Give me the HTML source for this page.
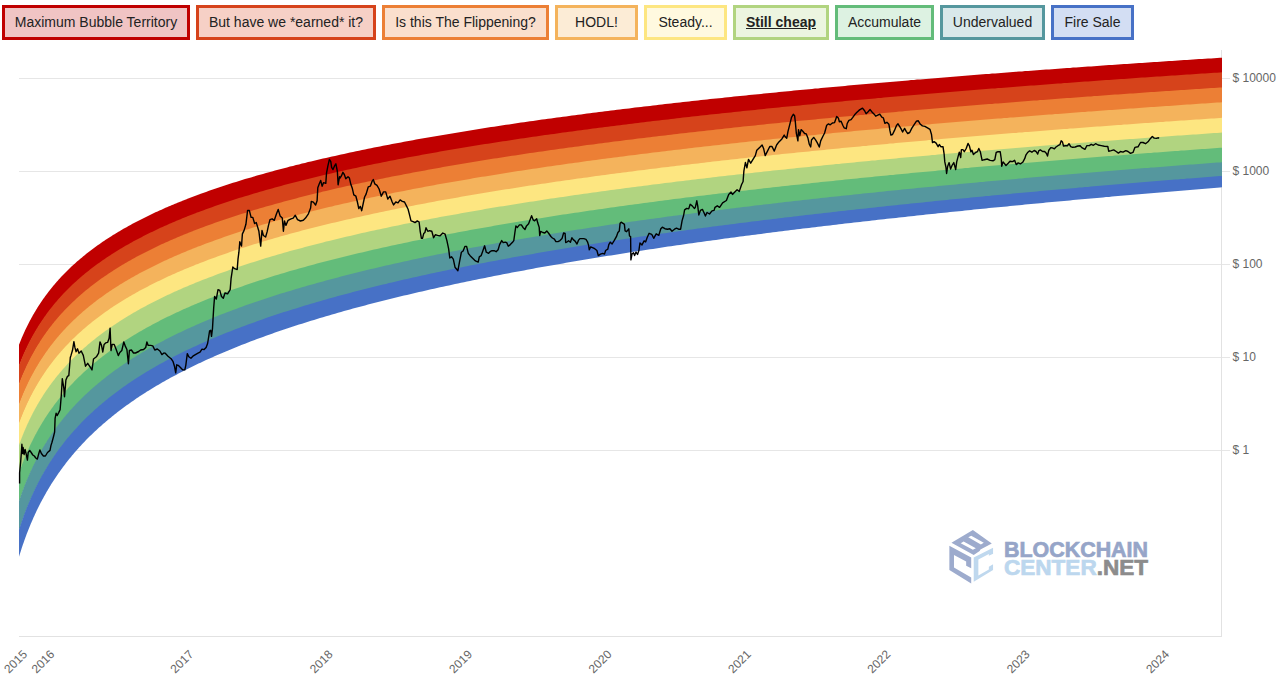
<!DOCTYPE html>
<html><head><meta charset="utf-8"><style>
html,body{margin:0;padding:0;background:#fff;width:1283px;height:690px;overflow:hidden;position:relative;font-family:"Liberation Sans",sans-serif}
.btn span{position:relative;top:-1px}
.btn{position:absolute;top:5px;height:35px;box-sizing:border-box;border:3px solid;font-size:14px;color:#222;display:flex;align-items:center;justify-content:center;white-space:nowrap}
svg{position:absolute;left:0;top:0}
.yl{font-family:"Liberation Sans",sans-serif;font-size:12px;fill:#666}
.xl{font-family:"Liberation Sans",sans-serif;font-size:12px;fill:#666}
.lg{font-family:"Liberation Sans",sans-serif;font-size:22px;font-weight:bold;stroke-width:0.7px}
</style></head><body>
<div class="btn" style="left:2px;width:188px;border-color:#C00000;background:#F0C4C4"><span>Maximum Bubble Territory</span></div>
<div class="btn" style="left:196px;width:180px;border-color:#D6431B;background:#F6D0C6"><span>But have we *earned* it?</span></div>
<div class="btn" style="left:382px;width:167px;border-color:#EC7F35;background:#FADFCD"><span>Is this The Flippening?</span></div>
<div class="btn" style="left:555px;width:83px;border-color:#F4B35C;background:#FCECD6"><span>HODL!</span></div>
<div class="btn" style="left:644px;width:83px;border-color:#FDE681;background:#FFF9DF"><span>Steady...</span></div>
<div class="btn" style="left:733px;width:96px;border-color:#B1D480;background:#ECF5E0"><span style="font-weight:bold;text-decoration:underline">Still cheap</span></div>
<div class="btn" style="left:835px;width:99px;border-color:#63BC7A;background:#DDF2E2"><span>Accumulate</span></div>
<div class="btn" style="left:940px;width:105px;border-color:#55979E;background:#D9E8EA"><span>Undervalued</span></div>
<div class="btn" style="left:1051px;width:83px;border-color:#4771C6;background:#D3DEF3"><span>Fire Sale</span></div>

<svg width="1283" height="690" viewBox="0 0 1283 690">
<line x1="19" y1="78.5" x2="1230" y2="78.5" stroke="#e6e6e6" stroke-width="1"/>
<text x="1232.5" y="82.1" class="yl">$ 10000</text>
<line x1="19" y1="171.5" x2="1230" y2="171.5" stroke="#e6e6e6" stroke-width="1"/>
<text x="1232.5" y="175.1" class="yl">$ 1000</text>
<line x1="19" y1="264.5" x2="1230" y2="264.5" stroke="#e6e6e6" stroke-width="1"/>
<text x="1232.5" y="268.1" class="yl">$ 100</text>
<line x1="19" y1="357.5" x2="1230" y2="357.5" stroke="#e6e6e6" stroke-width="1"/>
<text x="1232.5" y="361.1" class="yl">$ 10</text>
<line x1="19" y1="450.5" x2="1230" y2="450.5" stroke="#e6e6e6" stroke-width="1"/>
<text x="1232.5" y="454.1" class="yl">$ 1</text>

<line x1="19" y1="636.5" x2="1222" y2="636.5" stroke="#e2e2e2" stroke-width="1"/>
<line x1="1221.5" y1="50" x2="1221.5" y2="637" stroke="#e2e2e2" stroke-width="1"/>
<path d="M19.0,344.7 L19.5,343.4 L20.0,342.2 L20.5,340.9 L21.0,339.7 L21.5,338.5 L22.0,337.3 L22.5,336.2 L23.0,335.0 L23.5,333.9 L24.0,332.8 L24.5,331.7 L25.0,330.6 L25.5,329.6 L26.0,328.5 L26.5,327.5 L27.0,326.5 L27.5,325.4 L28.0,324.5 L28.5,323.5 L29.0,322.5 L29.5,321.5 L30.0,320.6 L30.5,319.7 L31.0,318.7 L31.5,317.8 L32.0,316.9 L32.5,316.0 L33.0,315.1 L33.5,314.3 L34.0,313.4 L34.5,312.6 L35.0,311.7 L35.5,310.9 L36.0,310.0 L36.5,309.2 L37.0,308.4 L37.5,307.6 L38.0,306.8 L38.5,306.0 L39.0,305.3 L39.5,304.5 L40.0,303.7 L40.5,303.0 L41.0,302.2 L41.5,301.5 L42.0,300.8 L42.5,300.0 L43.0,299.3 L43.5,298.6 L44.0,297.9 L44.5,297.2 L45.0,296.5 L45.5,295.8 L46.0,295.2 L46.5,294.5 L47.0,293.8 L47.5,293.2 L48.0,292.5 L48.5,291.8 L49.0,291.2 L49.5,290.6 L50.0,289.9 L50.5,289.3 L51.0,288.7 L51.5,288.0 L52.0,287.4 L52.5,286.8 L53.0,286.2 L53.5,285.6 L54.0,285.0 L54.5,284.4 L55.0,283.8 L55.5,283.3 L56.0,282.7 L56.5,282.1 L57.0,281.5 L57.5,281.0 L58.0,280.4 L58.5,279.8 L59.0,279.3 L59.5,278.7 L60.0,278.2 L61.0,277.1 L62.0,276.1 L63.0,275.0 L64.0,274.0 L65.0,272.9 L66.0,271.9 L67.0,270.9 L68.0,270.0 L69.0,269.0 L70.0,268.0 L71.0,267.1 L72.0,266.1 L73.0,265.2 L74.0,264.3 L75.0,263.4 L76.0,262.5 L77.0,261.6 L78.0,260.7 L79.0,259.9 L80.0,259.0 L81.0,258.2 L82.0,257.4 L83.0,256.5 L84.0,255.7 L85.0,254.9 L86.0,254.1 L87.0,253.3 L88.0,252.5 L89.0,251.7 L90.0,251.0 L91.0,250.2 L92.0,249.5 L93.0,248.7 L94.0,248.0 L95.0,247.2 L96.0,246.5 L97.0,245.8 L98.0,245.1 L99.0,244.4 L100.0,243.7 L101.0,243.0 L102.0,242.3 L103.0,241.6 L104.0,241.0 L105.0,240.3 L106.0,239.6 L107.0,239.0 L108.0,238.3 L109.0,237.7 L110.0,237.0 L111.0,236.4 L112.0,235.8 L113.0,235.1 L114.0,234.5 L115.0,233.9 L116.0,233.3 L117.0,232.7 L118.0,232.1 L119.0,231.5 L120.0,230.9 L121.0,230.3 L122.0,229.7 L123.0,229.1 L124.0,228.6 L125.0,228.0 L126.0,227.4 L127.0,226.9 L128.0,226.3 L129.0,225.8 L130.0,225.2 L131.0,224.7 L132.0,224.1 L133.0,223.6 L134.0,223.1 L135.0,222.5 L136.0,222.0 L137.0,221.5 L138.0,220.9 L139.0,220.4 L140.0,219.9 L141.0,219.4 L142.0,218.9 L143.0,218.4 L144.0,217.9 L145.0,217.4 L146.0,216.9 L147.0,216.4 L148.0,215.9 L149.0,215.4 L150.0,215.0 L151.0,214.5 L152.0,214.0 L153.0,213.5 L154.0,213.1 L155.0,212.6 L156.0,212.1 L157.0,211.7 L158.0,211.2 L159.0,210.8 L160.0,210.3 L161.0,209.9 L162.0,209.4 L163.0,209.0 L164.0,208.5 L165.0,208.1 L166.0,207.6 L167.0,207.2 L168.0,206.8 L169.0,206.3 L170.0,205.9 L171.0,205.5 L172.0,205.1 L173.0,204.7 L174.0,204.2 L175.0,203.8 L176.0,203.4 L177.0,203.0 L178.0,202.6 L179.0,202.2 L180.0,201.8 L181.0,201.4 L182.0,201.0 L183.0,200.6 L184.0,200.2 L185.0,199.8 L186.0,199.4 L187.0,199.0 L188.0,198.6 L189.0,198.2 L190.0,197.8 L191.0,197.4 L192.0,197.1 L193.0,196.7 L194.0,196.3 L195.0,195.9 L196.0,195.6 L197.0,195.2 L198.0,194.8 L199.0,194.4 L200.0,194.1 L203.0,193.0 L206.0,191.9 L209.0,190.8 L212.0,189.8 L215.0,188.8 L218.0,187.8 L221.0,186.7 L224.0,185.8 L227.0,184.8 L230.0,183.8 L233.0,182.8 L236.0,181.9 L239.0,181.0 L242.0,180.1 L245.0,179.1 L248.0,178.2 L251.0,177.4 L254.0,176.5 L257.0,175.6 L260.0,174.7 L263.0,173.9 L266.0,173.1 L269.0,172.2 L272.0,171.4 L275.0,170.6 L278.0,169.8 L281.0,169.0 L284.0,168.2 L287.0,167.4 L290.0,166.6 L293.0,165.9 L296.0,165.1 L299.0,164.4 L302.0,163.6 L305.0,162.9 L308.0,162.1 L311.0,161.4 L314.0,160.7 L317.0,160.0 L320.0,159.3 L323.0,158.6 L326.0,157.9 L329.0,157.2 L332.0,156.5 L335.0,155.9 L338.0,155.2 L341.0,154.5 L344.0,153.9 L347.0,153.2 L350.0,152.6 L353.0,152.0 L356.0,151.3 L359.0,150.7 L362.0,150.1 L365.0,149.4 L368.0,148.8 L371.0,148.2 L374.0,147.6 L377.0,147.0 L380.0,146.4 L383.0,145.8 L386.0,145.2 L389.0,144.7 L392.0,144.1 L395.0,143.5 L398.0,142.9 L401.0,142.4 L404.0,141.8 L407.0,141.3 L410.0,140.7 L413.0,140.2 L416.0,139.6 L419.0,139.1 L422.0,138.5 L425.0,138.0 L428.0,137.5 L431.0,137.0 L434.0,136.4 L437.0,135.9 L440.0,135.4 L443.0,134.9 L446.0,134.4 L449.0,133.9 L452.0,133.4 L455.0,132.9 L458.0,132.4 L461.0,131.9 L464.0,131.4 L467.0,130.9 L470.0,130.4 L473.0,129.9 L476.0,129.5 L479.0,129.0 L482.0,128.5 L485.0,128.0 L488.0,127.6 L491.0,127.1 L494.0,126.7 L497.0,126.2 L500.0,125.7 L503.0,125.3 L506.0,124.8 L509.0,124.4 L512.0,124.0 L515.0,123.5 L518.0,123.1 L521.0,122.6 L524.0,122.2 L527.0,121.8 L530.0,121.3 L533.0,120.9 L536.0,120.5 L539.0,120.1 L542.0,119.6 L545.0,119.2 L548.0,118.8 L551.0,118.4 L554.0,118.0 L557.0,117.6 L560.0,117.2 L563.0,116.8 L566.0,116.4 L569.0,116.0 L572.0,115.6 L575.0,115.2 L578.0,114.8 L581.0,114.4 L584.0,114.0 L587.0,113.6 L590.0,113.2 L593.0,112.8 L596.0,112.4 L599.0,112.1 L602.0,111.7 L605.0,111.3 L608.0,110.9 L611.0,110.6 L614.0,110.2 L617.0,109.8 L620.0,109.4 L623.0,109.1 L626.0,108.7 L629.0,108.4 L632.0,108.0 L635.0,107.6 L638.0,107.3 L641.0,106.9 L644.0,106.6 L647.0,106.2 L650.0,105.9 L653.0,105.5 L656.0,105.2 L659.0,104.8 L662.0,104.5 L665.0,104.1 L668.0,103.8 L671.0,103.4 L674.0,103.1 L677.0,102.8 L680.0,102.4 L683.0,102.1 L686.0,101.8 L689.0,101.4 L692.0,101.1 L695.0,100.8 L698.0,100.4 L701.0,100.1 L704.0,99.8 L707.0,99.5 L710.0,99.1 L713.0,98.8 L716.0,98.5 L719.0,98.2 L722.0,97.9 L725.0,97.6 L728.0,97.2 L731.0,96.9 L734.0,96.6 L737.0,96.3 L740.0,96.0 L743.0,95.7 L746.0,95.4 L749.0,95.1 L752.0,94.8 L755.0,94.5 L758.0,94.2 L761.0,93.9 L764.0,93.6 L767.0,93.3 L770.0,93.0 L773.0,92.7 L776.0,92.4 L779.0,92.1 L782.0,91.8 L785.0,91.5 L788.0,91.2 L791.0,90.9 L794.0,90.6 L797.0,90.3 L800.0,90.1 L803.0,89.8 L806.0,89.5 L809.0,89.2 L812.0,88.9 L815.0,88.6 L818.0,88.4 L821.0,88.1 L824.0,87.8 L827.0,87.5 L830.0,87.3 L833.0,87.0 L836.0,86.7 L839.0,86.4 L842.0,86.2 L845.0,85.9 L848.0,85.6 L851.0,85.3 L854.0,85.1 L857.0,84.8 L860.0,84.5 L863.0,84.3 L866.0,84.0 L869.0,83.8 L872.0,83.5 L875.0,83.2 L878.0,83.0 L881.0,82.7 L884.0,82.4 L887.0,82.2 L890.0,81.9 L893.0,81.7 L896.0,81.4 L899.0,81.2 L902.0,80.9 L905.0,80.7 L908.0,80.4 L911.0,80.1 L914.0,79.9 L917.0,79.6 L920.0,79.4 L923.0,79.2 L926.0,78.9 L929.0,78.7 L932.0,78.4 L935.0,78.2 L938.0,77.9 L941.0,77.7 L944.0,77.4 L947.0,77.2 L950.0,76.9 L953.0,76.7 L956.0,76.5 L959.0,76.2 L962.0,76.0 L965.0,75.8 L968.0,75.5 L971.0,75.3 L974.0,75.0 L977.0,74.8 L980.0,74.6 L983.0,74.3 L986.0,74.1 L989.0,73.9 L992.0,73.6 L995.0,73.4 L998.0,73.2 L1001.0,73.0 L1004.0,72.7 L1007.0,72.5 L1010.0,72.3 L1013.0,72.0 L1016.0,71.8 L1019.0,71.6 L1022.0,71.4 L1025.0,71.1 L1028.0,70.9 L1031.0,70.7 L1034.0,70.5 L1037.0,70.3 L1040.0,70.0 L1043.0,69.8 L1046.0,69.6 L1049.0,69.4 L1052.0,69.2 L1055.0,68.9 L1058.0,68.7 L1061.0,68.5 L1064.0,68.3 L1067.0,68.1 L1070.0,67.9 L1073.0,67.6 L1076.0,67.4 L1079.0,67.2 L1082.0,67.0 L1085.0,66.8 L1088.0,66.6 L1091.0,66.4 L1094.0,66.2 L1097.0,66.0 L1100.0,65.7 L1103.0,65.5 L1106.0,65.3 L1109.0,65.1 L1112.0,64.9 L1115.0,64.7 L1118.0,64.5 L1121.0,64.3 L1124.0,64.1 L1127.0,63.9 L1130.0,63.7 L1133.0,63.5 L1136.0,63.3 L1139.0,63.1 L1142.0,62.9 L1145.0,62.7 L1148.0,62.5 L1151.0,62.3 L1154.0,62.1 L1157.0,61.9 L1160.0,61.7 L1163.0,61.5 L1166.0,61.3 L1169.0,61.1 L1172.0,60.9 L1175.0,60.7 L1178.0,60.5 L1181.0,60.3 L1184.0,60.1 L1187.0,59.9 L1190.0,59.7 L1193.0,59.5 L1196.0,59.3 L1199.0,59.1 L1202.0,59.0 L1205.0,58.8 L1208.0,58.6 L1211.0,58.4 L1214.0,58.2 L1217.0,58.0 L1220.0,57.8 L1222.0,57.7 L1222.0,73.5 L1220.0,73.7 L1217.0,73.9 L1214.0,74.0 L1211.0,74.2 L1208.0,74.4 L1205.0,74.6 L1202.0,74.8 L1199.0,75.0 L1196.0,75.2 L1193.0,75.4 L1190.0,75.6 L1187.0,75.8 L1184.0,76.0 L1181.0,76.2 L1178.0,76.4 L1175.0,76.6 L1172.0,76.8 L1169.0,77.0 L1166.0,77.2 L1163.0,77.4 L1160.0,77.6 L1157.0,77.8 L1154.0,78.0 L1151.0,78.2 L1148.0,78.4 L1145.0,78.6 L1142.0,78.8 L1139.0,79.0 L1136.0,79.2 L1133.0,79.4 L1130.0,79.6 L1127.0,79.9 L1124.0,80.1 L1121.0,80.3 L1118.0,80.5 L1115.0,80.7 L1112.0,80.9 L1109.0,81.1 L1106.0,81.3 L1103.0,81.5 L1100.0,81.7 L1097.0,82.0 L1094.0,82.2 L1091.0,82.4 L1088.0,82.6 L1085.0,82.8 L1082.0,83.0 L1079.0,83.3 L1076.0,83.5 L1073.0,83.7 L1070.0,83.9 L1067.0,84.1 L1064.0,84.3 L1061.0,84.6 L1058.0,84.8 L1055.0,85.0 L1052.0,85.2 L1049.0,85.5 L1046.0,85.7 L1043.0,85.9 L1040.0,86.1 L1037.0,86.4 L1034.0,86.6 L1031.0,86.8 L1028.0,87.0 L1025.0,87.3 L1022.0,87.5 L1019.0,87.7 L1016.0,87.9 L1013.0,88.2 L1010.0,88.4 L1007.0,88.6 L1004.0,88.9 L1001.0,89.1 L998.0,89.3 L995.0,89.6 L992.0,89.8 L989.0,90.0 L986.0,90.3 L983.0,90.5 L980.0,90.8 L977.0,91.0 L974.0,91.2 L971.0,91.5 L968.0,91.7 L965.0,92.0 L962.0,92.2 L959.0,92.4 L956.0,92.7 L953.0,92.9 L950.0,93.2 L947.0,93.4 L944.0,93.7 L941.0,93.9 L938.0,94.2 L935.0,94.4 L932.0,94.7 L929.0,94.9 L926.0,95.2 L923.0,95.4 L920.0,95.7 L917.0,95.9 L914.0,96.2 L911.0,96.4 L908.0,96.7 L905.0,97.0 L902.0,97.2 L899.0,97.5 L896.0,97.7 L893.0,98.0 L890.0,98.3 L887.0,98.5 L884.0,98.8 L881.0,99.1 L878.0,99.3 L875.0,99.6 L872.0,99.9 L869.0,100.1 L866.0,100.4 L863.0,100.7 L860.0,100.9 L857.0,101.2 L854.0,101.5 L851.0,101.8 L848.0,102.0 L845.0,102.3 L842.0,102.6 L839.0,102.9 L836.0,103.1 L833.0,103.4 L830.0,103.7 L827.0,104.0 L824.0,104.3 L821.0,104.5 L818.0,104.8 L815.0,105.1 L812.0,105.4 L809.0,105.7 L806.0,106.0 L803.0,106.3 L800.0,106.6 L797.0,106.9 L794.0,107.1 L791.0,107.4 L788.0,107.7 L785.0,108.0 L782.0,108.3 L779.0,108.6 L776.0,108.9 L773.0,109.2 L770.0,109.5 L767.0,109.8 L764.0,110.1 L761.0,110.4 L758.0,110.8 L755.0,111.1 L752.0,111.4 L749.0,111.7 L746.0,112.0 L743.0,112.3 L740.0,112.6 L737.0,112.9 L734.0,113.3 L731.0,113.6 L728.0,113.9 L725.0,114.2 L722.0,114.5 L719.0,114.9 L716.0,115.2 L713.0,115.5 L710.0,115.8 L707.0,116.2 L704.0,116.5 L701.0,116.8 L698.0,117.2 L695.0,117.5 L692.0,117.8 L689.0,118.2 L686.0,118.5 L683.0,118.8 L680.0,119.2 L677.0,119.5 L674.0,119.9 L671.0,120.2 L668.0,120.6 L665.0,120.9 L662.0,121.3 L659.0,121.6 L656.0,122.0 L653.0,122.3 L650.0,122.7 L647.0,123.0 L644.0,123.4 L641.0,123.8 L638.0,124.1 L635.0,124.5 L632.0,124.9 L629.0,125.2 L626.0,125.6 L623.0,126.0 L620.0,126.4 L617.0,126.7 L614.0,127.1 L611.0,127.5 L608.0,127.9 L605.0,128.2 L602.0,128.6 L599.0,129.0 L596.0,129.4 L593.0,129.8 L590.0,130.2 L587.0,130.6 L584.0,131.0 L581.0,131.4 L578.0,131.8 L575.0,132.2 L572.0,132.6 L569.0,133.0 L566.0,133.4 L563.0,133.8 L560.0,134.2 L557.0,134.6 L554.0,135.1 L551.0,135.5 L548.0,135.9 L545.0,136.3 L542.0,136.8 L539.0,137.2 L536.0,137.6 L533.0,138.0 L530.0,138.5 L527.0,138.9 L524.0,139.4 L521.0,139.8 L518.0,140.3 L515.0,140.7 L512.0,141.2 L509.0,141.6 L506.0,142.1 L503.0,142.5 L500.0,143.0 L497.0,143.4 L494.0,143.9 L491.0,144.4 L488.0,144.9 L485.0,145.3 L482.0,145.8 L479.0,146.3 L476.0,146.8 L473.0,147.3 L470.0,147.8 L467.0,148.2 L464.0,148.7 L461.0,149.2 L458.0,149.7 L455.0,150.3 L452.0,150.8 L449.0,151.3 L446.0,151.8 L443.0,152.3 L440.0,152.8 L437.0,153.4 L434.0,153.9 L431.0,154.4 L428.0,155.0 L425.0,155.5 L422.0,156.0 L419.0,156.6 L416.0,157.1 L413.0,157.7 L410.0,158.3 L407.0,158.8 L404.0,159.4 L401.0,160.0 L398.0,160.5 L395.0,161.1 L392.0,161.7 L389.0,162.3 L386.0,162.9 L383.0,163.5 L380.0,164.1 L377.0,164.7 L374.0,165.3 L371.0,165.9 L368.0,166.5 L365.0,167.2 L362.0,167.8 L359.0,168.4 L356.0,169.1 L353.0,169.7 L350.0,170.4 L347.0,171.0 L344.0,171.7 L341.0,172.4 L338.0,173.0 L335.0,173.7 L332.0,174.4 L329.0,175.1 L326.0,175.8 L323.0,176.5 L320.0,177.2 L317.0,177.9 L314.0,178.7 L311.0,179.4 L308.0,180.1 L305.0,180.9 L302.0,181.6 L299.0,182.4 L296.0,183.2 L293.0,183.9 L290.0,184.7 L287.0,185.5 L284.0,186.3 L281.0,187.1 L278.0,187.9 L275.0,188.7 L272.0,189.6 L269.0,190.4 L266.0,191.3 L263.0,192.1 L260.0,193.0 L257.0,193.9 L254.0,194.8 L251.0,195.6 L248.0,196.6 L245.0,197.5 L242.0,198.4 L239.0,199.3 L236.0,200.3 L233.0,201.3 L230.0,202.2 L227.0,203.2 L224.0,204.2 L221.0,205.2 L218.0,206.3 L215.0,207.3 L212.0,208.4 L209.0,209.4 L206.0,210.5 L203.0,211.6 L200.0,212.7 L199.0,213.1 L198.0,213.5 L197.0,213.8 L196.0,214.2 L195.0,214.6 L194.0,215.0 L193.0,215.4 L192.0,215.8 L191.0,216.2 L190.0,216.5 L189.0,216.9 L188.0,217.3 L187.0,217.7 L186.0,218.1 L185.0,218.5 L184.0,218.9 L183.0,219.3 L182.0,219.7 L181.0,220.2 L180.0,220.6 L179.0,221.0 L178.0,221.4 L177.0,221.8 L176.0,222.2 L175.0,222.7 L174.0,223.1 L173.0,223.5 L172.0,223.9 L171.0,224.4 L170.0,224.8 L169.0,225.2 L168.0,225.7 L167.0,226.1 L166.0,226.6 L165.0,227.0 L164.0,227.5 L163.0,227.9 L162.0,228.4 L161.0,228.8 L160.0,229.3 L159.0,229.7 L158.0,230.2 L157.0,230.7 L156.0,231.2 L155.0,231.6 L154.0,232.1 L153.0,232.6 L152.0,233.1 L151.0,233.5 L150.0,234.0 L149.0,234.5 L148.0,235.0 L147.0,235.5 L146.0,236.0 L145.0,236.5 L144.0,237.0 L143.0,237.5 L142.0,238.1 L141.0,238.6 L140.0,239.1 L139.0,239.6 L138.0,240.1 L137.0,240.7 L136.0,241.2 L135.0,241.7 L134.0,242.3 L133.0,242.8 L132.0,243.4 L131.0,243.9 L130.0,244.5 L129.0,245.1 L128.0,245.6 L127.0,246.2 L126.0,246.8 L125.0,247.3 L124.0,247.9 L123.0,248.5 L122.0,249.1 L121.0,249.7 L120.0,250.3 L119.0,250.9 L118.0,251.5 L117.0,252.1 L116.0,252.7 L115.0,253.4 L114.0,254.0 L113.0,254.6 L112.0,255.3 L111.0,255.9 L110.0,256.6 L109.0,257.2 L108.0,257.9 L107.0,258.5 L106.0,259.2 L105.0,259.9 L104.0,260.6 L103.0,261.2 L102.0,261.9 L101.0,262.6 L100.0,263.4 L99.0,264.1 L98.0,264.8 L97.0,265.5 L96.0,266.2 L95.0,267.0 L94.0,267.7 L93.0,268.5 L92.0,269.2 L91.0,270.0 L90.0,270.8 L89.0,271.6 L88.0,272.4 L87.0,273.2 L86.0,274.0 L85.0,274.8 L84.0,275.6 L83.0,276.5 L82.0,277.3 L81.0,278.1 L80.0,279.0 L79.0,279.9 L78.0,280.8 L77.0,281.7 L76.0,282.6 L75.0,283.5 L74.0,284.4 L73.0,285.3 L72.0,286.3 L71.0,287.2 L70.0,288.2 L69.0,289.2 L68.0,290.2 L67.0,291.2 L66.0,292.2 L65.0,293.2 L64.0,294.3 L63.0,295.3 L62.0,296.4 L61.0,297.5 L60.0,298.6 L59.5,299.1 L59.0,299.7 L58.5,300.3 L58.0,300.8 L57.5,301.4 L57.0,302.0 L56.5,302.6 L56.0,303.1 L55.5,303.7 L55.0,304.3 L54.5,304.9 L54.0,305.5 L53.5,306.1 L53.0,306.7 L52.5,307.4 L52.0,308.0 L51.5,308.6 L51.0,309.3 L50.5,309.9 L50.0,310.5 L49.5,311.2 L49.0,311.8 L48.5,312.5 L48.0,313.2 L47.5,313.8 L47.0,314.5 L46.5,315.2 L46.0,315.9 L45.5,316.6 L45.0,317.3 L44.5,318.0 L44.0,318.7 L43.5,319.4 L43.0,320.1 L42.5,320.9 L42.0,321.6 L41.5,322.4 L41.0,323.1 L40.5,323.9 L40.0,324.6 L39.5,325.4 L39.0,326.2 L38.5,327.0 L38.0,327.8 L37.5,328.6 L37.0,329.4 L36.5,330.2 L36.0,331.1 L35.5,331.9 L35.0,332.8 L34.5,333.6 L34.0,334.5 L33.5,335.4 L33.0,336.3 L32.5,337.2 L32.0,338.1 L31.5,339.0 L31.0,339.9 L30.5,340.9 L30.0,341.8 L29.5,342.8 L29.0,343.8 L28.5,344.8 L28.0,345.8 L27.5,346.8 L27.0,347.8 L26.5,348.9 L26.0,349.9 L25.5,351.0 L25.0,352.1 L24.5,353.2 L24.0,354.3 L23.5,355.4 L23.0,356.6 L22.5,357.7 L22.0,358.9 L21.5,360.1 L21.0,361.4 L20.5,362.6 L20.0,363.9 L19.5,365.1 L19.0,366.4Z" fill="#C00000"/><path d="M19.0,365.2 L19.5,363.9 L20.0,362.7 L20.5,361.4 L21.0,360.2 L21.5,358.9 L22.0,357.7 L22.5,356.5 L23.0,355.4 L23.5,354.2 L24.0,353.1 L24.5,352.0 L25.0,350.9 L25.5,349.8 L26.0,348.7 L26.5,347.7 L27.0,346.6 L27.5,345.6 L28.0,344.6 L28.5,343.6 L29.0,342.6 L29.5,341.6 L30.0,340.6 L30.5,339.7 L31.0,338.7 L31.5,337.8 L32.0,336.9 L32.5,336.0 L33.0,335.1 L33.5,334.2 L34.0,333.3 L34.5,332.4 L35.0,331.6 L35.5,330.7 L36.0,329.9 L36.5,329.0 L37.0,328.2 L37.5,327.4 L38.0,326.6 L38.5,325.8 L39.0,325.0 L39.5,324.2 L40.0,323.4 L40.5,322.7 L41.0,321.9 L41.5,321.2 L42.0,320.4 L42.5,319.7 L43.0,318.9 L43.5,318.2 L44.0,317.5 L44.5,316.8 L45.0,316.1 L45.5,315.4 L46.0,314.7 L46.5,314.0 L47.0,313.3 L47.5,312.6 L48.0,312.0 L48.5,311.3 L49.0,310.6 L49.5,310.0 L50.0,309.3 L50.5,308.7 L51.0,308.1 L51.5,307.4 L52.0,306.8 L52.5,306.2 L53.0,305.5 L53.5,304.9 L54.0,304.3 L54.5,303.7 L55.0,303.1 L55.5,302.5 L56.0,301.9 L56.5,301.4 L57.0,300.8 L57.5,300.2 L58.0,299.6 L58.5,299.1 L59.0,298.5 L59.5,297.9 L60.0,297.4 L61.0,296.3 L62.0,295.2 L63.0,294.1 L64.0,293.1 L65.0,292.0 L66.0,291.0 L67.0,290.0 L68.0,289.0 L69.0,288.0 L70.0,287.0 L71.0,286.0 L72.0,285.1 L73.0,284.1 L74.0,283.2 L75.0,282.3 L76.0,281.4 L77.0,280.5 L78.0,279.6 L79.0,278.7 L80.0,277.8 L81.0,276.9 L82.0,276.1 L83.0,275.3 L84.0,274.4 L85.0,273.6 L86.0,272.8 L87.0,272.0 L88.0,271.2 L89.0,270.4 L90.0,269.6 L91.0,268.8 L92.0,268.0 L93.0,267.3 L94.0,266.5 L95.0,265.8 L96.0,265.0 L97.0,264.3 L98.0,263.6 L99.0,262.9 L100.0,262.2 L101.0,261.4 L102.0,260.7 L103.0,260.0 L104.0,259.4 L105.0,258.7 L106.0,258.0 L107.0,257.3 L108.0,256.7 L109.0,256.0 L110.0,255.4 L111.0,254.7 L112.0,254.1 L113.0,253.4 L114.0,252.8 L115.0,252.2 L116.0,251.5 L117.0,250.9 L118.0,250.3 L119.0,249.7 L120.0,249.1 L121.0,248.5 L122.0,247.9 L123.0,247.3 L124.0,246.7 L125.0,246.1 L126.0,245.6 L127.0,245.0 L128.0,244.4 L129.0,243.9 L130.0,243.3 L131.0,242.7 L132.0,242.2 L133.0,241.6 L134.0,241.1 L135.0,240.5 L136.0,240.0 L137.0,239.5 L138.0,238.9 L139.0,238.4 L140.0,237.9 L141.0,237.4 L142.0,236.9 L143.0,236.3 L144.0,235.8 L145.0,235.3 L146.0,234.8 L147.0,234.3 L148.0,233.8 L149.0,233.3 L150.0,232.8 L151.0,232.3 L152.0,231.9 L153.0,231.4 L154.0,230.9 L155.0,230.4 L156.0,230.0 L157.0,229.5 L158.0,229.0 L159.0,228.5 L160.0,228.1 L161.0,227.6 L162.0,227.2 L163.0,226.7 L164.0,226.3 L165.0,225.8 L166.0,225.4 L167.0,224.9 L168.0,224.5 L169.0,224.0 L170.0,223.6 L171.0,223.2 L172.0,222.7 L173.0,222.3 L174.0,221.9 L175.0,221.5 L176.0,221.0 L177.0,220.6 L178.0,220.2 L179.0,219.8 L180.0,219.4 L181.0,219.0 L182.0,218.5 L183.0,218.1 L184.0,217.7 L185.0,217.3 L186.0,216.9 L187.0,216.5 L188.0,216.1 L189.0,215.7 L190.0,215.3 L191.0,215.0 L192.0,214.6 L193.0,214.2 L194.0,213.8 L195.0,213.4 L196.0,213.0 L197.0,212.6 L198.0,212.3 L199.0,211.9 L200.0,211.5 L203.0,210.4 L206.0,209.3 L209.0,208.2 L212.0,207.2 L215.0,206.1 L218.0,205.1 L221.0,204.0 L224.0,203.0 L227.0,202.0 L230.0,201.0 L233.0,200.1 L236.0,199.1 L239.0,198.1 L242.0,197.2 L245.0,196.3 L248.0,195.4 L251.0,194.4 L254.0,193.6 L257.0,192.7 L260.0,191.8 L263.0,190.9 L266.0,190.1 L269.0,189.2 L272.0,188.4 L275.0,187.5 L278.0,186.7 L281.0,185.9 L284.0,185.1 L287.0,184.3 L290.0,183.5 L293.0,182.7 L296.0,182.0 L299.0,181.2 L302.0,180.4 L305.0,179.7 L308.0,178.9 L311.0,178.2 L314.0,177.5 L317.0,176.7 L320.0,176.0 L323.0,175.3 L326.0,174.6 L329.0,173.9 L332.0,173.2 L335.0,172.5 L338.0,171.8 L341.0,171.2 L344.0,170.5 L347.0,169.8 L350.0,169.2 L353.0,168.5 L356.0,167.9 L359.0,167.2 L362.0,166.6 L365.0,166.0 L368.0,165.3 L371.0,164.7 L374.0,164.1 L377.0,163.5 L380.0,162.9 L383.0,162.3 L386.0,161.7 L389.0,161.1 L392.0,160.5 L395.0,159.9 L398.0,159.3 L401.0,158.8 L404.0,158.2 L407.0,157.6 L410.0,157.1 L413.0,156.5 L416.0,155.9 L419.0,155.4 L422.0,154.8 L425.0,154.3 L428.0,153.8 L431.0,153.2 L434.0,152.7 L437.0,152.2 L440.0,151.6 L443.0,151.1 L446.0,150.6 L449.0,150.1 L452.0,149.6 L455.0,149.1 L458.0,148.5 L461.0,148.0 L464.0,147.5 L467.0,147.0 L470.0,146.6 L473.0,146.1 L476.0,145.6 L479.0,145.1 L482.0,144.6 L485.0,144.1 L488.0,143.7 L491.0,143.2 L494.0,142.7 L497.0,142.2 L500.0,141.8 L503.0,141.3 L506.0,140.9 L509.0,140.4 L512.0,140.0 L515.0,139.5 L518.0,139.1 L521.0,138.6 L524.0,138.2 L527.0,137.7 L530.0,137.3 L533.0,136.8 L536.0,136.4 L539.0,136.0 L542.0,135.6 L545.0,135.1 L548.0,134.7 L551.0,134.3 L554.0,133.9 L557.0,133.4 L560.0,133.0 L563.0,132.6 L566.0,132.2 L569.0,131.8 L572.0,131.4 L575.0,131.0 L578.0,130.6 L581.0,130.2 L584.0,129.8 L587.0,129.4 L590.0,129.0 L593.0,128.6 L596.0,128.2 L599.0,127.8 L602.0,127.4 L605.0,127.0 L608.0,126.7 L611.0,126.3 L614.0,125.9 L617.0,125.5 L620.0,125.2 L623.0,124.8 L626.0,124.4 L629.0,124.0 L632.0,123.7 L635.0,123.3 L638.0,122.9 L641.0,122.6 L644.0,122.2 L647.0,121.8 L650.0,121.5 L653.0,121.1 L656.0,120.8 L659.0,120.4 L662.0,120.1 L665.0,119.7 L668.0,119.4 L671.0,119.0 L674.0,118.7 L677.0,118.3 L680.0,118.0 L683.0,117.6 L686.0,117.3 L689.0,117.0 L692.0,116.6 L695.0,116.3 L698.0,116.0 L701.0,115.6 L704.0,115.3 L707.0,115.0 L710.0,114.6 L713.0,114.3 L716.0,114.0 L719.0,113.7 L722.0,113.3 L725.0,113.0 L728.0,112.7 L731.0,112.4 L734.0,112.1 L737.0,111.7 L740.0,111.4 L743.0,111.1 L746.0,110.8 L749.0,110.5 L752.0,110.2 L755.0,109.9 L758.0,109.6 L761.0,109.2 L764.0,108.9 L767.0,108.6 L770.0,108.3 L773.0,108.0 L776.0,107.7 L779.0,107.4 L782.0,107.1 L785.0,106.8 L788.0,106.5 L791.0,106.2 L794.0,105.9 L797.0,105.7 L800.0,105.4 L803.0,105.1 L806.0,104.8 L809.0,104.5 L812.0,104.2 L815.0,103.9 L818.0,103.6 L821.0,103.3 L824.0,103.1 L827.0,102.8 L830.0,102.5 L833.0,102.2 L836.0,101.9 L839.0,101.7 L842.0,101.4 L845.0,101.1 L848.0,100.8 L851.0,100.6 L854.0,100.3 L857.0,100.0 L860.0,99.7 L863.0,99.5 L866.0,99.2 L869.0,98.9 L872.0,98.7 L875.0,98.4 L878.0,98.1 L881.0,97.9 L884.0,97.6 L887.0,97.3 L890.0,97.1 L893.0,96.8 L896.0,96.5 L899.0,96.3 L902.0,96.0 L905.0,95.8 L908.0,95.5 L911.0,95.2 L914.0,95.0 L917.0,94.7 L920.0,94.5 L923.0,94.2 L926.0,94.0 L929.0,93.7 L932.0,93.5 L935.0,93.2 L938.0,93.0 L941.0,92.7 L944.0,92.5 L947.0,92.2 L950.0,92.0 L953.0,91.7 L956.0,91.5 L959.0,91.2 L962.0,91.0 L965.0,90.8 L968.0,90.5 L971.0,90.3 L974.0,90.0 L977.0,89.8 L980.0,89.6 L983.0,89.3 L986.0,89.1 L989.0,88.8 L992.0,88.6 L995.0,88.4 L998.0,88.1 L1001.0,87.9 L1004.0,87.7 L1007.0,87.4 L1010.0,87.2 L1013.0,87.0 L1016.0,86.7 L1019.0,86.5 L1022.0,86.3 L1025.0,86.1 L1028.0,85.8 L1031.0,85.6 L1034.0,85.4 L1037.0,85.2 L1040.0,84.9 L1043.0,84.7 L1046.0,84.5 L1049.0,84.3 L1052.0,84.0 L1055.0,83.8 L1058.0,83.6 L1061.0,83.4 L1064.0,83.1 L1067.0,82.9 L1070.0,82.7 L1073.0,82.5 L1076.0,82.3 L1079.0,82.1 L1082.0,81.8 L1085.0,81.6 L1088.0,81.4 L1091.0,81.2 L1094.0,81.0 L1097.0,80.8 L1100.0,80.5 L1103.0,80.3 L1106.0,80.1 L1109.0,79.9 L1112.0,79.7 L1115.0,79.5 L1118.0,79.3 L1121.0,79.1 L1124.0,78.9 L1127.0,78.7 L1130.0,78.4 L1133.0,78.2 L1136.0,78.0 L1139.0,77.8 L1142.0,77.6 L1145.0,77.4 L1148.0,77.2 L1151.0,77.0 L1154.0,76.8 L1157.0,76.6 L1160.0,76.4 L1163.0,76.2 L1166.0,76.0 L1169.0,75.8 L1172.0,75.6 L1175.0,75.4 L1178.0,75.2 L1181.0,75.0 L1184.0,74.8 L1187.0,74.6 L1190.0,74.4 L1193.0,74.2 L1196.0,74.0 L1199.0,73.8 L1202.0,73.6 L1205.0,73.4 L1208.0,73.2 L1211.0,73.0 L1214.0,72.8 L1217.0,72.7 L1220.0,72.5 L1222.0,72.3 L1222.0,88.6 L1220.0,88.7 L1217.0,88.9 L1214.0,89.1 L1211.0,89.3 L1208.0,89.5 L1205.0,89.7 L1202.0,89.9 L1199.0,90.1 L1196.0,90.3 L1193.0,90.5 L1190.0,90.7 L1187.0,90.9 L1184.0,91.1 L1181.0,91.3 L1178.0,91.5 L1175.0,91.7 L1172.0,91.9 L1169.0,92.1 L1166.0,92.3 L1163.0,92.5 L1160.0,92.7 L1157.0,92.9 L1154.0,93.1 L1151.0,93.3 L1148.0,93.5 L1145.0,93.7 L1142.0,93.9 L1139.0,94.1 L1136.0,94.4 L1133.0,94.6 L1130.0,94.8 L1127.0,95.0 L1124.0,95.2 L1121.0,95.4 L1118.0,95.6 L1115.0,95.8 L1112.0,96.0 L1109.0,96.3 L1106.0,96.5 L1103.0,96.7 L1100.0,96.9 L1097.0,97.1 L1094.0,97.3 L1091.0,97.6 L1088.0,97.8 L1085.0,98.0 L1082.0,98.2 L1079.0,98.4 L1076.0,98.6 L1073.0,98.9 L1070.0,99.1 L1067.0,99.3 L1064.0,99.5 L1061.0,99.8 L1058.0,100.0 L1055.0,100.2 L1052.0,100.4 L1049.0,100.7 L1046.0,100.9 L1043.0,101.1 L1040.0,101.3 L1037.0,101.6 L1034.0,101.8 L1031.0,102.0 L1028.0,102.3 L1025.0,102.5 L1022.0,102.7 L1019.0,102.9 L1016.0,103.2 L1013.0,103.4 L1010.0,103.6 L1007.0,103.9 L1004.0,104.1 L1001.0,104.4 L998.0,104.6 L995.0,104.8 L992.0,105.1 L989.0,105.3 L986.0,105.5 L983.0,105.8 L980.0,106.0 L977.0,106.3 L974.0,106.5 L971.0,106.8 L968.0,107.0 L965.0,107.2 L962.0,107.5 L959.0,107.7 L956.0,108.0 L953.0,108.2 L950.0,108.5 L947.0,108.7 L944.0,109.0 L941.0,109.2 L938.0,109.5 L935.0,109.7 L932.0,110.0 L929.0,110.2 L926.0,110.5 L923.0,110.8 L920.0,111.0 L917.0,111.3 L914.0,111.5 L911.0,111.8 L908.0,112.0 L905.0,112.3 L902.0,112.6 L899.0,112.8 L896.0,113.1 L893.0,113.4 L890.0,113.6 L887.0,113.9 L884.0,114.2 L881.0,114.4 L878.0,114.7 L875.0,115.0 L872.0,115.2 L869.0,115.5 L866.0,115.8 L863.0,116.1 L860.0,116.3 L857.0,116.6 L854.0,116.9 L851.0,117.2 L848.0,117.4 L845.0,117.7 L842.0,118.0 L839.0,118.3 L836.0,118.6 L833.0,118.8 L830.0,119.1 L827.0,119.4 L824.0,119.7 L821.0,120.0 L818.0,120.3 L815.0,120.6 L812.0,120.9 L809.0,121.1 L806.0,121.4 L803.0,121.7 L800.0,122.0 L797.0,122.3 L794.0,122.6 L791.0,122.9 L788.0,123.2 L785.0,123.5 L782.0,123.8 L779.0,124.1 L776.0,124.4 L773.0,124.7 L770.0,125.0 L767.0,125.3 L764.0,125.7 L761.0,126.0 L758.0,126.3 L755.0,126.6 L752.0,126.9 L749.0,127.2 L746.0,127.5 L743.0,127.8 L740.0,128.2 L737.0,128.5 L734.0,128.8 L731.0,129.1 L728.0,129.4 L725.0,129.8 L722.0,130.1 L719.0,130.4 L716.0,130.8 L713.0,131.1 L710.0,131.4 L707.0,131.8 L704.0,132.1 L701.0,132.4 L698.0,132.8 L695.0,133.1 L692.0,133.4 L689.0,133.8 L686.0,134.1 L683.0,134.5 L680.0,134.8 L677.0,135.2 L674.0,135.5 L671.0,135.9 L668.0,136.2 L665.0,136.6 L662.0,136.9 L659.0,137.3 L656.0,137.6 L653.0,138.0 L650.0,138.4 L647.0,138.7 L644.0,139.1 L641.0,139.4 L638.0,139.8 L635.0,140.2 L632.0,140.6 L629.0,140.9 L626.0,141.3 L623.0,141.7 L620.0,142.1 L617.0,142.4 L614.0,142.8 L611.0,143.2 L608.0,143.6 L605.0,144.0 L602.0,144.4 L599.0,144.8 L596.0,145.2 L593.0,145.6 L590.0,145.9 L587.0,146.3 L584.0,146.7 L581.0,147.2 L578.0,147.6 L575.0,148.0 L572.0,148.4 L569.0,148.8 L566.0,149.2 L563.0,149.6 L560.0,150.0 L557.0,150.5 L554.0,150.9 L551.0,151.3 L548.0,151.7 L545.0,152.2 L542.0,152.6 L539.0,153.0 L536.0,153.5 L533.0,153.9 L530.0,154.3 L527.0,154.8 L524.0,155.2 L521.0,155.7 L518.0,156.1 L515.0,156.6 L512.0,157.0 L509.0,157.5 L506.0,158.0 L503.0,158.4 L500.0,158.9 L497.0,159.4 L494.0,159.8 L491.0,160.3 L488.0,160.8 L485.0,161.3 L482.0,161.8 L479.0,162.2 L476.0,162.7 L473.0,163.2 L470.0,163.7 L467.0,164.2 L464.0,164.7 L461.0,165.2 L458.0,165.7 L455.0,166.3 L452.0,166.8 L449.0,167.3 L446.0,167.8 L443.0,168.3 L440.0,168.9 L437.0,169.4 L434.0,169.9 L431.0,170.5 L428.0,171.0 L425.0,171.6 L422.0,172.1 L419.0,172.7 L416.0,173.2 L413.0,173.8 L410.0,174.4 L407.0,174.9 L404.0,175.5 L401.0,176.1 L398.0,176.7 L395.0,177.3 L392.0,177.8 L389.0,178.4 L386.0,179.0 L383.0,179.7 L380.0,180.3 L377.0,180.9 L374.0,181.5 L371.0,182.1 L368.0,182.7 L365.0,183.4 L362.0,184.0 L359.0,184.7 L356.0,185.3 L353.0,186.0 L350.0,186.6 L347.0,187.3 L344.0,188.0 L341.0,188.6 L338.0,189.3 L335.0,190.0 L332.0,190.7 L329.0,191.4 L326.0,192.1 L323.0,192.8 L320.0,193.6 L317.0,194.3 L314.0,195.0 L311.0,195.8 L308.0,196.5 L305.0,197.3 L302.0,198.0 L299.0,198.8 L296.0,199.6 L293.0,200.4 L290.0,201.1 L287.0,201.9 L284.0,202.7 L281.0,203.6 L278.0,204.4 L275.0,205.2 L272.0,206.1 L269.0,206.9 L266.0,207.8 L263.0,208.6 L260.0,209.5 L257.0,210.4 L254.0,211.3 L251.0,212.2 L248.0,213.1 L245.0,214.1 L242.0,215.0 L239.0,216.0 L236.0,216.9 L233.0,217.9 L230.0,218.9 L227.0,219.9 L224.0,220.9 L221.0,221.9 L218.0,223.0 L215.0,224.0 L212.0,225.1 L209.0,226.2 L206.0,227.3 L203.0,228.4 L200.0,229.5 L199.0,229.9 L198.0,230.3 L197.0,230.6 L196.0,231.0 L195.0,231.4 L194.0,231.8 L193.0,232.2 L192.0,232.6 L191.0,233.0 L190.0,233.4 L189.0,233.8 L188.0,234.2 L187.0,234.6 L186.0,235.0 L185.0,235.4 L184.0,235.8 L183.0,236.2 L182.0,236.6 L181.0,237.0 L180.0,237.4 L179.0,237.9 L178.0,238.3 L177.0,238.7 L176.0,239.1 L175.0,239.6 L174.0,240.0 L173.0,240.4 L172.0,240.9 L171.0,241.3 L170.0,241.7 L169.0,242.2 L168.0,242.6 L167.0,243.1 L166.0,243.5 L165.0,244.0 L164.0,244.4 L163.0,244.9 L162.0,245.3 L161.0,245.8 L160.0,246.3 L159.0,246.7 L158.0,247.2 L157.0,247.7 L156.0,248.2 L155.0,248.6 L154.0,249.1 L153.0,249.6 L152.0,250.1 L151.0,250.6 L150.0,251.1 L149.0,251.6 L148.0,252.1 L147.0,252.6 L146.0,253.1 L145.0,253.6 L144.0,254.1 L143.0,254.6 L142.0,255.1 L141.0,255.7 L140.0,256.2 L139.0,256.7 L138.0,257.3 L137.0,257.8 L136.0,258.3 L135.0,258.9 L134.0,259.4 L133.0,260.0 L132.0,260.5 L131.0,261.1 L130.0,261.7 L129.0,262.2 L128.0,262.8 L127.0,263.4 L126.0,264.0 L125.0,264.5 L124.0,265.1 L123.0,265.7 L122.0,266.3 L121.0,266.9 L120.0,267.5 L119.0,268.1 L118.0,268.8 L117.0,269.4 L116.0,270.0 L115.0,270.6 L114.0,271.3 L113.0,271.9 L112.0,272.6 L111.0,273.2 L110.0,273.9 L109.0,274.5 L108.0,275.2 L107.0,275.9 L106.0,276.6 L105.0,277.2 L104.0,277.9 L103.0,278.6 L102.0,279.3 L101.0,280.0 L100.0,280.8 L99.0,281.5 L98.0,282.2 L97.0,282.9 L96.0,283.7 L95.0,284.4 L94.0,285.2 L93.0,286.0 L92.0,286.7 L91.0,287.5 L90.0,288.3 L89.0,289.1 L88.0,289.9 L87.0,290.7 L86.0,291.5 L85.0,292.3 L84.0,293.2 L83.0,294.0 L82.0,294.9 L81.0,295.7 L80.0,296.6 L79.0,297.5 L78.0,298.4 L77.0,299.3 L76.0,300.2 L75.0,301.1 L74.0,302.1 L73.0,303.0 L72.0,304.0 L71.0,304.9 L70.0,305.9 L69.0,306.9 L68.0,307.9 L67.0,308.9 L66.0,309.9 L65.0,311.0 L64.0,312.0 L63.0,313.1 L62.0,314.2 L61.0,315.3 L60.0,316.4 L59.5,317.0 L59.0,317.5 L58.5,318.1 L58.0,318.7 L57.5,319.3 L57.0,319.9 L56.5,320.4 L56.0,321.0 L55.5,321.6 L55.0,322.2 L54.5,322.8 L54.0,323.5 L53.5,324.1 L53.0,324.7 L52.5,325.3 L52.0,325.9 L51.5,326.6 L51.0,327.2 L50.5,327.9 L50.0,328.5 L49.5,329.2 L49.0,329.8 L48.5,330.5 L48.0,331.2 L47.5,331.9 L47.0,332.5 L46.5,333.2 L46.0,333.9 L45.5,334.6 L45.0,335.3 L44.5,336.1 L44.0,336.8 L43.5,337.5 L43.0,338.2 L42.5,339.0 L42.0,339.7 L41.5,340.5 L41.0,341.3 L40.5,342.0 L40.0,342.8 L39.5,343.6 L39.0,344.4 L38.5,345.2 L38.0,346.0 L37.5,346.8 L37.0,347.6 L36.5,348.5 L36.0,349.3 L35.5,350.2 L35.0,351.0 L34.5,351.9 L34.0,352.8 L33.5,353.7 L33.0,354.6 L32.5,355.5 L32.0,356.4 L31.5,357.3 L31.0,358.3 L30.5,359.2 L30.0,360.2 L29.5,361.2 L29.0,362.2 L28.5,363.2 L28.0,364.2 L27.5,365.2 L27.0,366.3 L26.5,367.3 L26.0,368.4 L25.5,369.5 L25.0,370.6 L24.5,371.7 L24.0,372.8 L23.5,374.0 L23.0,375.1 L22.5,376.3 L22.0,377.5 L21.5,378.7 L21.0,380.0 L20.5,381.2 L20.0,382.5 L19.5,383.8 L19.0,385.1Z" fill="#D6431B"/><path d="M19.0,383.9 L19.5,382.6 L20.0,381.3 L20.5,380.0 L21.0,378.8 L21.5,377.5 L22.0,376.3 L22.5,375.1 L23.0,373.9 L23.5,372.8 L24.0,371.6 L24.5,370.5 L25.0,369.4 L25.5,368.3 L26.0,367.2 L26.5,366.1 L27.0,365.1 L27.5,364.0 L28.0,363.0 L28.5,362.0 L29.0,361.0 L29.5,360.0 L30.0,359.0 L30.5,358.0 L31.0,357.1 L31.5,356.1 L32.0,355.2 L32.5,354.3 L33.0,353.4 L33.5,352.5 L34.0,351.6 L34.5,350.7 L35.0,349.8 L35.5,349.0 L36.0,348.1 L36.5,347.3 L37.0,346.4 L37.5,345.6 L38.0,344.8 L38.5,344.0 L39.0,343.2 L39.5,342.4 L40.0,341.6 L40.5,340.8 L41.0,340.1 L41.5,339.3 L42.0,338.5 L42.5,337.8 L43.0,337.0 L43.5,336.3 L44.0,335.6 L44.5,334.9 L45.0,334.1 L45.5,333.4 L46.0,332.7 L46.5,332.0 L47.0,331.3 L47.5,330.7 L48.0,330.0 L48.5,329.3 L49.0,328.6 L49.5,328.0 L50.0,327.3 L50.5,326.7 L51.0,326.0 L51.5,325.4 L52.0,324.7 L52.5,324.1 L53.0,323.5 L53.5,322.9 L54.0,322.3 L54.5,321.6 L55.0,321.0 L55.5,320.4 L56.0,319.8 L56.5,319.2 L57.0,318.7 L57.5,318.1 L58.0,317.5 L58.5,316.9 L59.0,316.3 L59.5,315.8 L60.0,315.2 L61.0,314.1 L62.0,313.0 L63.0,311.9 L64.0,310.8 L65.0,309.8 L66.0,308.7 L67.0,307.7 L68.0,306.7 L69.0,305.7 L70.0,304.7 L71.0,303.7 L72.0,302.8 L73.0,301.8 L74.0,300.9 L75.0,299.9 L76.0,299.0 L77.0,298.1 L78.0,297.2 L79.0,296.3 L80.0,295.4 L81.0,294.5 L82.0,293.7 L83.0,292.8 L84.0,292.0 L85.0,291.1 L86.0,290.3 L87.0,289.5 L88.0,288.7 L89.0,287.9 L90.0,287.1 L91.0,286.3 L92.0,285.5 L93.0,284.8 L94.0,284.0 L95.0,283.2 L96.0,282.5 L97.0,281.7 L98.0,281.0 L99.0,280.3 L100.0,279.6 L101.0,278.8 L102.0,278.1 L103.0,277.4 L104.0,276.7 L105.0,276.0 L106.0,275.4 L107.0,274.7 L108.0,274.0 L109.0,273.3 L110.0,272.7 L111.0,272.0 L112.0,271.4 L113.0,270.7 L114.0,270.1 L115.0,269.4 L116.0,268.8 L117.0,268.2 L118.0,267.6 L119.0,266.9 L120.0,266.3 L121.0,265.7 L122.0,265.1 L123.0,264.5 L124.0,263.9 L125.0,263.3 L126.0,262.8 L127.0,262.2 L128.0,261.6 L129.0,261.0 L130.0,260.5 L131.0,259.9 L132.0,259.3 L133.0,258.8 L134.0,258.2 L135.0,257.7 L136.0,257.1 L137.0,256.6 L138.0,256.1 L139.0,255.5 L140.0,255.0 L141.0,254.5 L142.0,253.9 L143.0,253.4 L144.0,252.9 L145.0,252.4 L146.0,251.9 L147.0,251.4 L148.0,250.9 L149.0,250.4 L150.0,249.9 L151.0,249.4 L152.0,248.9 L153.0,248.4 L154.0,247.9 L155.0,247.4 L156.0,247.0 L157.0,246.5 L158.0,246.0 L159.0,245.5 L160.0,245.1 L161.0,244.6 L162.0,244.1 L163.0,243.7 L164.0,243.2 L165.0,242.8 L166.0,242.3 L167.0,241.9 L168.0,241.4 L169.0,241.0 L170.0,240.5 L171.0,240.1 L172.0,239.7 L173.0,239.2 L174.0,238.8 L175.0,238.4 L176.0,237.9 L177.0,237.5 L178.0,237.1 L179.0,236.7 L180.0,236.2 L181.0,235.8 L182.0,235.4 L183.0,235.0 L184.0,234.6 L185.0,234.2 L186.0,233.8 L187.0,233.4 L188.0,233.0 L189.0,232.6 L190.0,232.2 L191.0,231.8 L192.0,231.4 L193.0,231.0 L194.0,230.6 L195.0,230.2 L196.0,229.8 L197.0,229.4 L198.0,229.1 L199.0,228.7 L200.0,228.3 L203.0,227.2 L206.0,226.1 L209.0,225.0 L212.0,223.9 L215.0,222.8 L218.0,221.8 L221.0,220.7 L224.0,219.7 L227.0,218.7 L230.0,217.7 L233.0,216.7 L236.0,215.7 L239.0,214.8 L242.0,213.8 L245.0,212.9 L248.0,211.9 L251.0,211.0 L254.0,210.1 L257.0,209.2 L260.0,208.3 L263.0,207.4 L266.0,206.6 L269.0,205.7 L272.0,204.9 L275.0,204.0 L278.0,203.2 L281.0,202.4 L284.0,201.5 L287.0,200.7 L290.0,199.9 L293.0,199.2 L296.0,198.4 L299.0,197.6 L302.0,196.8 L305.0,196.1 L308.0,195.3 L311.0,194.6 L314.0,193.8 L317.0,193.1 L320.0,192.4 L323.0,191.6 L326.0,190.9 L329.0,190.2 L332.0,189.5 L335.0,188.8 L338.0,188.1 L341.0,187.4 L344.0,186.8 L347.0,186.1 L350.0,185.4 L353.0,184.8 L356.0,184.1 L359.0,183.5 L362.0,182.8 L365.0,182.2 L368.0,181.5 L371.0,180.9 L374.0,180.3 L377.0,179.7 L380.0,179.1 L383.0,178.5 L386.0,177.8 L389.0,177.2 L392.0,176.6 L395.0,176.1 L398.0,175.5 L401.0,174.9 L404.0,174.3 L407.0,173.7 L410.0,173.2 L413.0,172.6 L416.0,172.0 L419.0,171.5 L422.0,170.9 L425.0,170.4 L428.0,169.8 L431.0,169.3 L434.0,168.7 L437.0,168.2 L440.0,167.7 L443.0,167.1 L446.0,166.6 L449.0,166.1 L452.0,165.6 L455.0,165.1 L458.0,164.5 L461.0,164.0 L464.0,163.5 L467.0,163.0 L470.0,162.5 L473.0,162.0 L476.0,161.5 L479.0,161.0 L482.0,160.6 L485.0,160.1 L488.0,159.6 L491.0,159.1 L494.0,158.6 L497.0,158.2 L500.0,157.7 L503.0,157.2 L506.0,156.8 L509.0,156.3 L512.0,155.8 L515.0,155.4 L518.0,154.9 L521.0,154.5 L524.0,154.0 L527.0,153.6 L530.0,153.1 L533.0,152.7 L536.0,152.3 L539.0,151.8 L542.0,151.4 L545.0,151.0 L548.0,150.5 L551.0,150.1 L554.0,149.7 L557.0,149.3 L560.0,148.8 L563.0,148.4 L566.0,148.0 L569.0,147.6 L572.0,147.2 L575.0,146.8 L578.0,146.4 L581.0,146.0 L584.0,145.5 L587.0,145.1 L590.0,144.7 L593.0,144.4 L596.0,144.0 L599.0,143.6 L602.0,143.2 L605.0,142.8 L608.0,142.4 L611.0,142.0 L614.0,141.6 L617.0,141.2 L620.0,140.9 L623.0,140.5 L626.0,140.1 L629.0,139.7 L632.0,139.4 L635.0,139.0 L638.0,138.6 L641.0,138.2 L644.0,137.9 L647.0,137.5 L650.0,137.2 L653.0,136.8 L656.0,136.4 L659.0,136.1 L662.0,135.7 L665.0,135.4 L668.0,135.0 L671.0,134.7 L674.0,134.3 L677.0,134.0 L680.0,133.6 L683.0,133.3 L686.0,132.9 L689.0,132.6 L692.0,132.2 L695.0,131.9 L698.0,131.6 L701.0,131.2 L704.0,130.9 L707.0,130.6 L710.0,130.2 L713.0,129.9 L716.0,129.6 L719.0,129.2 L722.0,128.9 L725.0,128.6 L728.0,128.2 L731.0,127.9 L734.0,127.6 L737.0,127.3 L740.0,127.0 L743.0,126.6 L746.0,126.3 L749.0,126.0 L752.0,125.7 L755.0,125.4 L758.0,125.1 L761.0,124.8 L764.0,124.5 L767.0,124.1 L770.0,123.8 L773.0,123.5 L776.0,123.2 L779.0,122.9 L782.0,122.6 L785.0,122.3 L788.0,122.0 L791.0,121.7 L794.0,121.4 L797.0,121.1 L800.0,120.8 L803.0,120.5 L806.0,120.2 L809.0,119.9 L812.0,119.7 L815.0,119.4 L818.0,119.1 L821.0,118.8 L824.0,118.5 L827.0,118.2 L830.0,117.9 L833.0,117.6 L836.0,117.4 L839.0,117.1 L842.0,116.8 L845.0,116.5 L848.0,116.2 L851.0,116.0 L854.0,115.7 L857.0,115.4 L860.0,115.1 L863.0,114.9 L866.0,114.6 L869.0,114.3 L872.0,114.0 L875.0,113.8 L878.0,113.5 L881.0,113.2 L884.0,113.0 L887.0,112.7 L890.0,112.4 L893.0,112.2 L896.0,111.9 L899.0,111.6 L902.0,111.4 L905.0,111.1 L908.0,110.8 L911.0,110.6 L914.0,110.3 L917.0,110.1 L920.0,109.8 L923.0,109.6 L926.0,109.3 L929.0,109.0 L932.0,108.8 L935.0,108.5 L938.0,108.3 L941.0,108.0 L944.0,107.8 L947.0,107.5 L950.0,107.3 L953.0,107.0 L956.0,106.8 L959.0,106.5 L962.0,106.3 L965.0,106.0 L968.0,105.8 L971.0,105.6 L974.0,105.3 L977.0,105.1 L980.0,104.8 L983.0,104.6 L986.0,104.3 L989.0,104.1 L992.0,103.9 L995.0,103.6 L998.0,103.4 L1001.0,103.2 L1004.0,102.9 L1007.0,102.7 L1010.0,102.4 L1013.0,102.2 L1016.0,102.0 L1019.0,101.7 L1022.0,101.5 L1025.0,101.3 L1028.0,101.1 L1031.0,100.8 L1034.0,100.6 L1037.0,100.4 L1040.0,100.1 L1043.0,99.9 L1046.0,99.7 L1049.0,99.5 L1052.0,99.2 L1055.0,99.0 L1058.0,98.8 L1061.0,98.6 L1064.0,98.3 L1067.0,98.1 L1070.0,97.9 L1073.0,97.7 L1076.0,97.4 L1079.0,97.2 L1082.0,97.0 L1085.0,96.8 L1088.0,96.6 L1091.0,96.4 L1094.0,96.1 L1097.0,95.9 L1100.0,95.7 L1103.0,95.5 L1106.0,95.3 L1109.0,95.1 L1112.0,94.8 L1115.0,94.6 L1118.0,94.4 L1121.0,94.2 L1124.0,94.0 L1127.0,93.8 L1130.0,93.6 L1133.0,93.4 L1136.0,93.2 L1139.0,92.9 L1142.0,92.7 L1145.0,92.5 L1148.0,92.3 L1151.0,92.1 L1154.0,91.9 L1157.0,91.7 L1160.0,91.5 L1163.0,91.3 L1166.0,91.1 L1169.0,90.9 L1172.0,90.7 L1175.0,90.5 L1178.0,90.3 L1181.0,90.1 L1184.0,89.9 L1187.0,89.7 L1190.0,89.5 L1193.0,89.3 L1196.0,89.1 L1199.0,88.9 L1202.0,88.7 L1205.0,88.5 L1208.0,88.3 L1211.0,88.1 L1214.0,87.9 L1217.0,87.7 L1220.0,87.5 L1222.0,87.4 L1222.0,103.5 L1220.0,103.6 L1217.0,103.8 L1214.0,104.0 L1211.0,104.2 L1208.0,104.4 L1205.0,104.6 L1202.0,104.8 L1199.0,105.0 L1196.0,105.2 L1193.0,105.4 L1190.0,105.6 L1187.0,105.8 L1184.0,106.0 L1181.0,106.2 L1178.0,106.4 L1175.0,106.6 L1172.0,106.9 L1169.0,107.1 L1166.0,107.3 L1163.0,107.5 L1160.0,107.7 L1157.0,107.9 L1154.0,108.1 L1151.0,108.3 L1148.0,108.5 L1145.0,108.7 L1142.0,108.9 L1139.0,109.2 L1136.0,109.4 L1133.0,109.6 L1130.0,109.8 L1127.0,110.0 L1124.0,110.2 L1121.0,110.4 L1118.0,110.7 L1115.0,110.9 L1112.0,111.1 L1109.0,111.3 L1106.0,111.5 L1103.0,111.7 L1100.0,112.0 L1097.0,112.2 L1094.0,112.4 L1091.0,112.6 L1088.0,112.8 L1085.0,113.1 L1082.0,113.3 L1079.0,113.5 L1076.0,113.7 L1073.0,114.0 L1070.0,114.2 L1067.0,114.4 L1064.0,114.6 L1061.0,114.9 L1058.0,115.1 L1055.0,115.3 L1052.0,115.6 L1049.0,115.8 L1046.0,116.0 L1043.0,116.2 L1040.0,116.5 L1037.0,116.7 L1034.0,116.9 L1031.0,117.2 L1028.0,117.4 L1025.0,117.6 L1022.0,117.9 L1019.0,118.1 L1016.0,118.4 L1013.0,118.6 L1010.0,118.8 L1007.0,119.1 L1004.0,119.3 L1001.0,119.6 L998.0,119.8 L995.0,120.0 L992.0,120.3 L989.0,120.5 L986.0,120.8 L983.0,121.0 L980.0,121.3 L977.0,121.5 L974.0,121.8 L971.0,122.0 L968.0,122.3 L965.0,122.5 L962.0,122.8 L959.0,123.0 L956.0,123.3 L953.0,123.5 L950.0,123.8 L947.0,124.0 L944.0,124.3 L941.0,124.5 L938.0,124.8 L935.0,125.0 L932.0,125.3 L929.0,125.6 L926.0,125.8 L923.0,126.1 L920.0,126.3 L917.0,126.6 L914.0,126.9 L911.0,127.1 L908.0,127.4 L905.0,127.7 L902.0,127.9 L899.0,128.2 L896.0,128.5 L893.0,128.7 L890.0,129.0 L887.0,129.3 L884.0,129.5 L881.0,129.8 L878.0,130.1 L875.0,130.4 L872.0,130.6 L869.0,130.9 L866.0,131.2 L863.0,131.5 L860.0,131.8 L857.0,132.0 L854.0,132.3 L851.0,132.6 L848.0,132.9 L845.0,133.2 L842.0,133.5 L839.0,133.7 L836.0,134.0 L833.0,134.3 L830.0,134.6 L827.0,134.9 L824.0,135.2 L821.0,135.5 L818.0,135.8 L815.0,136.1 L812.0,136.4 L809.0,136.7 L806.0,137.0 L803.0,137.3 L800.0,137.6 L797.0,137.9 L794.0,138.2 L791.0,138.5 L788.0,138.8 L785.0,139.1 L782.0,139.4 L779.0,139.7 L776.0,140.0 L773.0,140.3 L770.0,140.6 L767.0,140.9 L764.0,141.3 L761.0,141.6 L758.0,141.9 L755.0,142.2 L752.0,142.5 L749.0,142.8 L746.0,143.2 L743.0,143.5 L740.0,143.8 L737.0,144.1 L734.0,144.5 L731.0,144.8 L728.0,145.1 L725.0,145.5 L722.0,145.8 L719.0,146.1 L716.0,146.5 L713.0,146.8 L710.0,147.1 L707.0,147.5 L704.0,147.8 L701.0,148.2 L698.0,148.5 L695.0,148.8 L692.0,149.2 L689.0,149.5 L686.0,149.9 L683.0,150.2 L680.0,150.6 L677.0,150.9 L674.0,151.3 L671.0,151.7 L668.0,152.0 L665.0,152.4 L662.0,152.7 L659.0,153.1 L656.0,153.5 L653.0,153.8 L650.0,154.2 L647.0,154.6 L644.0,154.9 L641.0,155.3 L638.0,155.7 L635.0,156.1 L632.0,156.4 L629.0,156.8 L626.0,157.2 L623.0,157.6 L620.0,158.0 L617.0,158.4 L614.0,158.8 L611.0,159.1 L608.0,159.5 L605.0,159.9 L602.0,160.3 L599.0,160.7 L596.0,161.1 L593.0,161.5 L590.0,161.9 L587.0,162.3 L584.0,162.8 L581.0,163.2 L578.0,163.6 L575.0,164.0 L572.0,164.4 L569.0,164.8 L566.0,165.3 L563.0,165.7 L560.0,166.1 L557.0,166.5 L554.0,167.0 L551.0,167.4 L548.0,167.8 L545.0,168.3 L542.0,168.7 L539.0,169.2 L536.0,169.6 L533.0,170.0 L530.0,170.5 L527.0,170.9 L524.0,171.4 L521.0,171.9 L518.0,172.3 L515.0,172.8 L512.0,173.2 L509.0,173.7 L506.0,174.2 L503.0,174.7 L500.0,175.1 L497.0,175.6 L494.0,176.1 L491.0,176.6 L488.0,177.1 L485.0,177.6 L482.0,178.0 L479.0,178.5 L476.0,179.0 L473.0,179.5 L470.0,180.1 L467.0,180.6 L464.0,181.1 L461.0,181.6 L458.0,182.1 L455.0,182.6 L452.0,183.2 L449.0,183.7 L446.0,184.2 L443.0,184.8 L440.0,185.3 L437.0,185.8 L434.0,186.4 L431.0,186.9 L428.0,187.5 L425.0,188.0 L422.0,188.6 L419.0,189.2 L416.0,189.7 L413.0,190.3 L410.0,190.9 L407.0,191.5 L404.0,192.1 L401.0,192.6 L398.0,193.2 L395.0,193.8 L392.0,194.4 L389.0,195.1 L386.0,195.7 L383.0,196.3 L380.0,196.9 L377.0,197.5 L374.0,198.2 L371.0,198.8 L368.0,199.4 L365.0,200.1 L362.0,200.7 L359.0,201.4 L356.0,202.1 L353.0,202.7 L350.0,203.4 L347.0,204.1 L344.0,204.8 L341.0,205.4 L338.0,206.1 L335.0,206.8 L332.0,207.6 L329.0,208.3 L326.0,209.0 L323.0,209.7 L320.0,210.5 L317.0,211.2 L314.0,211.9 L311.0,212.7 L308.0,213.5 L305.0,214.2 L302.0,215.0 L299.0,215.8 L296.0,216.6 L293.0,217.4 L290.0,218.2 L287.0,219.0 L284.0,219.8 L281.0,220.6 L278.0,221.5 L275.0,222.3 L272.0,223.2 L269.0,224.1 L266.0,224.9 L263.0,225.8 L260.0,226.7 L257.0,227.6 L254.0,228.5 L251.0,229.5 L248.0,230.4 L245.0,231.3 L242.0,232.3 L239.0,233.3 L236.0,234.3 L233.0,235.3 L230.0,236.3 L227.0,237.3 L224.0,238.3 L221.0,239.4 L218.0,240.4 L215.0,241.5 L212.0,242.6 L209.0,243.7 L206.0,244.8 L203.0,245.9 L200.0,247.1 L199.0,247.5 L198.0,247.8 L197.0,248.2 L196.0,248.6 L195.0,249.0 L194.0,249.4 L193.0,249.8 L192.0,250.2 L191.0,250.6 L190.0,251.0 L189.0,251.4 L188.0,251.8 L187.0,252.2 L186.0,252.7 L185.0,253.1 L184.0,253.5 L183.0,253.9 L182.0,254.3 L181.0,254.7 L180.0,255.2 L179.0,255.6 L178.0,256.0 L177.0,256.5 L176.0,256.9 L175.0,257.3 L174.0,257.8 L173.0,258.2 L172.0,258.6 L171.0,259.1 L170.0,259.5 L169.0,260.0 L168.0,260.4 L167.0,260.9 L166.0,261.4 L165.0,261.8 L164.0,262.3 L163.0,262.7 L162.0,263.2 L161.0,263.7 L160.0,264.2 L159.0,264.6 L158.0,265.1 L157.0,265.6 L156.0,266.1 L155.0,266.6 L154.0,267.1 L153.0,267.6 L152.0,268.1 L151.0,268.6 L150.0,269.1 L149.0,269.6 L148.0,270.1 L147.0,270.6 L146.0,271.1 L145.0,271.6 L144.0,272.2 L143.0,272.7 L142.0,273.2 L141.0,273.7 L140.0,274.3 L139.0,274.8 L138.0,275.4 L137.0,275.9 L136.0,276.5 L135.0,277.0 L134.0,277.6 L133.0,278.1 L132.0,278.7 L131.0,279.3 L130.0,279.9 L129.0,280.4 L128.0,281.0 L127.0,281.6 L126.0,282.2 L125.0,282.8 L124.0,283.4 L123.0,284.0 L122.0,284.6 L121.0,285.2 L120.0,285.8 L119.0,286.5 L118.0,287.1 L117.0,287.7 L116.0,288.4 L115.0,289.0 L114.0,289.6 L113.0,290.3 L112.0,291.0 L111.0,291.6 L110.0,292.3 L109.0,293.0 L108.0,293.6 L107.0,294.3 L106.0,295.0 L105.0,295.7 L104.0,296.4 L103.0,297.1 L102.0,297.9 L101.0,298.6 L100.0,299.3 L99.0,300.0 L98.0,300.8 L97.0,301.5 L96.0,302.3 L95.0,303.1 L94.0,303.8 L93.0,304.6 L92.0,305.4 L91.0,306.2 L90.0,307.0 L89.0,307.8 L88.0,308.6 L87.0,309.4 L86.0,310.3 L85.0,311.1 L84.0,312.0 L83.0,312.8 L82.0,313.7 L81.0,314.6 L80.0,315.5 L79.0,316.4 L78.0,317.3 L77.0,318.2 L76.0,319.1 L75.0,320.1 L74.0,321.0 L73.0,322.0 L72.0,322.9 L71.0,323.9 L70.0,324.9 L69.0,325.9 L68.0,327.0 L67.0,328.0 L66.0,329.0 L65.0,330.1 L64.0,331.2 L63.0,332.3 L62.0,333.4 L61.0,334.5 L60.0,335.6 L59.5,336.2 L59.0,336.8 L58.5,337.4 L58.0,338.0 L57.5,338.5 L57.0,339.1 L56.5,339.7 L56.0,340.3 L55.5,341.0 L55.0,341.6 L54.5,342.2 L54.0,342.8 L53.5,343.4 L53.0,344.1 L52.5,344.7 L52.0,345.4 L51.5,346.0 L51.0,346.7 L50.5,347.3 L50.0,348.0 L49.5,348.6 L49.0,349.3 L48.5,350.0 L48.0,350.7 L47.5,351.4 L47.0,352.1 L46.5,352.8 L46.0,353.5 L45.5,354.2 L45.0,354.9 L44.5,355.7 L44.0,356.4 L43.5,357.1 L43.0,357.9 L42.5,358.6 L42.0,359.4 L41.5,360.2 L41.0,361.0 L40.5,361.7 L40.0,362.5 L39.5,363.3 L39.0,364.1 L38.5,365.0 L38.0,365.8 L37.5,366.6 L37.0,367.5 L36.5,368.3 L36.0,369.2 L35.5,370.0 L35.0,370.9 L34.5,371.8 L34.0,372.7 L33.5,373.6 L33.0,374.5 L32.5,375.5 L32.0,376.4 L31.5,377.3 L31.0,378.3 L30.5,379.3 L30.0,380.3 L29.5,381.3 L29.0,382.3 L28.5,383.3 L28.0,384.3 L27.5,385.4 L27.0,386.4 L26.5,387.5 L26.0,388.6 L25.5,389.7 L25.0,390.8 L24.5,392.0 L24.0,393.1 L23.5,394.3 L23.0,395.5 L22.5,396.7 L22.0,397.9 L21.5,399.1 L21.0,400.4 L20.5,401.7 L20.0,403.0 L19.5,404.3 L19.0,405.6Z" fill="#EC7F35"/><path d="M19.0,404.4 L19.5,403.1 L20.0,401.8 L20.5,400.5 L21.0,399.2 L21.5,397.9 L22.0,396.7 L22.5,395.5 L23.0,394.3 L23.5,393.1 L24.0,391.9 L24.5,390.8 L25.0,389.6 L25.5,388.5 L26.0,387.4 L26.5,386.3 L27.0,385.2 L27.5,384.2 L28.0,383.1 L28.5,382.1 L29.0,381.1 L29.5,380.1 L30.0,379.1 L30.5,378.1 L31.0,377.1 L31.5,376.1 L32.0,375.2 L32.5,374.3 L33.0,373.3 L33.5,372.4 L34.0,371.5 L34.5,370.6 L35.0,369.7 L35.5,368.8 L36.0,368.0 L36.5,367.1 L37.0,366.3 L37.5,365.4 L38.0,364.6 L38.5,363.8 L39.0,362.9 L39.5,362.1 L40.0,361.3 L40.5,360.5 L41.0,359.8 L41.5,359.0 L42.0,358.2 L42.5,357.4 L43.0,356.7 L43.5,355.9 L44.0,355.2 L44.5,354.5 L45.0,353.7 L45.5,353.0 L46.0,352.3 L46.5,351.6 L47.0,350.9 L47.5,350.2 L48.0,349.5 L48.5,348.8 L49.0,348.1 L49.5,347.4 L50.0,346.8 L50.5,346.1 L51.0,345.5 L51.5,344.8 L52.0,344.2 L52.5,343.5 L53.0,342.9 L53.5,342.2 L54.0,341.6 L54.5,341.0 L55.0,340.4 L55.5,339.8 L56.0,339.1 L56.5,338.5 L57.0,337.9 L57.5,337.3 L58.0,336.8 L58.5,336.2 L59.0,335.6 L59.5,335.0 L60.0,334.4 L61.0,333.3 L62.0,332.2 L63.0,331.1 L64.0,330.0 L65.0,328.9 L66.0,327.8 L67.0,326.8 L68.0,325.8 L69.0,324.7 L70.0,323.7 L71.0,322.7 L72.0,321.7 L73.0,320.8 L74.0,319.8 L75.0,318.9 L76.0,317.9 L77.0,317.0 L78.0,316.1 L79.0,315.2 L80.0,314.3 L81.0,313.4 L82.0,312.5 L83.0,311.6 L84.0,310.8 L85.0,309.9 L86.0,309.1 L87.0,308.2 L88.0,307.4 L89.0,306.6 L90.0,305.8 L91.0,305.0 L92.0,304.2 L93.0,303.4 L94.0,302.6 L95.0,301.9 L96.0,301.1 L97.0,300.3 L98.0,299.6 L99.0,298.8 L100.0,298.1 L101.0,297.4 L102.0,296.7 L103.0,295.9 L104.0,295.2 L105.0,294.5 L106.0,293.8 L107.0,293.1 L108.0,292.4 L109.0,291.8 L110.0,291.1 L111.0,290.4 L112.0,289.8 L113.0,289.1 L114.0,288.4 L115.0,287.8 L116.0,287.2 L117.0,286.5 L118.0,285.9 L119.0,285.3 L120.0,284.6 L121.0,284.0 L122.0,283.4 L123.0,282.8 L124.0,282.2 L125.0,281.6 L126.0,281.0 L127.0,280.4 L128.0,279.8 L129.0,279.2 L130.0,278.7 L131.0,278.1 L132.0,277.5 L133.0,276.9 L134.0,276.4 L135.0,275.8 L136.0,275.3 L137.0,274.7 L138.0,274.2 L139.0,273.6 L140.0,273.1 L141.0,272.5 L142.0,272.0 L143.0,271.5 L144.0,271.0 L145.0,270.4 L146.0,269.9 L147.0,269.4 L148.0,268.9 L149.0,268.4 L150.0,267.9 L151.0,267.4 L152.0,266.9 L153.0,266.4 L154.0,265.9 L155.0,265.4 L156.0,264.9 L157.0,264.4 L158.0,263.9 L159.0,263.4 L160.0,263.0 L161.0,262.5 L162.0,262.0 L163.0,261.5 L164.0,261.1 L165.0,260.6 L166.0,260.2 L167.0,259.7 L168.0,259.2 L169.0,258.8 L170.0,258.3 L171.0,257.9 L172.0,257.4 L173.0,257.0 L174.0,256.6 L175.0,256.1 L176.0,255.7 L177.0,255.3 L178.0,254.8 L179.0,254.4 L180.0,254.0 L181.0,253.5 L182.0,253.1 L183.0,252.7 L184.0,252.3 L185.0,251.9 L186.0,251.5 L187.0,251.0 L188.0,250.6 L189.0,250.2 L190.0,249.8 L191.0,249.4 L192.0,249.0 L193.0,248.6 L194.0,248.2 L195.0,247.8 L196.0,247.4 L197.0,247.0 L198.0,246.6 L199.0,246.3 L200.0,245.9 L203.0,244.7 L206.0,243.6 L209.0,242.5 L212.0,241.4 L215.0,240.3 L218.0,239.2 L221.0,238.2 L224.0,237.1 L227.0,236.1 L230.0,235.1 L233.0,234.1 L236.0,233.1 L239.0,232.1 L242.0,231.1 L245.0,230.1 L248.0,229.2 L251.0,228.3 L254.0,227.3 L257.0,226.4 L260.0,225.5 L263.0,224.6 L266.0,223.7 L269.0,222.9 L272.0,222.0 L275.0,221.1 L278.0,220.3 L281.0,219.4 L284.0,218.6 L287.0,217.8 L290.0,217.0 L293.0,216.2 L296.0,215.4 L299.0,214.6 L302.0,213.8 L305.0,213.0 L308.0,212.3 L311.0,211.5 L314.0,210.7 L317.0,210.0 L320.0,209.3 L323.0,208.5 L326.0,207.8 L329.0,207.1 L332.0,206.4 L335.0,205.6 L338.0,204.9 L341.0,204.2 L344.0,203.6 L347.0,202.9 L350.0,202.2 L353.0,201.5 L356.0,200.9 L359.0,200.2 L362.0,199.5 L365.0,198.9 L368.0,198.2 L371.0,197.6 L374.0,197.0 L377.0,196.3 L380.0,195.7 L383.0,195.1 L386.0,194.5 L389.0,193.9 L392.0,193.2 L395.0,192.6 L398.0,192.0 L401.0,191.4 L404.0,190.9 L407.0,190.3 L410.0,189.7 L413.0,189.1 L416.0,188.5 L419.0,188.0 L422.0,187.4 L425.0,186.8 L428.0,186.3 L431.0,185.7 L434.0,185.2 L437.0,184.6 L440.0,184.1 L443.0,183.6 L446.0,183.0 L449.0,182.5 L452.0,182.0 L455.0,181.4 L458.0,180.9 L461.0,180.4 L464.0,179.9 L467.0,179.4 L470.0,178.9 L473.0,178.3 L476.0,177.8 L479.0,177.3 L482.0,176.8 L485.0,176.4 L488.0,175.9 L491.0,175.4 L494.0,174.9 L497.0,174.4 L500.0,173.9 L503.0,173.5 L506.0,173.0 L509.0,172.5 L512.0,172.0 L515.0,171.6 L518.0,171.1 L521.0,170.7 L524.0,170.2 L527.0,169.7 L530.0,169.3 L533.0,168.8 L536.0,168.4 L539.0,168.0 L542.0,167.5 L545.0,167.1 L548.0,166.6 L551.0,166.2 L554.0,165.8 L557.0,165.3 L560.0,164.9 L563.0,164.5 L566.0,164.1 L569.0,163.6 L572.0,163.2 L575.0,162.8 L578.0,162.4 L581.0,162.0 L584.0,161.6 L587.0,161.1 L590.0,160.7 L593.0,160.3 L596.0,159.9 L599.0,159.5 L602.0,159.1 L605.0,158.7 L608.0,158.3 L611.0,157.9 L614.0,157.6 L617.0,157.2 L620.0,156.8 L623.0,156.4 L626.0,156.0 L629.0,155.6 L632.0,155.2 L635.0,154.9 L638.0,154.5 L641.0,154.1 L644.0,153.7 L647.0,153.4 L650.0,153.0 L653.0,152.6 L656.0,152.3 L659.0,151.9 L662.0,151.5 L665.0,151.2 L668.0,150.8 L671.0,150.5 L674.0,150.1 L677.0,149.7 L680.0,149.4 L683.0,149.0 L686.0,148.7 L689.0,148.3 L692.0,148.0 L695.0,147.6 L698.0,147.3 L701.0,147.0 L704.0,146.6 L707.0,146.3 L710.0,145.9 L713.0,145.6 L716.0,145.3 L719.0,144.9 L722.0,144.6 L725.0,144.3 L728.0,143.9 L731.0,143.6 L734.0,143.3 L737.0,142.9 L740.0,142.6 L743.0,142.3 L746.0,142.0 L749.0,141.6 L752.0,141.3 L755.0,141.0 L758.0,140.7 L761.0,140.4 L764.0,140.1 L767.0,139.7 L770.0,139.4 L773.0,139.1 L776.0,138.8 L779.0,138.5 L782.0,138.2 L785.0,137.9 L788.0,137.6 L791.0,137.3 L794.0,137.0 L797.0,136.7 L800.0,136.4 L803.0,136.1 L806.0,135.8 L809.0,135.5 L812.0,135.2 L815.0,134.9 L818.0,134.6 L821.0,134.3 L824.0,134.0 L827.0,133.7 L830.0,133.4 L833.0,133.1 L836.0,132.8 L839.0,132.5 L842.0,132.3 L845.0,132.0 L848.0,131.7 L851.0,131.4 L854.0,131.1 L857.0,130.8 L860.0,130.6 L863.0,130.3 L866.0,130.0 L869.0,129.7 L872.0,129.4 L875.0,129.2 L878.0,128.9 L881.0,128.6 L884.0,128.3 L887.0,128.1 L890.0,127.8 L893.0,127.5 L896.0,127.3 L899.0,127.0 L902.0,126.7 L905.0,126.5 L908.0,126.2 L911.0,125.9 L914.0,125.7 L917.0,125.4 L920.0,125.1 L923.0,124.9 L926.0,124.6 L929.0,124.4 L932.0,124.1 L935.0,123.8 L938.0,123.6 L941.0,123.3 L944.0,123.1 L947.0,122.8 L950.0,122.6 L953.0,122.3 L956.0,122.1 L959.0,121.8 L962.0,121.6 L965.0,121.3 L968.0,121.1 L971.0,120.8 L974.0,120.6 L977.0,120.3 L980.0,120.1 L983.0,119.8 L986.0,119.6 L989.0,119.3 L992.0,119.1 L995.0,118.8 L998.0,118.6 L1001.0,118.4 L1004.0,118.1 L1007.0,117.9 L1010.0,117.6 L1013.0,117.4 L1016.0,117.2 L1019.0,116.9 L1022.0,116.7 L1025.0,116.4 L1028.0,116.2 L1031.0,116.0 L1034.0,115.7 L1037.0,115.5 L1040.0,115.3 L1043.0,115.0 L1046.0,114.8 L1049.0,114.6 L1052.0,114.4 L1055.0,114.1 L1058.0,113.9 L1061.0,113.7 L1064.0,113.4 L1067.0,113.2 L1070.0,113.0 L1073.0,112.8 L1076.0,112.5 L1079.0,112.3 L1082.0,112.1 L1085.0,111.9 L1088.0,111.6 L1091.0,111.4 L1094.0,111.2 L1097.0,111.0 L1100.0,110.8 L1103.0,110.5 L1106.0,110.3 L1109.0,110.1 L1112.0,109.9 L1115.0,109.7 L1118.0,109.5 L1121.0,109.2 L1124.0,109.0 L1127.0,108.8 L1130.0,108.6 L1133.0,108.4 L1136.0,108.2 L1139.0,108.0 L1142.0,107.7 L1145.0,107.5 L1148.0,107.3 L1151.0,107.1 L1154.0,106.9 L1157.0,106.7 L1160.0,106.5 L1163.0,106.3 L1166.0,106.1 L1169.0,105.9 L1172.0,105.7 L1175.0,105.4 L1178.0,105.2 L1181.0,105.0 L1184.0,104.8 L1187.0,104.6 L1190.0,104.4 L1193.0,104.2 L1196.0,104.0 L1199.0,103.8 L1202.0,103.6 L1205.0,103.4 L1208.0,103.2 L1211.0,103.0 L1214.0,102.8 L1217.0,102.6 L1220.0,102.4 L1222.0,102.3 L1222.0,119.0 L1220.0,119.2 L1217.0,119.4 L1214.0,119.6 L1211.0,119.8 L1208.0,120.0 L1205.0,120.2 L1202.0,120.4 L1199.0,120.6 L1196.0,120.8 L1193.0,121.0 L1190.0,121.2 L1187.0,121.4 L1184.0,121.6 L1181.0,121.8 L1178.0,122.0 L1175.0,122.2 L1172.0,122.4 L1169.0,122.6 L1166.0,122.8 L1163.0,123.1 L1160.0,123.3 L1157.0,123.5 L1154.0,123.7 L1151.0,123.9 L1148.0,124.1 L1145.0,124.3 L1142.0,124.5 L1139.0,124.8 L1136.0,125.0 L1133.0,125.2 L1130.0,125.4 L1127.0,125.6 L1124.0,125.8 L1121.0,126.1 L1118.0,126.3 L1115.0,126.5 L1112.0,126.7 L1109.0,126.9 L1106.0,127.2 L1103.0,127.4 L1100.0,127.6 L1097.0,127.8 L1094.0,128.0 L1091.0,128.3 L1088.0,128.5 L1085.0,128.7 L1082.0,128.9 L1079.0,129.2 L1076.0,129.4 L1073.0,129.6 L1070.0,129.8 L1067.0,130.1 L1064.0,130.3 L1061.0,130.5 L1058.0,130.8 L1055.0,131.0 L1052.0,131.2 L1049.0,131.5 L1046.0,131.7 L1043.0,131.9 L1040.0,132.2 L1037.0,132.4 L1034.0,132.6 L1031.0,132.9 L1028.0,133.1 L1025.0,133.3 L1022.0,133.6 L1019.0,133.8 L1016.0,134.1 L1013.0,134.3 L1010.0,134.5 L1007.0,134.8 L1004.0,135.0 L1001.0,135.3 L998.0,135.5 L995.0,135.8 L992.0,136.0 L989.0,136.3 L986.0,136.5 L983.0,136.8 L980.0,137.0 L977.0,137.2 L974.0,137.5 L971.0,137.8 L968.0,138.0 L965.0,138.3 L962.0,138.5 L959.0,138.8 L956.0,139.0 L953.0,139.3 L950.0,139.5 L947.0,139.8 L944.0,140.0 L941.0,140.3 L938.0,140.6 L935.0,140.8 L932.0,141.1 L929.0,141.3 L926.0,141.6 L923.0,141.9 L920.0,142.1 L917.0,142.4 L914.0,142.7 L911.0,142.9 L908.0,143.2 L905.0,143.5 L902.0,143.7 L899.0,144.0 L896.0,144.3 L893.0,144.6 L890.0,144.8 L887.0,145.1 L884.0,145.4 L881.0,145.7 L878.0,145.9 L875.0,146.2 L872.0,146.5 L869.0,146.8 L866.0,147.1 L863.0,147.3 L860.0,147.6 L857.0,147.9 L854.0,148.2 L851.0,148.5 L848.0,148.8 L845.0,149.0 L842.0,149.3 L839.0,149.6 L836.0,149.9 L833.0,150.2 L830.0,150.5 L827.0,150.8 L824.0,151.1 L821.0,151.4 L818.0,151.7 L815.0,152.0 L812.0,152.3 L809.0,152.6 L806.0,152.9 L803.0,153.2 L800.0,153.5 L797.0,153.8 L794.0,154.1 L791.0,154.4 L788.0,154.7 L785.0,155.0 L782.0,155.3 L779.0,155.7 L776.0,156.0 L773.0,156.3 L770.0,156.6 L767.0,156.9 L764.0,157.2 L761.0,157.5 L758.0,157.9 L755.0,158.2 L752.0,158.5 L749.0,158.8 L746.0,159.2 L743.0,159.5 L740.0,159.8 L737.0,160.1 L734.0,160.5 L731.0,160.8 L728.0,161.1 L725.0,161.5 L722.0,161.8 L719.0,162.2 L716.0,162.5 L713.0,162.8 L710.0,163.2 L707.0,163.5 L704.0,163.9 L701.0,164.2 L698.0,164.6 L695.0,164.9 L692.0,165.3 L689.0,165.6 L686.0,166.0 L683.0,166.3 L680.0,166.7 L677.0,167.0 L674.0,167.4 L671.0,167.7 L668.0,168.1 L665.0,168.5 L662.0,168.8 L659.0,169.2 L656.0,169.6 L653.0,169.9 L650.0,170.3 L647.0,170.7 L644.0,171.1 L641.0,171.4 L638.0,171.8 L635.0,172.2 L632.0,172.6 L629.0,173.0 L626.0,173.4 L623.0,173.8 L620.0,174.1 L617.0,174.5 L614.0,174.9 L611.0,175.3 L608.0,175.7 L605.0,176.1 L602.0,176.5 L599.0,176.9 L596.0,177.3 L593.0,177.7 L590.0,178.2 L587.0,178.6 L584.0,179.0 L581.0,179.4 L578.0,179.8 L575.0,180.2 L572.0,180.7 L569.0,181.1 L566.0,181.5 L563.0,181.9 L560.0,182.4 L557.0,182.8 L554.0,183.2 L551.0,183.7 L548.0,184.1 L545.0,184.6 L542.0,185.0 L539.0,185.4 L536.0,185.9 L533.0,186.4 L530.0,186.8 L527.0,187.3 L524.0,187.7 L521.0,188.2 L518.0,188.7 L515.0,189.1 L512.0,189.6 L509.0,190.1 L506.0,190.5 L503.0,191.0 L500.0,191.5 L497.0,192.0 L494.0,192.5 L491.0,193.0 L488.0,193.5 L485.0,194.0 L482.0,194.5 L479.0,195.0 L476.0,195.5 L473.0,196.0 L470.0,196.5 L467.0,197.0 L464.0,197.5 L461.0,198.0 L458.0,198.6 L455.0,199.1 L452.0,199.6 L449.0,200.2 L446.0,200.7 L443.0,201.2 L440.0,201.8 L437.0,202.3 L434.0,202.9 L431.0,203.4 L428.0,204.0 L425.0,204.6 L422.0,205.1 L419.0,205.7 L416.0,206.3 L413.0,206.9 L410.0,207.4 L407.0,208.0 L404.0,208.6 L401.0,209.2 L398.0,209.8 L395.0,210.4 L392.0,211.0 L389.0,211.7 L386.0,212.3 L383.0,212.9 L380.0,213.5 L377.0,214.2 L374.0,214.8 L371.0,215.4 L368.0,216.1 L365.0,216.7 L362.0,217.4 L359.0,218.1 L356.0,218.7 L353.0,219.4 L350.0,220.1 L347.0,220.8 L344.0,221.5 L341.0,222.2 L338.0,222.9 L335.0,223.6 L332.0,224.3 L329.0,225.0 L326.0,225.8 L323.0,226.5 L320.0,227.2 L317.0,228.0 L314.0,228.7 L311.0,229.5 L308.0,230.3 L305.0,231.0 L302.0,231.8 L299.0,232.6 L296.0,233.4 L293.0,234.2 L290.0,235.0 L287.0,235.9 L284.0,236.7 L281.0,237.5 L278.0,238.4 L275.0,239.3 L272.0,240.1 L269.0,241.0 L266.0,241.9 L263.0,242.8 L260.0,243.7 L257.0,244.6 L254.0,245.5 L251.0,246.5 L248.0,247.4 L245.0,248.4 L242.0,249.3 L239.0,250.3 L236.0,251.3 L233.0,252.3 L230.0,253.3 L227.0,254.4 L224.0,255.4 L221.0,256.5 L218.0,257.5 L215.0,258.6 L212.0,259.7 L209.0,260.8 L206.0,262.0 L203.0,263.1 L200.0,264.3 L199.0,264.7 L198.0,265.1 L197.0,265.5 L196.0,265.8 L195.0,266.2 L194.0,266.6 L193.0,267.1 L192.0,267.5 L191.0,267.9 L190.0,268.3 L189.0,268.7 L188.0,269.1 L187.0,269.5 L186.0,269.9 L185.0,270.3 L184.0,270.8 L183.0,271.2 L182.0,271.6 L181.0,272.0 L180.0,272.5 L179.0,272.9 L178.0,273.3 L177.0,273.8 L176.0,274.2 L175.0,274.7 L174.0,275.1 L173.0,275.5 L172.0,276.0 L171.0,276.4 L170.0,276.9 L169.0,277.3 L168.0,277.8 L167.0,278.3 L166.0,278.7 L165.0,279.2 L164.0,279.7 L163.0,280.1 L162.0,280.6 L161.0,281.1 L160.0,281.6 L159.0,282.1 L158.0,282.5 L157.0,283.0 L156.0,283.5 L155.0,284.0 L154.0,284.5 L153.0,285.0 L152.0,285.5 L151.0,286.0 L150.0,286.5 L149.0,287.0 L148.0,287.6 L147.0,288.1 L146.0,288.6 L145.0,289.1 L144.0,289.6 L143.0,290.2 L142.0,290.7 L141.0,291.3 L140.0,291.8 L139.0,292.3 L138.0,292.9 L137.0,293.5 L136.0,294.0 L135.0,294.6 L134.0,295.1 L133.0,295.7 L132.0,296.3 L131.0,296.9 L130.0,297.4 L129.0,298.0 L128.0,298.6 L127.0,299.2 L126.0,299.8 L125.0,300.4 L124.0,301.0 L123.0,301.6 L122.0,302.2 L121.0,302.9 L120.0,303.5 L119.0,304.1 L118.0,304.8 L117.0,305.4 L116.0,306.0 L115.0,306.7 L114.0,307.3 L113.0,308.0 L112.0,308.7 L111.0,309.3 L110.0,310.0 L109.0,310.7 L108.0,311.4 L107.0,312.1 L106.0,312.8 L105.0,313.5 L104.0,314.2 L103.0,314.9 L102.0,315.6 L101.0,316.4 L100.0,317.1 L99.0,317.9 L98.0,318.6 L97.0,319.4 L96.0,320.1 L95.0,320.9 L94.0,321.7 L93.0,322.5 L92.0,323.3 L91.0,324.1 L90.0,324.9 L89.0,325.7 L88.0,326.5 L87.0,327.4 L86.0,328.2 L85.0,329.1 L84.0,329.9 L83.0,330.8 L82.0,331.7 L81.0,332.6 L80.0,333.5 L79.0,334.4 L78.0,335.3 L77.0,336.2 L76.0,337.2 L75.0,338.1 L74.0,339.1 L73.0,340.0 L72.0,341.0 L71.0,342.0 L70.0,343.0 L69.0,344.1 L68.0,345.1 L67.0,346.1 L66.0,347.2 L65.0,348.3 L64.0,349.4 L63.0,350.5 L62.0,351.6 L61.0,352.7 L60.0,353.9 L59.5,354.5 L59.0,355.0 L58.5,355.6 L58.0,356.2 L57.5,356.8 L57.0,357.4 L56.5,358.0 L56.0,358.6 L55.5,359.3 L55.0,359.9 L54.5,360.5 L54.0,361.1 L53.5,361.8 L53.0,362.4 L52.5,363.1 L52.0,363.7 L51.5,364.4 L51.0,365.0 L50.5,365.7 L50.0,366.4 L49.5,367.0 L49.0,367.7 L48.5,368.4 L48.0,369.1 L47.5,369.8 L47.0,370.5 L46.5,371.2 L46.0,371.9 L45.5,372.7 L45.0,373.4 L44.5,374.1 L44.0,374.9 L43.5,375.6 L43.0,376.4 L42.5,377.1 L42.0,377.9 L41.5,378.7 L41.0,379.5 L40.5,380.3 L40.0,381.1 L39.5,381.9 L39.0,382.7 L38.5,383.5 L38.0,384.4 L37.5,385.2 L37.0,386.1 L36.5,386.9 L36.0,387.8 L35.5,388.7 L35.0,389.6 L34.5,390.5 L34.0,391.4 L33.5,392.3 L33.0,393.2 L32.5,394.2 L32.0,395.1 L31.5,396.1 L31.0,397.0 L30.5,398.0 L30.0,399.0 L29.5,400.0 L29.0,401.1 L28.5,402.1 L28.0,403.1 L27.5,404.2 L27.0,405.3 L26.5,406.4 L26.0,407.5 L25.5,408.6 L25.0,409.7 L24.5,410.9 L24.0,412.0 L23.5,413.2 L23.0,414.4 L22.5,415.6 L22.0,416.9 L21.5,418.1 L21.0,419.4 L20.5,420.7 L20.0,422.0 L19.5,423.3 L19.0,424.7Z" fill="#F4B35C"/><path d="M19.0,423.5 L19.5,422.1 L20.0,420.8 L20.5,419.5 L21.0,418.2 L21.5,416.9 L22.0,415.7 L22.5,414.4 L23.0,413.2 L23.5,412.0 L24.0,410.8 L24.5,409.7 L25.0,408.5 L25.5,407.4 L26.0,406.3 L26.5,405.2 L27.0,404.1 L27.5,403.0 L28.0,401.9 L28.5,400.9 L29.0,399.9 L29.5,398.8 L30.0,397.8 L30.5,396.8 L31.0,395.8 L31.5,394.9 L32.0,393.9 L32.5,393.0 L33.0,392.0 L33.5,391.1 L34.0,390.2 L34.5,389.3 L35.0,388.4 L35.5,387.5 L36.0,386.6 L36.5,385.7 L37.0,384.9 L37.5,384.0 L38.0,383.2 L38.5,382.3 L39.0,381.5 L39.5,380.7 L40.0,379.9 L40.5,379.1 L41.0,378.3 L41.5,377.5 L42.0,376.7 L42.5,375.9 L43.0,375.2 L43.5,374.4 L44.0,373.7 L44.5,372.9 L45.0,372.2 L45.5,371.5 L46.0,370.7 L46.5,370.0 L47.0,369.3 L47.5,368.6 L48.0,367.9 L48.5,367.2 L49.0,366.5 L49.5,365.8 L50.0,365.2 L50.5,364.5 L51.0,363.8 L51.5,363.2 L52.0,362.5 L52.5,361.9 L53.0,361.2 L53.5,360.6 L54.0,359.9 L54.5,359.3 L55.0,358.7 L55.5,358.1 L56.0,357.4 L56.5,356.8 L57.0,356.2 L57.5,355.6 L58.0,355.0 L58.5,354.4 L59.0,353.8 L59.5,353.3 L60.0,352.7 L61.0,351.5 L62.0,350.4 L63.0,349.3 L64.0,348.2 L65.0,347.1 L66.0,346.0 L67.0,344.9 L68.0,343.9 L69.0,342.9 L70.0,341.8 L71.0,340.8 L72.0,339.8 L73.0,338.8 L74.0,337.9 L75.0,336.9 L76.0,336.0 L77.0,335.0 L78.0,334.1 L79.0,333.2 L80.0,332.3 L81.0,331.4 L82.0,330.5 L83.0,329.6 L84.0,328.7 L85.0,327.9 L86.0,327.0 L87.0,326.2 L88.0,325.3 L89.0,324.5 L90.0,323.7 L91.0,322.9 L92.0,322.1 L93.0,321.3 L94.0,320.5 L95.0,319.7 L96.0,318.9 L97.0,318.2 L98.0,317.4 L99.0,316.7 L100.0,315.9 L101.0,315.2 L102.0,314.4 L103.0,313.7 L104.0,313.0 L105.0,312.3 L106.0,311.6 L107.0,310.9 L108.0,310.2 L109.0,309.5 L110.0,308.8 L111.0,308.1 L112.0,307.5 L113.0,306.8 L114.0,306.1 L115.0,305.5 L116.0,304.8 L117.0,304.2 L118.0,303.6 L119.0,302.9 L120.0,302.3 L121.0,301.7 L122.0,301.0 L123.0,300.4 L124.0,299.8 L125.0,299.2 L126.0,298.6 L127.0,298.0 L128.0,297.4 L129.0,296.8 L130.0,296.2 L131.0,295.7 L132.0,295.1 L133.0,294.5 L134.0,293.9 L135.0,293.4 L136.0,292.8 L137.0,292.3 L138.0,291.7 L139.0,291.1 L140.0,290.6 L141.0,290.1 L142.0,289.5 L143.0,289.0 L144.0,288.4 L145.0,287.9 L146.0,287.4 L147.0,286.9 L148.0,286.4 L149.0,285.8 L150.0,285.3 L151.0,284.8 L152.0,284.3 L153.0,283.8 L154.0,283.3 L155.0,282.8 L156.0,282.3 L157.0,281.8 L158.0,281.3 L159.0,280.9 L160.0,280.4 L161.0,279.9 L162.0,279.4 L163.0,278.9 L164.0,278.5 L165.0,278.0 L166.0,277.5 L167.0,277.1 L168.0,276.6 L169.0,276.1 L170.0,275.7 L171.0,275.2 L172.0,274.8 L173.0,274.3 L174.0,273.9 L175.0,273.5 L176.0,273.0 L177.0,272.6 L178.0,272.1 L179.0,271.7 L180.0,271.3 L181.0,270.8 L182.0,270.4 L183.0,270.0 L184.0,269.6 L185.0,269.1 L186.0,268.7 L187.0,268.3 L188.0,267.9 L189.0,267.5 L190.0,267.1 L191.0,266.7 L192.0,266.3 L193.0,265.9 L194.0,265.4 L195.0,265.0 L196.0,264.6 L197.0,264.3 L198.0,263.9 L199.0,263.5 L200.0,263.1 L203.0,261.9 L206.0,260.8 L209.0,259.6 L212.0,258.5 L215.0,257.4 L218.0,256.3 L221.0,255.3 L224.0,254.2 L227.0,253.2 L230.0,252.1 L233.0,251.1 L236.0,250.1 L239.0,249.1 L242.0,248.1 L245.0,247.2 L248.0,246.2 L251.0,245.3 L254.0,244.3 L257.0,243.4 L260.0,242.5 L263.0,241.6 L266.0,240.7 L269.0,239.8 L272.0,238.9 L275.0,238.1 L278.0,237.2 L281.0,236.3 L284.0,235.5 L287.0,234.7 L290.0,233.8 L293.0,233.0 L296.0,232.2 L299.0,231.4 L302.0,230.6 L305.0,229.8 L308.0,229.1 L311.0,228.3 L314.0,227.5 L317.0,226.8 L320.0,226.0 L323.0,225.3 L326.0,224.6 L329.0,223.8 L332.0,223.1 L335.0,222.4 L338.0,221.7 L341.0,221.0 L344.0,220.3 L347.0,219.6 L350.0,218.9 L353.0,218.2 L356.0,217.5 L359.0,216.9 L362.0,216.2 L365.0,215.5 L368.0,214.9 L371.0,214.2 L374.0,213.6 L377.0,213.0 L380.0,212.3 L383.0,211.7 L386.0,211.1 L389.0,210.5 L392.0,209.8 L395.0,209.2 L398.0,208.6 L401.0,208.0 L404.0,207.4 L407.0,206.8 L410.0,206.2 L413.0,205.7 L416.0,205.1 L419.0,204.5 L422.0,203.9 L425.0,203.4 L428.0,202.8 L431.0,202.2 L434.0,201.7 L437.0,201.1 L440.0,200.6 L443.0,200.0 L446.0,199.5 L449.0,199.0 L452.0,198.4 L455.0,197.9 L458.0,197.4 L461.0,196.8 L464.0,196.3 L467.0,195.8 L470.0,195.3 L473.0,194.8 L476.0,194.3 L479.0,193.8 L482.0,193.3 L485.0,192.8 L488.0,192.3 L491.0,191.8 L494.0,191.3 L497.0,190.8 L500.0,190.3 L503.0,189.8 L506.0,189.3 L509.0,188.9 L512.0,188.4 L515.0,187.9 L518.0,187.5 L521.0,187.0 L524.0,186.5 L527.0,186.1 L530.0,185.6 L533.0,185.2 L536.0,184.7 L539.0,184.2 L542.0,183.8 L545.0,183.4 L548.0,182.9 L551.0,182.5 L554.0,182.0 L557.0,181.6 L560.0,181.2 L563.0,180.7 L566.0,180.3 L569.0,179.9 L572.0,179.5 L575.0,179.0 L578.0,178.6 L581.0,178.2 L584.0,177.8 L587.0,177.4 L590.0,177.0 L593.0,176.5 L596.0,176.1 L599.0,175.7 L602.0,175.3 L605.0,174.9 L608.0,174.5 L611.0,174.1 L614.0,173.7 L617.0,173.3 L620.0,172.9 L623.0,172.6 L626.0,172.2 L629.0,171.8 L632.0,171.4 L635.0,171.0 L638.0,170.6 L641.0,170.2 L644.0,169.9 L647.0,169.5 L650.0,169.1 L653.0,168.7 L656.0,168.4 L659.0,168.0 L662.0,167.6 L665.0,167.3 L668.0,166.9 L671.0,166.5 L674.0,166.2 L677.0,165.8 L680.0,165.5 L683.0,165.1 L686.0,164.8 L689.0,164.4 L692.0,164.1 L695.0,163.7 L698.0,163.4 L701.0,163.0 L704.0,162.7 L707.0,162.3 L710.0,162.0 L713.0,161.6 L716.0,161.3 L719.0,161.0 L722.0,160.6 L725.0,160.3 L728.0,159.9 L731.0,159.6 L734.0,159.3 L737.0,158.9 L740.0,158.6 L743.0,158.3 L746.0,158.0 L749.0,157.6 L752.0,157.3 L755.0,157.0 L758.0,156.7 L761.0,156.3 L764.0,156.0 L767.0,155.7 L770.0,155.4 L773.0,155.1 L776.0,154.8 L779.0,154.5 L782.0,154.1 L785.0,153.8 L788.0,153.5 L791.0,153.2 L794.0,152.9 L797.0,152.6 L800.0,152.3 L803.0,152.0 L806.0,151.7 L809.0,151.4 L812.0,151.1 L815.0,150.8 L818.0,150.5 L821.0,150.2 L824.0,149.9 L827.0,149.6 L830.0,149.3 L833.0,149.0 L836.0,148.7 L839.0,148.4 L842.0,148.1 L845.0,147.8 L848.0,147.6 L851.0,147.3 L854.0,147.0 L857.0,146.7 L860.0,146.4 L863.0,146.1 L866.0,145.9 L869.0,145.6 L872.0,145.3 L875.0,145.0 L878.0,144.7 L881.0,144.5 L884.0,144.2 L887.0,143.9 L890.0,143.6 L893.0,143.4 L896.0,143.1 L899.0,142.8 L902.0,142.5 L905.0,142.3 L908.0,142.0 L911.0,141.7 L914.0,141.5 L917.0,141.2 L920.0,140.9 L923.0,140.7 L926.0,140.4 L929.0,140.1 L932.0,139.9 L935.0,139.6 L938.0,139.4 L941.0,139.1 L944.0,138.8 L947.0,138.6 L950.0,138.3 L953.0,138.1 L956.0,137.8 L959.0,137.6 L962.0,137.3 L965.0,137.1 L968.0,136.8 L971.0,136.6 L974.0,136.3 L977.0,136.0 L980.0,135.8 L983.0,135.6 L986.0,135.3 L989.0,135.1 L992.0,134.8 L995.0,134.6 L998.0,134.3 L1001.0,134.1 L1004.0,133.8 L1007.0,133.6 L1010.0,133.3 L1013.0,133.1 L1016.0,132.9 L1019.0,132.6 L1022.0,132.4 L1025.0,132.1 L1028.0,131.9 L1031.0,131.7 L1034.0,131.4 L1037.0,131.2 L1040.0,131.0 L1043.0,130.7 L1046.0,130.5 L1049.0,130.3 L1052.0,130.0 L1055.0,129.8 L1058.0,129.6 L1061.0,129.3 L1064.0,129.1 L1067.0,128.9 L1070.0,128.6 L1073.0,128.4 L1076.0,128.2 L1079.0,128.0 L1082.0,127.7 L1085.0,127.5 L1088.0,127.3 L1091.0,127.1 L1094.0,126.8 L1097.0,126.6 L1100.0,126.4 L1103.0,126.2 L1106.0,126.0 L1109.0,125.7 L1112.0,125.5 L1115.0,125.3 L1118.0,125.1 L1121.0,124.9 L1124.0,124.6 L1127.0,124.4 L1130.0,124.2 L1133.0,124.0 L1136.0,123.8 L1139.0,123.6 L1142.0,123.3 L1145.0,123.1 L1148.0,122.9 L1151.0,122.7 L1154.0,122.5 L1157.0,122.3 L1160.0,122.1 L1163.0,121.9 L1166.0,121.6 L1169.0,121.4 L1172.0,121.2 L1175.0,121.0 L1178.0,120.8 L1181.0,120.6 L1184.0,120.4 L1187.0,120.2 L1190.0,120.0 L1193.0,119.8 L1196.0,119.6 L1199.0,119.4 L1202.0,119.2 L1205.0,119.0 L1208.0,118.8 L1211.0,118.6 L1214.0,118.4 L1217.0,118.2 L1220.0,118.0 L1222.0,117.8 L1222.0,133.8 L1220.0,133.9 L1217.0,134.1 L1214.0,134.3 L1211.0,134.5 L1208.0,134.7 L1205.0,134.9 L1202.0,135.1 L1199.0,135.4 L1196.0,135.6 L1193.0,135.8 L1190.0,136.0 L1187.0,136.2 L1184.0,136.4 L1181.0,136.6 L1178.0,136.8 L1175.0,137.0 L1172.0,137.3 L1169.0,137.5 L1166.0,137.7 L1163.0,137.9 L1160.0,138.1 L1157.0,138.3 L1154.0,138.5 L1151.0,138.8 L1148.0,139.0 L1145.0,139.2 L1142.0,139.4 L1139.0,139.6 L1136.0,139.9 L1133.0,140.1 L1130.0,140.3 L1127.0,140.5 L1124.0,140.7 L1121.0,141.0 L1118.0,141.2 L1115.0,141.4 L1112.0,141.6 L1109.0,141.9 L1106.0,142.1 L1103.0,142.3 L1100.0,142.5 L1097.0,142.8 L1094.0,143.0 L1091.0,143.2 L1088.0,143.4 L1085.0,143.7 L1082.0,143.9 L1079.0,144.1 L1076.0,144.4 L1073.0,144.6 L1070.0,144.8 L1067.0,145.1 L1064.0,145.3 L1061.0,145.5 L1058.0,145.8 L1055.0,146.0 L1052.0,146.2 L1049.0,146.5 L1046.0,146.7 L1043.0,147.0 L1040.0,147.2 L1037.0,147.4 L1034.0,147.7 L1031.0,147.9 L1028.0,148.2 L1025.0,148.4 L1022.0,148.7 L1019.0,148.9 L1016.0,149.1 L1013.0,149.4 L1010.0,149.6 L1007.0,149.9 L1004.0,150.1 L1001.0,150.4 L998.0,150.6 L995.0,150.9 L992.0,151.1 L989.0,151.4 L986.0,151.6 L983.0,151.9 L980.0,152.1 L977.0,152.4 L974.0,152.7 L971.0,152.9 L968.0,153.2 L965.0,153.4 L962.0,153.7 L959.0,153.9 L956.0,154.2 L953.0,154.5 L950.0,154.7 L947.0,155.0 L944.0,155.3 L941.0,155.5 L938.0,155.8 L935.0,156.1 L932.0,156.3 L929.0,156.6 L926.0,156.9 L923.0,157.1 L920.0,157.4 L917.0,157.7 L914.0,157.9 L911.0,158.2 L908.0,158.5 L905.0,158.8 L902.0,159.0 L899.0,159.3 L896.0,159.6 L893.0,159.9 L890.0,160.2 L887.0,160.4 L884.0,160.7 L881.0,161.0 L878.0,161.3 L875.0,161.6 L872.0,161.8 L869.0,162.1 L866.0,162.4 L863.0,162.7 L860.0,163.0 L857.0,163.3 L854.0,163.6 L851.0,163.9 L848.0,164.2 L845.0,164.5 L842.0,164.8 L839.0,165.1 L836.0,165.3 L833.0,165.6 L830.0,165.9 L827.0,166.2 L824.0,166.5 L821.0,166.9 L818.0,167.2 L815.0,167.5 L812.0,167.8 L809.0,168.1 L806.0,168.4 L803.0,168.7 L800.0,169.0 L797.0,169.3 L794.0,169.6 L791.0,169.9 L788.0,170.3 L785.0,170.6 L782.0,170.9 L779.0,171.2 L776.0,171.5 L773.0,171.8 L770.0,172.2 L767.0,172.5 L764.0,172.8 L761.0,173.1 L758.0,173.5 L755.0,173.8 L752.0,174.1 L749.0,174.5 L746.0,174.8 L743.0,175.1 L740.0,175.5 L737.0,175.8 L734.0,176.1 L731.0,176.5 L728.0,176.8 L725.0,177.2 L722.0,177.5 L719.0,177.8 L716.0,178.2 L713.0,178.5 L710.0,178.9 L707.0,179.2 L704.0,179.6 L701.0,179.9 L698.0,180.3 L695.0,180.7 L692.0,181.0 L689.0,181.4 L686.0,181.7 L683.0,182.1 L680.0,182.5 L677.0,182.8 L674.0,183.2 L671.0,183.6 L668.0,183.9 L665.0,184.3 L662.0,184.7 L659.0,185.1 L656.0,185.4 L653.0,185.8 L650.0,186.2 L647.0,186.6 L644.0,187.0 L641.0,187.4 L638.0,187.7 L635.0,188.1 L632.0,188.5 L629.0,188.9 L626.0,189.3 L623.0,189.7 L620.0,190.1 L617.0,190.5 L614.0,190.9 L611.0,191.3 L608.0,191.7 L605.0,192.1 L602.0,192.5 L599.0,193.0 L596.0,193.4 L593.0,193.8 L590.0,194.2 L587.0,194.6 L584.0,195.0 L581.0,195.5 L578.0,195.9 L575.0,196.3 L572.0,196.8 L569.0,197.2 L566.0,197.6 L563.0,198.1 L560.0,198.5 L557.0,199.0 L554.0,199.4 L551.0,199.8 L548.0,200.3 L545.0,200.7 L542.0,201.2 L539.0,201.7 L536.0,202.1 L533.0,202.6 L530.0,203.0 L527.0,203.5 L524.0,204.0 L521.0,204.5 L518.0,204.9 L515.0,205.4 L512.0,205.9 L509.0,206.4 L506.0,206.9 L503.0,207.4 L500.0,207.8 L497.0,208.3 L494.0,208.8 L491.0,209.3 L488.0,209.8 L485.0,210.3 L482.0,210.9 L479.0,211.4 L476.0,211.9 L473.0,212.4 L470.0,212.9 L467.0,213.5 L464.0,214.0 L461.0,214.5 L458.0,215.1 L455.0,215.6 L452.0,216.1 L449.0,216.7 L446.0,217.2 L443.0,217.8 L440.0,218.3 L437.0,218.9 L434.0,219.5 L431.0,220.0 L428.0,220.6 L425.0,221.2 L422.0,221.8 L419.0,222.4 L416.0,222.9 L413.0,223.5 L410.0,224.1 L407.0,224.7 L404.0,225.3 L401.0,226.0 L398.0,226.6 L395.0,227.2 L392.0,227.8 L389.0,228.4 L386.0,229.1 L383.0,229.7 L380.0,230.4 L377.0,231.0 L374.0,231.7 L371.0,232.3 L368.0,233.0 L365.0,233.6 L362.0,234.3 L359.0,235.0 L356.0,235.7 L353.0,236.4 L350.0,237.1 L347.0,237.8 L344.0,238.5 L341.0,239.2 L338.0,239.9 L335.0,240.6 L332.0,241.4 L329.0,242.1 L326.0,242.8 L323.0,243.6 L320.0,244.4 L317.0,245.1 L314.0,245.9 L311.0,246.7 L308.0,247.5 L305.0,248.3 L302.0,249.1 L299.0,249.9 L296.0,250.7 L293.0,251.5 L290.0,252.3 L287.0,253.2 L284.0,254.0 L281.0,254.9 L278.0,255.8 L275.0,256.6 L272.0,257.5 L269.0,258.4 L266.0,259.3 L263.0,260.2 L260.0,261.2 L257.0,262.1 L254.0,263.1 L251.0,264.0 L248.0,265.0 L245.0,266.0 L242.0,267.0 L239.0,268.0 L236.0,269.0 L233.0,270.0 L230.0,271.0 L227.0,272.1 L224.0,273.2 L221.0,274.2 L218.0,275.3 L215.0,276.4 L212.0,277.6 L209.0,278.7 L206.0,279.9 L203.0,281.0 L200.0,282.2 L199.0,282.6 L198.0,283.0 L197.0,283.4 L196.0,283.8 L195.0,284.2 L194.0,284.6 L193.0,285.1 L192.0,285.5 L191.0,285.9 L190.0,286.3 L189.0,286.7 L188.0,287.1 L187.0,287.6 L186.0,288.0 L185.0,288.4 L184.0,288.8 L183.0,289.3 L182.0,289.7 L181.0,290.2 L180.0,290.6 L179.0,291.0 L178.0,291.5 L177.0,291.9 L176.0,292.4 L175.0,292.8 L174.0,293.3 L173.0,293.7 L172.0,294.2 L171.0,294.6 L170.0,295.1 L169.0,295.6 L168.0,296.0 L167.0,296.5 L166.0,297.0 L165.0,297.5 L164.0,297.9 L163.0,298.4 L162.0,298.9 L161.0,299.4 L160.0,299.9 L159.0,300.4 L158.0,300.9 L157.0,301.4 L156.0,301.9 L155.0,302.4 L154.0,302.9 L153.0,303.4 L152.0,303.9 L151.0,304.4 L150.0,305.0 L149.0,305.5 L148.0,306.0 L147.0,306.5 L146.0,307.1 L145.0,307.6 L144.0,308.2 L143.0,308.7 L142.0,309.2 L141.0,309.8 L140.0,310.3 L139.0,310.9 L138.0,311.5 L137.0,312.0 L136.0,312.6 L135.0,313.2 L134.0,313.8 L133.0,314.3 L132.0,314.9 L131.0,315.5 L130.0,316.1 L129.0,316.7 L128.0,317.3 L127.0,317.9 L126.0,318.5 L125.0,319.1 L124.0,319.8 L123.0,320.4 L122.0,321.0 L121.0,321.7 L120.0,322.3 L119.0,322.9 L118.0,323.6 L117.0,324.2 L116.0,324.9 L115.0,325.6 L114.0,326.2 L113.0,326.9 L112.0,327.6 L111.0,328.3 L110.0,329.0 L109.0,329.7 L108.0,330.4 L107.0,331.1 L106.0,331.8 L105.0,332.5 L104.0,333.2 L103.0,334.0 L102.0,334.7 L101.0,335.5 L100.0,336.2 L99.0,337.0 L98.0,337.8 L97.0,338.5 L96.0,339.3 L95.0,340.1 L94.0,340.9 L93.0,341.7 L92.0,342.5 L91.0,343.3 L90.0,344.2 L89.0,345.0 L88.0,345.8 L87.0,346.7 L86.0,347.6 L85.0,348.4 L84.0,349.3 L83.0,350.2 L82.0,351.1 L81.0,352.0 L80.0,352.9 L79.0,353.9 L78.0,354.8 L77.0,355.7 L76.0,356.7 L75.0,357.7 L74.0,358.7 L73.0,359.7 L72.0,360.7 L71.0,361.7 L70.0,362.7 L69.0,363.8 L68.0,364.8 L67.0,365.9 L66.0,367.0 L65.0,368.1 L64.0,369.2 L63.0,370.3 L62.0,371.4 L61.0,372.6 L60.0,373.8 L59.5,374.4 L59.0,375.0 L58.5,375.6 L58.0,376.2 L57.5,376.8 L57.0,377.4 L56.5,378.0 L56.0,378.7 L55.5,379.3 L55.0,379.9 L54.5,380.6 L54.0,381.2 L53.5,381.9 L53.0,382.5 L52.5,383.2 L52.0,383.8 L51.5,384.5 L51.0,385.2 L50.5,385.9 L50.0,386.5 L49.5,387.2 L49.0,387.9 L48.5,388.6 L48.0,389.3 L47.5,390.1 L47.0,390.8 L46.5,391.5 L46.0,392.2 L45.5,393.0 L45.0,393.7 L44.5,394.5 L44.0,395.2 L43.5,396.0 L43.0,396.8 L42.5,397.6 L42.0,398.4 L41.5,399.2 L41.0,400.0 L40.5,400.8 L40.0,401.6 L39.5,402.4 L39.0,403.3 L38.5,404.1 L38.0,405.0 L37.5,405.8 L37.0,406.7 L36.5,407.6 L36.0,408.5 L35.5,409.4 L35.0,410.3 L34.5,411.2 L34.0,412.1 L33.5,413.0 L33.0,414.0 L32.5,415.0 L32.0,415.9 L31.5,416.9 L31.0,417.9 L30.5,418.9 L30.0,419.9 L29.5,421.0 L29.0,422.0 L28.5,423.1 L28.0,424.1 L27.5,425.2 L27.0,426.3 L26.5,427.4 L26.0,428.6 L25.5,429.7 L25.0,430.9 L24.5,432.0 L24.0,433.2 L23.5,434.4 L23.0,435.7 L22.5,436.9 L22.0,438.2 L21.5,439.4 L21.0,440.7 L20.5,442.1 L20.0,443.4 L19.5,444.8 L19.0,446.2Z" fill="#FDE681"/><path d="M19.0,445.0 L19.5,443.6 L20.0,442.2 L20.5,440.9 L21.0,439.5 L21.5,438.2 L22.0,437.0 L22.5,435.7 L23.0,434.5 L23.5,433.2 L24.0,432.0 L24.5,430.8 L25.0,429.7 L25.5,428.5 L26.0,427.4 L26.5,426.2 L27.0,425.1 L27.5,424.0 L28.0,422.9 L28.5,421.9 L29.0,420.8 L29.5,419.8 L30.0,418.7 L30.5,417.7 L31.0,416.7 L31.5,415.7 L32.0,414.7 L32.5,413.8 L33.0,412.8 L33.5,411.8 L34.0,410.9 L34.5,410.0 L35.0,409.1 L35.5,408.2 L36.0,407.3 L36.5,406.4 L37.0,405.5 L37.5,404.6 L38.0,403.8 L38.5,402.9 L39.0,402.1 L39.5,401.2 L40.0,400.4 L40.5,399.6 L41.0,398.8 L41.5,398.0 L42.0,397.2 L42.5,396.4 L43.0,395.6 L43.5,394.8 L44.0,394.0 L44.5,393.3 L45.0,392.5 L45.5,391.8 L46.0,391.0 L46.5,390.3 L47.0,389.6 L47.5,388.9 L48.0,388.1 L48.5,387.4 L49.0,386.7 L49.5,386.0 L50.0,385.3 L50.5,384.7 L51.0,384.0 L51.5,383.3 L52.0,382.6 L52.5,382.0 L53.0,381.3 L53.5,380.7 L54.0,380.0 L54.5,379.4 L55.0,378.7 L55.5,378.1 L56.0,377.5 L56.5,376.8 L57.0,376.2 L57.5,375.6 L58.0,375.0 L58.5,374.4 L59.0,373.8 L59.5,373.2 L60.0,372.6 L61.0,371.4 L62.0,370.2 L63.0,369.1 L64.0,368.0 L65.0,366.9 L66.0,365.8 L67.0,364.7 L68.0,363.6 L69.0,362.6 L70.0,361.5 L71.0,360.5 L72.0,359.5 L73.0,358.5 L74.0,357.5 L75.0,356.5 L76.0,355.5 L77.0,354.5 L78.0,353.6 L79.0,352.7 L80.0,351.7 L81.0,350.8 L82.0,349.9 L83.0,349.0 L84.0,348.1 L85.0,347.2 L86.0,346.4 L87.0,345.5 L88.0,344.6 L89.0,343.8 L90.0,343.0 L91.0,342.1 L92.0,341.3 L93.0,340.5 L94.0,339.7 L95.0,338.9 L96.0,338.1 L97.0,337.3 L98.0,336.6 L99.0,335.8 L100.0,335.0 L101.0,334.3 L102.0,333.5 L103.0,332.8 L104.0,332.0 L105.0,331.3 L106.0,330.6 L107.0,329.9 L108.0,329.2 L109.0,328.5 L110.0,327.8 L111.0,327.1 L112.0,326.4 L113.0,325.7 L114.0,325.0 L115.0,324.4 L116.0,323.7 L117.0,323.0 L118.0,322.4 L119.0,321.7 L120.0,321.1 L121.0,320.5 L122.0,319.8 L123.0,319.2 L124.0,318.6 L125.0,317.9 L126.0,317.3 L127.0,316.7 L128.0,316.1 L129.0,315.5 L130.0,314.9 L131.0,314.3 L132.0,313.7 L133.0,313.1 L134.0,312.6 L135.0,312.0 L136.0,311.4 L137.0,310.8 L138.0,310.3 L139.0,309.7 L140.0,309.1 L141.0,308.6 L142.0,308.0 L143.0,307.5 L144.0,307.0 L145.0,306.4 L146.0,305.9 L147.0,305.3 L148.0,304.8 L149.0,304.3 L150.0,303.8 L151.0,303.2 L152.0,302.7 L153.0,302.2 L154.0,301.7 L155.0,301.2 L156.0,300.7 L157.0,300.2 L158.0,299.7 L159.0,299.2 L160.0,298.7 L161.0,298.2 L162.0,297.7 L163.0,297.2 L164.0,296.7 L165.0,296.3 L166.0,295.8 L167.0,295.3 L168.0,294.8 L169.0,294.4 L170.0,293.9 L171.0,293.4 L172.0,293.0 L173.0,292.5 L174.0,292.1 L175.0,291.6 L176.0,291.2 L177.0,290.7 L178.0,290.3 L179.0,289.8 L180.0,289.4 L181.0,289.0 L182.0,288.5 L183.0,288.1 L184.0,287.6 L185.0,287.2 L186.0,286.8 L187.0,286.4 L188.0,285.9 L189.0,285.5 L190.0,285.1 L191.0,284.7 L192.0,284.3 L193.0,283.9 L194.0,283.4 L195.0,283.0 L196.0,282.6 L197.0,282.2 L198.0,281.8 L199.0,281.4 L200.0,281.0 L203.0,279.8 L206.0,278.7 L209.0,277.5 L212.0,276.4 L215.0,275.2 L218.0,274.1 L221.0,273.0 L224.0,272.0 L227.0,270.9 L230.0,269.8 L233.0,268.8 L236.0,267.8 L239.0,266.8 L242.0,265.8 L245.0,264.8 L248.0,263.8 L251.0,262.8 L254.0,261.9 L257.0,260.9 L260.0,260.0 L263.0,259.0 L266.0,258.1 L269.0,257.2 L272.0,256.3 L275.0,255.4 L278.0,254.6 L281.0,253.7 L284.0,252.8 L287.0,252.0 L290.0,251.1 L293.0,250.3 L296.0,249.5 L299.0,248.7 L302.0,247.9 L305.0,247.1 L308.0,246.3 L311.0,245.5 L314.0,244.7 L317.0,243.9 L320.0,243.2 L323.0,242.4 L326.0,241.6 L329.0,240.9 L332.0,240.2 L335.0,239.4 L338.0,238.7 L341.0,238.0 L344.0,237.3 L347.0,236.6 L350.0,235.9 L353.0,235.2 L356.0,234.5 L359.0,233.8 L362.0,233.1 L365.0,232.4 L368.0,231.8 L371.0,231.1 L374.0,230.5 L377.0,229.8 L380.0,229.2 L383.0,228.5 L386.0,227.9 L389.0,227.2 L392.0,226.6 L395.0,226.0 L398.0,225.4 L401.0,224.8 L404.0,224.1 L407.0,223.5 L410.0,222.9 L413.0,222.3 L416.0,221.7 L419.0,221.2 L422.0,220.6 L425.0,220.0 L428.0,219.4 L431.0,218.8 L434.0,218.3 L437.0,217.7 L440.0,217.1 L443.0,216.6 L446.0,216.0 L449.0,215.5 L452.0,214.9 L455.0,214.4 L458.0,213.9 L461.0,213.3 L464.0,212.8 L467.0,212.3 L470.0,211.7 L473.0,211.2 L476.0,210.7 L479.0,210.2 L482.0,209.7 L485.0,209.1 L488.0,208.6 L491.0,208.1 L494.0,207.6 L497.0,207.1 L500.0,206.6 L503.0,206.2 L506.0,205.7 L509.0,205.2 L512.0,204.7 L515.0,204.2 L518.0,203.7 L521.0,203.3 L524.0,202.8 L527.0,202.3 L530.0,201.8 L533.0,201.4 L536.0,200.9 L539.0,200.5 L542.0,200.0 L545.0,199.5 L548.0,199.1 L551.0,198.6 L554.0,198.2 L557.0,197.8 L560.0,197.3 L563.0,196.9 L566.0,196.4 L569.0,196.0 L572.0,195.6 L575.0,195.1 L578.0,194.7 L581.0,194.3 L584.0,193.8 L587.0,193.4 L590.0,193.0 L593.0,192.6 L596.0,192.2 L599.0,191.8 L602.0,191.3 L605.0,190.9 L608.0,190.5 L611.0,190.1 L614.0,189.7 L617.0,189.3 L620.0,188.9 L623.0,188.5 L626.0,188.1 L629.0,187.7 L632.0,187.3 L635.0,186.9 L638.0,186.5 L641.0,186.2 L644.0,185.8 L647.0,185.4 L650.0,185.0 L653.0,184.6 L656.0,184.2 L659.0,183.9 L662.0,183.5 L665.0,183.1 L668.0,182.7 L671.0,182.4 L674.0,182.0 L677.0,181.6 L680.0,181.3 L683.0,180.9 L686.0,180.5 L689.0,180.2 L692.0,179.8 L695.0,179.5 L698.0,179.1 L701.0,178.7 L704.0,178.4 L707.0,178.0 L710.0,177.7 L713.0,177.3 L716.0,177.0 L719.0,176.6 L722.0,176.3 L725.0,176.0 L728.0,175.6 L731.0,175.3 L734.0,174.9 L737.0,174.6 L740.0,174.3 L743.0,173.9 L746.0,173.6 L749.0,173.3 L752.0,172.9 L755.0,172.6 L758.0,172.3 L761.0,171.9 L764.0,171.6 L767.0,171.3 L770.0,171.0 L773.0,170.6 L776.0,170.3 L779.0,170.0 L782.0,169.7 L785.0,169.4 L788.0,169.1 L791.0,168.7 L794.0,168.4 L797.0,168.1 L800.0,167.8 L803.0,167.5 L806.0,167.2 L809.0,166.9 L812.0,166.6 L815.0,166.3 L818.0,166.0 L821.0,165.7 L824.0,165.3 L827.0,165.0 L830.0,164.7 L833.0,164.4 L836.0,164.1 L839.0,163.9 L842.0,163.6 L845.0,163.3 L848.0,163.0 L851.0,162.7 L854.0,162.4 L857.0,162.1 L860.0,161.8 L863.0,161.5 L866.0,161.2 L869.0,160.9 L872.0,160.6 L875.0,160.4 L878.0,160.1 L881.0,159.8 L884.0,159.5 L887.0,159.2 L890.0,159.0 L893.0,158.7 L896.0,158.4 L899.0,158.1 L902.0,157.8 L905.0,157.6 L908.0,157.3 L911.0,157.0 L914.0,156.7 L917.0,156.5 L920.0,156.2 L923.0,155.9 L926.0,155.7 L929.0,155.4 L932.0,155.1 L935.0,154.9 L938.0,154.6 L941.0,154.3 L944.0,154.1 L947.0,153.8 L950.0,153.5 L953.0,153.3 L956.0,153.0 L959.0,152.7 L962.0,152.5 L965.0,152.2 L968.0,152.0 L971.0,151.7 L974.0,151.5 L977.0,151.2 L980.0,150.9 L983.0,150.7 L986.0,150.4 L989.0,150.2 L992.0,149.9 L995.0,149.7 L998.0,149.4 L1001.0,149.2 L1004.0,148.9 L1007.0,148.7 L1010.0,148.4 L1013.0,148.2 L1016.0,147.9 L1019.0,147.7 L1022.0,147.5 L1025.0,147.2 L1028.0,147.0 L1031.0,146.7 L1034.0,146.5 L1037.0,146.2 L1040.0,146.0 L1043.0,145.8 L1046.0,145.5 L1049.0,145.3 L1052.0,145.0 L1055.0,144.8 L1058.0,144.6 L1061.0,144.3 L1064.0,144.1 L1067.0,143.9 L1070.0,143.6 L1073.0,143.4 L1076.0,143.2 L1079.0,142.9 L1082.0,142.7 L1085.0,142.5 L1088.0,142.2 L1091.0,142.0 L1094.0,141.8 L1097.0,141.6 L1100.0,141.3 L1103.0,141.1 L1106.0,140.9 L1109.0,140.7 L1112.0,140.4 L1115.0,140.2 L1118.0,140.0 L1121.0,139.8 L1124.0,139.5 L1127.0,139.3 L1130.0,139.1 L1133.0,138.9 L1136.0,138.7 L1139.0,138.4 L1142.0,138.2 L1145.0,138.0 L1148.0,137.8 L1151.0,137.6 L1154.0,137.3 L1157.0,137.1 L1160.0,136.9 L1163.0,136.7 L1166.0,136.5 L1169.0,136.3 L1172.0,136.1 L1175.0,135.8 L1178.0,135.6 L1181.0,135.4 L1184.0,135.2 L1187.0,135.0 L1190.0,134.8 L1193.0,134.6 L1196.0,134.4 L1199.0,134.2 L1202.0,133.9 L1205.0,133.7 L1208.0,133.5 L1211.0,133.3 L1214.0,133.1 L1217.0,132.9 L1220.0,132.7 L1222.0,132.6 L1222.0,148.9 L1220.0,149.0 L1217.0,149.2 L1214.0,149.5 L1211.0,149.7 L1208.0,149.9 L1205.0,150.1 L1202.0,150.3 L1199.0,150.5 L1196.0,150.7 L1193.0,151.0 L1190.0,151.2 L1187.0,151.4 L1184.0,151.6 L1181.0,151.8 L1178.0,152.1 L1175.0,152.3 L1172.0,152.5 L1169.0,152.7 L1166.0,153.0 L1163.0,153.2 L1160.0,153.4 L1157.0,153.6 L1154.0,153.8 L1151.0,154.1 L1148.0,154.3 L1145.0,154.5 L1142.0,154.8 L1139.0,155.0 L1136.0,155.2 L1133.0,155.4 L1130.0,155.7 L1127.0,155.9 L1124.0,156.1 L1121.0,156.4 L1118.0,156.6 L1115.0,156.8 L1112.0,157.1 L1109.0,157.3 L1106.0,157.5 L1103.0,157.8 L1100.0,158.0 L1097.0,158.2 L1094.0,158.5 L1091.0,158.7 L1088.0,159.0 L1085.0,159.2 L1082.0,159.4 L1079.0,159.7 L1076.0,159.9 L1073.0,160.2 L1070.0,160.4 L1067.0,160.6 L1064.0,160.9 L1061.0,161.1 L1058.0,161.4 L1055.0,161.6 L1052.0,161.9 L1049.0,162.1 L1046.0,162.4 L1043.0,162.6 L1040.0,162.9 L1037.0,163.1 L1034.0,163.4 L1031.0,163.6 L1028.0,163.9 L1025.0,164.1 L1022.0,164.4 L1019.0,164.6 L1016.0,164.9 L1013.0,165.1 L1010.0,165.4 L1007.0,165.7 L1004.0,165.9 L1001.0,166.2 L998.0,166.4 L995.0,166.7 L992.0,167.0 L989.0,167.2 L986.0,167.5 L983.0,167.7 L980.0,168.0 L977.0,168.3 L974.0,168.5 L971.0,168.8 L968.0,169.1 L965.0,169.3 L962.0,169.6 L959.0,169.9 L956.0,170.2 L953.0,170.4 L950.0,170.7 L947.0,171.0 L944.0,171.3 L941.0,171.5 L938.0,171.8 L935.0,172.1 L932.0,172.4 L929.0,172.6 L926.0,172.9 L923.0,173.2 L920.0,173.5 L917.0,173.8 L914.0,174.0 L911.0,174.3 L908.0,174.6 L905.0,174.9 L902.0,175.2 L899.0,175.5 L896.0,175.8 L893.0,176.1 L890.0,176.3 L887.0,176.6 L884.0,176.9 L881.0,177.2 L878.0,177.5 L875.0,177.8 L872.0,178.1 L869.0,178.4 L866.0,178.7 L863.0,179.0 L860.0,179.3 L857.0,179.6 L854.0,179.9 L851.0,180.2 L848.0,180.5 L845.0,180.8 L842.0,181.1 L839.0,181.5 L836.0,181.8 L833.0,182.1 L830.0,182.4 L827.0,182.7 L824.0,183.0 L821.0,183.3 L818.0,183.6 L815.0,184.0 L812.0,184.3 L809.0,184.6 L806.0,184.9 L803.0,185.2 L800.0,185.6 L797.0,185.9 L794.0,186.2 L791.0,186.5 L788.0,186.9 L785.0,187.2 L782.0,187.5 L779.0,187.9 L776.0,188.2 L773.0,188.5 L770.0,188.9 L767.0,189.2 L764.0,189.5 L761.0,189.9 L758.0,190.2 L755.0,190.6 L752.0,190.9 L749.0,191.3 L746.0,191.6 L743.0,191.9 L740.0,192.3 L737.0,192.6 L734.0,193.0 L731.0,193.3 L728.0,193.7 L725.0,194.1 L722.0,194.4 L719.0,194.8 L716.0,195.1 L713.0,195.5 L710.0,195.9 L707.0,196.2 L704.0,196.6 L701.0,197.0 L698.0,197.3 L695.0,197.7 L692.0,198.1 L689.0,198.5 L686.0,198.8 L683.0,199.2 L680.0,199.6 L677.0,200.0 L674.0,200.3 L671.0,200.7 L668.0,201.1 L665.0,201.5 L662.0,201.9 L659.0,202.3 L656.0,202.7 L653.0,203.1 L650.0,203.5 L647.0,203.9 L644.0,204.3 L641.0,204.7 L638.0,205.1 L635.0,205.5 L632.0,205.9 L629.0,206.3 L626.0,206.7 L623.0,207.1 L620.0,207.5 L617.0,208.0 L614.0,208.4 L611.0,208.8 L608.0,209.2 L605.0,209.6 L602.0,210.1 L599.0,210.5 L596.0,210.9 L593.0,211.4 L590.0,211.8 L587.0,212.2 L584.0,212.7 L581.0,213.1 L578.0,213.6 L575.0,214.0 L572.0,214.5 L569.0,214.9 L566.0,215.4 L563.0,215.8 L560.0,216.3 L557.0,216.7 L554.0,217.2 L551.0,217.7 L548.0,218.1 L545.0,218.6 L542.0,219.1 L539.0,219.6 L536.0,220.0 L533.0,220.5 L530.0,221.0 L527.0,221.5 L524.0,222.0 L521.0,222.5 L518.0,223.0 L515.0,223.5 L512.0,224.0 L509.0,224.5 L506.0,225.0 L503.0,225.5 L500.0,226.0 L497.0,226.5 L494.0,227.0 L491.0,227.6 L488.0,228.1 L485.0,228.6 L482.0,229.1 L479.0,229.7 L476.0,230.2 L473.0,230.8 L470.0,231.3 L467.0,231.9 L464.0,232.4 L461.0,233.0 L458.0,233.5 L455.0,234.1 L452.0,234.6 L449.0,235.2 L446.0,235.8 L443.0,236.4 L440.0,236.9 L437.0,237.5 L434.0,238.1 L431.0,238.7 L428.0,239.3 L425.0,239.9 L422.0,240.5 L419.0,241.1 L416.0,241.7 L413.0,242.3 L410.0,243.0 L407.0,243.6 L404.0,244.2 L401.0,244.9 L398.0,245.5 L395.0,246.1 L392.0,246.8 L389.0,247.4 L386.0,248.1 L383.0,248.8 L380.0,249.4 L377.0,250.1 L374.0,250.8 L371.0,251.5 L368.0,252.2 L365.0,252.9 L362.0,253.6 L359.0,254.3 L356.0,255.0 L353.0,255.7 L350.0,256.4 L347.0,257.2 L344.0,257.9 L341.0,258.6 L338.0,259.4 L335.0,260.1 L332.0,260.9 L329.0,261.7 L326.0,262.5 L323.0,263.2 L320.0,264.0 L317.0,264.8 L314.0,265.6 L311.0,266.4 L308.0,267.3 L305.0,268.1 L302.0,268.9 L299.0,269.8 L296.0,270.6 L293.0,271.5 L290.0,272.3 L287.0,273.2 L284.0,274.1 L281.0,275.0 L278.0,275.9 L275.0,276.8 L272.0,277.7 L269.0,278.7 L266.0,279.6 L263.0,280.6 L260.0,281.5 L257.0,282.5 L254.0,283.5 L251.0,284.5 L248.0,285.5 L245.0,286.5 L242.0,287.6 L239.0,288.6 L236.0,289.7 L233.0,290.7 L230.0,291.8 L227.0,292.9 L224.0,294.0 L221.0,295.1 L218.0,296.3 L215.0,297.4 L212.0,298.6 L209.0,299.8 L206.0,301.0 L203.0,302.2 L200.0,303.4 L199.0,303.9 L198.0,304.3 L197.0,304.7 L196.0,305.1 L195.0,305.5 L194.0,306.0 L193.0,306.4 L192.0,306.8 L191.0,307.3 L190.0,307.7 L189.0,308.1 L188.0,308.6 L187.0,309.0 L186.0,309.5 L185.0,309.9 L184.0,310.3 L183.0,310.8 L182.0,311.3 L181.0,311.7 L180.0,312.2 L179.0,312.6 L178.0,313.1 L177.0,313.5 L176.0,314.0 L175.0,314.5 L174.0,315.0 L173.0,315.4 L172.0,315.9 L171.0,316.4 L170.0,316.9 L169.0,317.4 L168.0,317.8 L167.0,318.3 L166.0,318.8 L165.0,319.3 L164.0,319.8 L163.0,320.3 L162.0,320.8 L161.0,321.3 L160.0,321.8 L159.0,322.4 L158.0,322.9 L157.0,323.4 L156.0,323.9 L155.0,324.4 L154.0,325.0 L153.0,325.5 L152.0,326.0 L151.0,326.6 L150.0,327.1 L149.0,327.7 L148.0,328.2 L147.0,328.8 L146.0,329.3 L145.0,329.9 L144.0,330.4 L143.0,331.0 L142.0,331.6 L141.0,332.2 L140.0,332.7 L139.0,333.3 L138.0,333.9 L137.0,334.5 L136.0,335.1 L135.0,335.7 L134.0,336.3 L133.0,336.9 L132.0,337.5 L131.0,338.1 L130.0,338.7 L129.0,339.4 L128.0,340.0 L127.0,340.6 L126.0,341.3 L125.0,341.9 L124.0,342.5 L123.0,343.2 L122.0,343.8 L121.0,344.5 L120.0,345.2 L119.0,345.8 L118.0,346.5 L117.0,347.2 L116.0,347.9 L115.0,348.6 L114.0,349.3 L113.0,350.0 L112.0,350.7 L111.0,351.4 L110.0,352.1 L109.0,352.8 L108.0,353.6 L107.0,354.3 L106.0,355.1 L105.0,355.8 L104.0,356.6 L103.0,357.3 L102.0,358.1 L101.0,358.9 L100.0,359.7 L99.0,360.5 L98.0,361.3 L97.0,362.1 L96.0,362.9 L95.0,363.7 L94.0,364.5 L93.0,365.4 L92.0,366.2 L91.0,367.1 L90.0,367.9 L89.0,368.8 L88.0,369.7 L87.0,370.6 L86.0,371.5 L85.0,372.4 L84.0,373.3 L83.0,374.2 L82.0,375.2 L81.0,376.1 L80.0,377.1 L79.0,378.0 L78.0,379.0 L77.0,380.0 L76.0,381.0 L75.0,382.0 L74.0,383.0 L73.0,384.1 L72.0,385.1 L71.0,386.2 L70.0,387.2 L69.0,388.3 L68.0,389.4 L67.0,390.6 L66.0,391.7 L65.0,392.8 L64.0,394.0 L63.0,395.2 L62.0,396.4 L61.0,397.6 L60.0,398.8 L59.5,399.4 L59.0,400.0 L58.5,400.7 L58.0,401.3 L57.5,401.9 L57.0,402.6 L56.5,403.2 L56.0,403.9 L55.5,404.5 L55.0,405.2 L54.5,405.8 L54.0,406.5 L53.5,407.2 L53.0,407.9 L52.5,408.6 L52.0,409.2 L51.5,409.9 L51.0,410.6 L50.5,411.4 L50.0,412.1 L49.5,412.8 L49.0,413.5 L48.5,414.2 L48.0,415.0 L47.5,415.7 L47.0,416.5 L46.5,417.2 L46.0,418.0 L45.5,418.8 L45.0,419.5 L44.5,420.3 L44.0,421.1 L43.5,421.9 L43.0,422.7 L42.5,423.5 L42.0,424.4 L41.5,425.2 L41.0,426.0 L40.5,426.9 L40.0,427.7 L39.5,428.6 L39.0,429.5 L38.5,430.3 L38.0,431.2 L37.5,432.1 L37.0,433.0 L36.5,434.0 L36.0,434.9 L35.5,435.8 L35.0,436.8 L34.5,437.7 L34.0,438.7 L33.5,439.7 L33.0,440.6 L32.5,441.6 L32.0,442.7 L31.5,443.7 L31.0,444.7 L30.5,445.8 L30.0,446.8 L29.5,447.9 L29.0,449.0 L28.5,450.1 L28.0,451.2 L27.5,452.3 L27.0,453.5 L26.5,454.6 L26.0,455.8 L25.5,457.0 L25.0,458.2 L24.5,459.4 L24.0,460.7 L23.5,461.9 L23.0,463.2 L22.5,464.5 L22.0,465.8 L21.5,467.1 L21.0,468.5 L20.5,469.9 L20.0,471.3 L19.5,472.7 L19.0,474.1Z" fill="#B1D480"/><path d="M19.0,472.9 L19.5,471.5 L20.0,470.1 L20.5,468.7 L21.0,467.3 L21.5,465.9 L22.0,464.6 L22.5,463.3 L23.0,462.0 L23.5,460.7 L24.0,459.5 L24.5,458.2 L25.0,457.0 L25.5,455.8 L26.0,454.6 L26.5,453.4 L27.0,452.3 L27.5,451.1 L28.0,450.0 L28.5,448.9 L29.0,447.8 L29.5,446.7 L30.0,445.6 L30.5,444.6 L31.0,443.5 L31.5,442.5 L32.0,441.5 L32.5,440.4 L33.0,439.4 L33.5,438.5 L34.0,437.5 L34.5,436.5 L35.0,435.6 L35.5,434.6 L36.0,433.7 L36.5,432.8 L37.0,431.8 L37.5,430.9 L38.0,430.0 L38.5,429.1 L39.0,428.3 L39.5,427.4 L40.0,426.5 L40.5,425.7 L41.0,424.8 L41.5,424.0 L42.0,423.2 L42.5,422.3 L43.0,421.5 L43.5,420.7 L44.0,419.9 L44.5,419.1 L45.0,418.3 L45.5,417.6 L46.0,416.8 L46.5,416.0 L47.0,415.3 L47.5,414.5 L48.0,413.8 L48.5,413.0 L49.0,412.3 L49.5,411.6 L50.0,410.9 L50.5,410.2 L51.0,409.4 L51.5,408.7 L52.0,408.0 L52.5,407.4 L53.0,406.7 L53.5,406.0 L54.0,405.3 L54.5,404.6 L55.0,404.0 L55.5,403.3 L56.0,402.7 L56.5,402.0 L57.0,401.4 L57.5,400.7 L58.0,400.1 L58.5,399.5 L59.0,398.8 L59.5,398.2 L60.0,397.6 L61.0,396.4 L62.0,395.2 L63.0,394.0 L64.0,392.8 L65.0,391.6 L66.0,390.5 L67.0,389.4 L68.0,388.2 L69.0,387.1 L70.0,386.0 L71.0,385.0 L72.0,383.9 L73.0,382.9 L74.0,381.8 L75.0,380.8 L76.0,379.8 L77.0,378.8 L78.0,377.8 L79.0,376.8 L80.0,375.9 L81.0,374.9 L82.0,374.0 L83.0,373.0 L84.0,372.1 L85.0,371.2 L86.0,370.3 L87.0,369.4 L88.0,368.5 L89.0,367.6 L90.0,366.7 L91.0,365.9 L92.0,365.0 L93.0,364.2 L94.0,363.3 L95.0,362.5 L96.0,361.7 L97.0,360.9 L98.0,360.1 L99.0,359.3 L100.0,358.5 L101.0,357.7 L102.0,356.9 L103.0,356.1 L104.0,355.4 L105.0,354.6 L106.0,353.9 L107.0,353.1 L108.0,352.4 L109.0,351.6 L110.0,350.9 L111.0,350.2 L112.0,349.5 L113.0,348.8 L114.0,348.1 L115.0,347.4 L116.0,346.7 L117.0,346.0 L118.0,345.3 L119.0,344.6 L120.0,344.0 L121.0,343.3 L122.0,342.6 L123.0,342.0 L124.0,341.3 L125.0,340.7 L126.0,340.1 L127.0,339.4 L128.0,338.8 L129.0,338.2 L130.0,337.5 L131.0,336.9 L132.0,336.3 L133.0,335.7 L134.0,335.1 L135.0,334.5 L136.0,333.9 L137.0,333.3 L138.0,332.7 L139.0,332.1 L140.0,331.5 L141.0,331.0 L142.0,330.4 L143.0,329.8 L144.0,329.2 L145.0,328.7 L146.0,328.1 L147.0,327.6 L148.0,327.0 L149.0,326.5 L150.0,325.9 L151.0,325.4 L152.0,324.8 L153.0,324.3 L154.0,323.8 L155.0,323.2 L156.0,322.7 L157.0,322.2 L158.0,321.7 L159.0,321.2 L160.0,320.6 L161.0,320.1 L162.0,319.6 L163.0,319.1 L164.0,318.6 L165.0,318.1 L166.0,317.6 L167.0,317.1 L168.0,316.6 L169.0,316.2 L170.0,315.7 L171.0,315.2 L172.0,314.7 L173.0,314.2 L174.0,313.8 L175.0,313.3 L176.0,312.8 L177.0,312.3 L178.0,311.9 L179.0,311.4 L180.0,311.0 L181.0,310.5 L182.0,310.1 L183.0,309.6 L184.0,309.1 L185.0,308.7 L186.0,308.3 L187.0,307.8 L188.0,307.4 L189.0,306.9 L190.0,306.5 L191.0,306.1 L192.0,305.6 L193.0,305.2 L194.0,304.8 L195.0,304.3 L196.0,303.9 L197.0,303.5 L198.0,303.1 L199.0,302.7 L200.0,302.2 L203.0,301.0 L206.0,299.8 L209.0,298.6 L212.0,297.4 L215.0,296.2 L218.0,295.1 L221.0,293.9 L224.0,292.8 L227.0,291.7 L230.0,290.6 L233.0,289.5 L236.0,288.5 L239.0,287.4 L242.0,286.4 L245.0,285.3 L248.0,284.3 L251.0,283.3 L254.0,282.3 L257.0,281.3 L260.0,280.3 L263.0,279.4 L266.0,278.4 L269.0,277.5 L272.0,276.5 L275.0,275.6 L278.0,274.7 L281.0,273.8 L284.0,272.9 L287.0,272.0 L290.0,271.1 L293.0,270.3 L296.0,269.4 L299.0,268.6 L302.0,267.7 L305.0,266.9 L308.0,266.1 L311.0,265.2 L314.0,264.4 L317.0,263.6 L320.0,262.8 L323.0,262.0 L326.0,261.3 L329.0,260.5 L332.0,259.7 L335.0,258.9 L338.0,258.2 L341.0,257.4 L344.0,256.7 L347.0,256.0 L350.0,255.2 L353.0,254.5 L356.0,253.8 L359.0,253.1 L362.0,252.4 L365.0,251.7 L368.0,251.0 L371.0,250.3 L374.0,249.6 L377.0,248.9 L380.0,248.2 L383.0,247.6 L386.0,246.9 L389.0,246.2 L392.0,245.6 L395.0,244.9 L398.0,244.3 L401.0,243.7 L404.0,243.0 L407.0,242.4 L410.0,241.8 L413.0,241.1 L416.0,240.5 L419.0,239.9 L422.0,239.3 L425.0,238.7 L428.0,238.1 L431.0,237.5 L434.0,236.9 L437.0,236.3 L440.0,235.7 L443.0,235.2 L446.0,234.6 L449.0,234.0 L452.0,233.4 L455.0,232.9 L458.0,232.3 L461.0,231.8 L464.0,231.2 L467.0,230.7 L470.0,230.1 L473.0,229.6 L476.0,229.0 L479.0,228.5 L482.0,227.9 L485.0,227.4 L488.0,226.9 L491.0,226.4 L494.0,225.8 L497.0,225.3 L500.0,224.8 L503.0,224.3 L506.0,223.8 L509.0,223.3 L512.0,222.8 L515.0,222.3 L518.0,221.8 L521.0,221.3 L524.0,220.8 L527.0,220.3 L530.0,219.8 L533.0,219.3 L536.0,218.8 L539.0,218.4 L542.0,217.9 L545.0,217.4 L548.0,216.9 L551.0,216.5 L554.0,216.0 L557.0,215.5 L560.0,215.1 L563.0,214.6 L566.0,214.2 L569.0,213.7 L572.0,213.3 L575.0,212.8 L578.0,212.4 L581.0,211.9 L584.0,211.5 L587.0,211.0 L590.0,210.6 L593.0,210.2 L596.0,209.7 L599.0,209.3 L602.0,208.9 L605.0,208.4 L608.0,208.0 L611.0,207.6 L614.0,207.2 L617.0,206.8 L620.0,206.3 L623.0,205.9 L626.0,205.5 L629.0,205.1 L632.0,204.7 L635.0,204.3 L638.0,203.9 L641.0,203.5 L644.0,203.1 L647.0,202.7 L650.0,202.3 L653.0,201.9 L656.0,201.5 L659.0,201.1 L662.0,200.7 L665.0,200.3 L668.0,199.9 L671.0,199.5 L674.0,199.1 L677.0,198.8 L680.0,198.4 L683.0,198.0 L686.0,197.6 L689.0,197.3 L692.0,196.9 L695.0,196.5 L698.0,196.1 L701.0,195.8 L704.0,195.4 L707.0,195.0 L710.0,194.7 L713.0,194.3 L716.0,193.9 L719.0,193.6 L722.0,193.2 L725.0,192.9 L728.0,192.5 L731.0,192.1 L734.0,191.8 L737.0,191.4 L740.0,191.1 L743.0,190.7 L746.0,190.4 L749.0,190.1 L752.0,189.7 L755.0,189.4 L758.0,189.0 L761.0,188.7 L764.0,188.3 L767.0,188.0 L770.0,187.7 L773.0,187.3 L776.0,187.0 L779.0,186.7 L782.0,186.3 L785.0,186.0 L788.0,185.7 L791.0,185.3 L794.0,185.0 L797.0,184.7 L800.0,184.4 L803.0,184.0 L806.0,183.7 L809.0,183.4 L812.0,183.1 L815.0,182.8 L818.0,182.4 L821.0,182.1 L824.0,181.8 L827.0,181.5 L830.0,181.2 L833.0,180.9 L836.0,180.6 L839.0,180.3 L842.0,179.9 L845.0,179.6 L848.0,179.3 L851.0,179.0 L854.0,178.7 L857.0,178.4 L860.0,178.1 L863.0,177.8 L866.0,177.5 L869.0,177.2 L872.0,176.9 L875.0,176.6 L878.0,176.3 L881.0,176.0 L884.0,175.7 L887.0,175.4 L890.0,175.1 L893.0,174.9 L896.0,174.6 L899.0,174.3 L902.0,174.0 L905.0,173.7 L908.0,173.4 L911.0,173.1 L914.0,172.8 L917.0,172.6 L920.0,172.3 L923.0,172.0 L926.0,171.7 L929.0,171.4 L932.0,171.2 L935.0,170.9 L938.0,170.6 L941.0,170.3 L944.0,170.1 L947.0,169.8 L950.0,169.5 L953.0,169.2 L956.0,169.0 L959.0,168.7 L962.0,168.4 L965.0,168.1 L968.0,167.9 L971.0,167.6 L974.0,167.3 L977.0,167.1 L980.0,166.8 L983.0,166.5 L986.0,166.3 L989.0,166.0 L992.0,165.8 L995.0,165.5 L998.0,165.2 L1001.0,165.0 L1004.0,164.7 L1007.0,164.5 L1010.0,164.2 L1013.0,163.9 L1016.0,163.7 L1019.0,163.4 L1022.0,163.2 L1025.0,162.9 L1028.0,162.7 L1031.0,162.4 L1034.0,162.2 L1037.0,161.9 L1040.0,161.7 L1043.0,161.4 L1046.0,161.2 L1049.0,160.9 L1052.0,160.7 L1055.0,160.4 L1058.0,160.2 L1061.0,159.9 L1064.0,159.7 L1067.0,159.4 L1070.0,159.2 L1073.0,159.0 L1076.0,158.7 L1079.0,158.5 L1082.0,158.2 L1085.0,158.0 L1088.0,157.8 L1091.0,157.5 L1094.0,157.3 L1097.0,157.0 L1100.0,156.8 L1103.0,156.6 L1106.0,156.3 L1109.0,156.1 L1112.0,155.9 L1115.0,155.6 L1118.0,155.4 L1121.0,155.2 L1124.0,154.9 L1127.0,154.7 L1130.0,154.5 L1133.0,154.2 L1136.0,154.0 L1139.0,153.8 L1142.0,153.6 L1145.0,153.3 L1148.0,153.1 L1151.0,152.9 L1154.0,152.6 L1157.0,152.4 L1160.0,152.2 L1163.0,152.0 L1166.0,151.8 L1169.0,151.5 L1172.0,151.3 L1175.0,151.1 L1178.0,150.9 L1181.0,150.6 L1184.0,150.4 L1187.0,150.2 L1190.0,150.0 L1193.0,149.8 L1196.0,149.5 L1199.0,149.3 L1202.0,149.1 L1205.0,148.9 L1208.0,148.7 L1211.0,148.5 L1214.0,148.3 L1217.0,148.0 L1220.0,147.8 L1222.0,147.7 L1222.0,163.4 L1220.0,163.6 L1217.0,163.8 L1214.0,164.0 L1211.0,164.2 L1208.0,164.5 L1205.0,164.7 L1202.0,164.9 L1199.0,165.1 L1196.0,165.4 L1193.0,165.6 L1190.0,165.8 L1187.0,166.0 L1184.0,166.3 L1181.0,166.5 L1178.0,166.7 L1175.0,167.0 L1172.0,167.2 L1169.0,167.4 L1166.0,167.7 L1163.0,167.9 L1160.0,168.1 L1157.0,168.4 L1154.0,168.6 L1151.0,168.8 L1148.0,169.1 L1145.0,169.3 L1142.0,169.5 L1139.0,169.8 L1136.0,170.0 L1133.0,170.2 L1130.0,170.5 L1127.0,170.7 L1124.0,171.0 L1121.0,171.2 L1118.0,171.4 L1115.0,171.7 L1112.0,171.9 L1109.0,172.2 L1106.0,172.4 L1103.0,172.7 L1100.0,172.9 L1097.0,173.2 L1094.0,173.4 L1091.0,173.7 L1088.0,173.9 L1085.0,174.2 L1082.0,174.4 L1079.0,174.7 L1076.0,174.9 L1073.0,175.2 L1070.0,175.4 L1067.0,175.7 L1064.0,175.9 L1061.0,176.2 L1058.0,176.4 L1055.0,176.7 L1052.0,176.9 L1049.0,177.2 L1046.0,177.5 L1043.0,177.7 L1040.0,178.0 L1037.0,178.2 L1034.0,178.5 L1031.0,178.8 L1028.0,179.0 L1025.0,179.3 L1022.0,179.6 L1019.0,179.8 L1016.0,180.1 L1013.0,180.4 L1010.0,180.6 L1007.0,180.9 L1004.0,181.2 L1001.0,181.4 L998.0,181.7 L995.0,182.0 L992.0,182.2 L989.0,182.5 L986.0,182.8 L983.0,183.1 L980.0,183.3 L977.0,183.6 L974.0,183.9 L971.0,184.2 L968.0,184.5 L965.0,184.7 L962.0,185.0 L959.0,185.3 L956.0,185.6 L953.0,185.9 L950.0,186.2 L947.0,186.4 L944.0,186.7 L941.0,187.0 L938.0,187.3 L935.0,187.6 L932.0,187.9 L929.0,188.2 L926.0,188.5 L923.0,188.8 L920.0,189.0 L917.0,189.3 L914.0,189.6 L911.0,189.9 L908.0,190.2 L905.0,190.5 L902.0,190.8 L899.0,191.1 L896.0,191.4 L893.0,191.7 L890.0,192.0 L887.0,192.3 L884.0,192.6 L881.0,192.9 L878.0,193.3 L875.0,193.6 L872.0,193.9 L869.0,194.2 L866.0,194.5 L863.0,194.8 L860.0,195.1 L857.0,195.4 L854.0,195.8 L851.0,196.1 L848.0,196.4 L845.0,196.7 L842.0,197.0 L839.0,197.4 L836.0,197.7 L833.0,198.0 L830.0,198.3 L827.0,198.6 L824.0,199.0 L821.0,199.3 L818.0,199.6 L815.0,200.0 L812.0,200.3 L809.0,200.6 L806.0,201.0 L803.0,201.3 L800.0,201.6 L797.0,202.0 L794.0,202.3 L791.0,202.7 L788.0,203.0 L785.0,203.3 L782.0,203.7 L779.0,204.0 L776.0,204.4 L773.0,204.7 L770.0,205.1 L767.0,205.4 L764.0,205.8 L761.0,206.1 L758.0,206.5 L755.0,206.8 L752.0,207.2 L749.0,207.6 L746.0,207.9 L743.0,208.3 L740.0,208.6 L737.0,209.0 L734.0,209.4 L731.0,209.7 L728.0,210.1 L725.0,210.5 L722.0,210.9 L719.0,211.2 L716.0,211.6 L713.0,212.0 L710.0,212.4 L707.0,212.7 L704.0,213.1 L701.0,213.5 L698.0,213.9 L695.0,214.3 L692.0,214.7 L689.0,215.1 L686.0,215.5 L683.0,215.9 L680.0,216.2 L677.0,216.6 L674.0,217.0 L671.0,217.4 L668.0,217.8 L665.0,218.2 L662.0,218.7 L659.0,219.1 L656.0,219.5 L653.0,219.9 L650.0,220.3 L647.0,220.7 L644.0,221.1 L641.0,221.5 L638.0,222.0 L635.0,222.4 L632.0,222.8 L629.0,223.2 L626.0,223.7 L623.0,224.1 L620.0,224.5 L617.0,225.0 L614.0,225.4 L611.0,225.8 L608.0,226.3 L605.0,226.7 L602.0,227.2 L599.0,227.6 L596.0,228.1 L593.0,228.5 L590.0,229.0 L587.0,229.4 L584.0,229.9 L581.0,230.4 L578.0,230.8 L575.0,231.3 L572.0,231.8 L569.0,232.2 L566.0,232.7 L563.0,233.2 L560.0,233.7 L557.0,234.1 L554.0,234.6 L551.0,235.1 L548.0,235.6 L545.0,236.1 L542.0,236.6 L539.0,237.1 L536.0,237.6 L533.0,238.1 L530.0,238.6 L527.0,239.1 L524.0,239.6 L521.0,240.1 L518.0,240.6 L515.0,241.1 L512.0,241.7 L509.0,242.2 L506.0,242.7 L503.0,243.2 L500.0,243.8 L497.0,244.3 L494.0,244.9 L491.0,245.4 L488.0,246.0 L485.0,246.5 L482.0,247.1 L479.0,247.6 L476.0,248.2 L473.0,248.7 L470.0,249.3 L467.0,249.9 L464.0,250.4 L461.0,251.0 L458.0,251.6 L455.0,252.2 L452.0,252.8 L449.0,253.4 L446.0,254.0 L443.0,254.6 L440.0,255.2 L437.0,255.8 L434.0,256.4 L431.0,257.0 L428.0,257.6 L425.0,258.3 L422.0,258.9 L419.0,259.5 L416.0,260.2 L413.0,260.8 L410.0,261.5 L407.0,262.1 L404.0,262.8 L401.0,263.4 L398.0,264.1 L395.0,264.8 L392.0,265.4 L389.0,266.1 L386.0,266.8 L383.0,267.5 L380.0,268.2 L377.0,268.9 L374.0,269.6 L371.0,270.3 L368.0,271.0 L365.0,271.8 L362.0,272.5 L359.0,273.2 L356.0,274.0 L353.0,274.7 L350.0,275.5 L347.0,276.2 L344.0,277.0 L341.0,277.8 L338.0,278.6 L335.0,279.4 L332.0,280.2 L329.0,281.0 L326.0,281.8 L323.0,282.6 L320.0,283.4 L317.0,284.2 L314.0,285.1 L311.0,285.9 L308.0,286.8 L305.0,287.6 L302.0,288.5 L299.0,289.4 L296.0,290.3 L293.0,291.2 L290.0,292.1 L287.0,293.0 L284.0,293.9 L281.0,294.8 L278.0,295.8 L275.0,296.7 L272.0,297.7 L269.0,298.7 L266.0,299.7 L263.0,300.6 L260.0,301.7 L257.0,302.7 L254.0,303.7 L251.0,304.7 L248.0,305.8 L245.0,306.8 L242.0,307.9 L239.0,309.0 L236.0,310.1 L233.0,311.2 L230.0,312.4 L227.0,313.5 L224.0,314.7 L221.0,315.8 L218.0,317.0 L215.0,318.2 L212.0,319.4 L209.0,320.7 L206.0,321.9 L203.0,323.2 L200.0,324.5 L199.0,324.9 L198.0,325.4 L197.0,325.8 L196.0,326.2 L195.0,326.7 L194.0,327.1 L193.0,327.6 L192.0,328.0 L191.0,328.5 L190.0,328.9 L189.0,329.4 L188.0,329.8 L187.0,330.3 L186.0,330.7 L185.0,331.2 L184.0,331.7 L183.0,332.1 L182.0,332.6 L181.0,333.1 L180.0,333.6 L179.0,334.0 L178.0,334.5 L177.0,335.0 L176.0,335.5 L175.0,336.0 L174.0,336.5 L173.0,337.0 L172.0,337.5 L171.0,338.0 L170.0,338.5 L169.0,339.0 L168.0,339.5 L167.0,340.0 L166.0,340.5 L165.0,341.0 L164.0,341.6 L163.0,342.1 L162.0,342.6 L161.0,343.1 L160.0,343.7 L159.0,344.2 L158.0,344.7 L157.0,345.3 L156.0,345.8 L155.0,346.4 L154.0,346.9 L153.0,347.5 L152.0,348.0 L151.0,348.6 L150.0,349.2 L149.0,349.7 L148.0,350.3 L147.0,350.9 L146.0,351.5 L145.0,352.0 L144.0,352.6 L143.0,353.2 L142.0,353.8 L141.0,354.4 L140.0,355.0 L139.0,355.6 L138.0,356.2 L137.0,356.8 L136.0,357.5 L135.0,358.1 L134.0,358.7 L133.0,359.3 L132.0,360.0 L131.0,360.6 L130.0,361.3 L129.0,361.9 L128.0,362.6 L127.0,363.2 L126.0,363.9 L125.0,364.6 L124.0,365.2 L123.0,365.9 L122.0,366.6 L121.0,367.3 L120.0,368.0 L119.0,368.7 L118.0,369.4 L117.0,370.1 L116.0,370.8 L115.0,371.5 L114.0,372.2 L113.0,373.0 L112.0,373.7 L111.0,374.5 L110.0,375.2 L109.0,376.0 L108.0,376.7 L107.0,377.5 L106.0,378.3 L105.0,379.1 L104.0,379.9 L103.0,380.6 L102.0,381.5 L101.0,382.3 L100.0,383.1 L99.0,383.9 L98.0,384.7 L97.0,385.6 L96.0,386.4 L95.0,387.3 L94.0,388.2 L93.0,389.0 L92.0,389.9 L91.0,390.8 L90.0,391.7 L89.0,392.6 L88.0,393.5 L87.0,394.4 L86.0,395.4 L85.0,396.3 L84.0,397.3 L83.0,398.2 L82.0,399.2 L81.0,400.2 L80.0,401.2 L79.0,402.2 L78.0,403.2 L77.0,404.3 L76.0,405.3 L75.0,406.4 L74.0,407.4 L73.0,408.5 L72.0,409.6 L71.0,410.7 L70.0,411.8 L69.0,413.0 L68.0,414.1 L67.0,415.3 L66.0,416.4 L65.0,417.6 L64.0,418.8 L63.0,420.1 L62.0,421.3 L61.0,422.6 L60.0,423.8 L59.5,424.5 L59.0,425.1 L58.5,425.8 L58.0,426.4 L57.5,427.1 L57.0,427.8 L56.5,428.4 L56.0,429.1 L55.5,429.8 L55.0,430.5 L54.5,431.2 L54.0,431.9 L53.5,432.6 L53.0,433.3 L52.5,434.0 L52.0,434.7 L51.5,435.5 L51.0,436.2 L50.5,436.9 L50.0,437.7 L49.5,438.4 L49.0,439.2 L48.5,440.0 L48.0,440.7 L47.5,441.5 L47.0,442.3 L46.5,443.1 L46.0,443.9 L45.5,444.7 L45.0,445.5 L44.5,446.3 L44.0,447.1 L43.5,448.0 L43.0,448.8 L42.5,449.6 L42.0,450.5 L41.5,451.4 L41.0,452.2 L40.5,453.1 L40.0,454.0 L39.5,454.9 L39.0,455.8 L38.5,456.7 L38.0,457.7 L37.5,458.6 L37.0,459.5 L36.5,460.5 L36.0,461.5 L35.5,462.4 L35.0,463.4 L34.5,464.4 L34.0,465.4 L33.5,466.4 L33.0,467.5 L32.5,468.5 L32.0,469.6 L31.5,470.6 L31.0,471.7 L30.5,472.8 L30.0,473.9 L29.5,475.0 L29.0,476.2 L28.5,477.3 L28.0,478.5 L27.5,479.6 L27.0,480.8 L26.5,482.0 L26.0,483.3 L25.5,484.5 L25.0,485.8 L24.5,487.0 L24.0,488.3 L23.5,489.6 L23.0,491.0 L22.5,492.3 L22.0,493.7 L21.5,495.1 L21.0,496.5 L20.5,497.9 L20.0,499.4 L19.5,500.9 L19.0,502.4Z" fill="#63BC7A"/><path d="M19.0,501.2 L19.5,499.7 L20.0,498.2 L20.5,496.7 L21.0,495.3 L21.5,493.9 L22.0,492.5 L22.5,491.1 L23.0,489.8 L23.5,488.4 L24.0,487.1 L24.5,485.8 L25.0,484.6 L25.5,483.3 L26.0,482.1 L26.5,480.8 L27.0,479.6 L27.5,478.4 L28.0,477.3 L28.5,476.1 L29.0,475.0 L29.5,473.8 L30.0,472.7 L30.5,471.6 L31.0,470.5 L31.5,469.4 L32.0,468.4 L32.5,467.3 L33.0,466.3 L33.5,465.2 L34.0,464.2 L34.5,463.2 L35.0,462.2 L35.5,461.2 L36.0,460.3 L36.5,459.3 L37.0,458.3 L37.5,457.4 L38.0,456.5 L38.5,455.5 L39.0,454.6 L39.5,453.7 L40.0,452.8 L40.5,451.9 L41.0,451.0 L41.5,450.2 L42.0,449.3 L42.5,448.4 L43.0,447.6 L43.5,446.8 L44.0,445.9 L44.5,445.1 L45.0,444.3 L45.5,443.5 L46.0,442.7 L46.5,441.9 L47.0,441.1 L47.5,440.3 L48.0,439.5 L48.5,438.8 L49.0,438.0 L49.5,437.2 L50.0,436.5 L50.5,435.7 L51.0,435.0 L51.5,434.3 L52.0,433.5 L52.5,432.8 L53.0,432.1 L53.5,431.4 L54.0,430.7 L54.5,430.0 L55.0,429.3 L55.5,428.6 L56.0,427.9 L56.5,427.2 L57.0,426.6 L57.5,425.9 L58.0,425.2 L58.5,424.6 L59.0,423.9 L59.5,423.3 L60.0,422.6 L61.0,421.4 L62.0,420.1 L63.0,418.9 L64.0,417.6 L65.0,416.4 L66.0,415.2 L67.0,414.1 L68.0,412.9 L69.0,411.8 L70.0,410.6 L71.0,409.5 L72.0,408.4 L73.0,407.3 L74.0,406.2 L75.0,405.2 L76.0,404.1 L77.0,403.1 L78.0,402.0 L79.0,401.0 L80.0,400.0 L81.0,399.0 L82.0,398.0 L83.0,397.0 L84.0,396.1 L85.0,395.1 L86.0,394.2 L87.0,393.2 L88.0,392.3 L89.0,391.4 L90.0,390.5 L91.0,389.6 L92.0,388.7 L93.0,387.8 L94.0,387.0 L95.0,386.1 L96.0,385.2 L97.0,384.4 L98.0,383.5 L99.0,382.7 L100.0,381.9 L101.0,381.1 L102.0,380.3 L103.0,379.4 L104.0,378.7 L105.0,377.9 L106.0,377.1 L107.0,376.3 L108.0,375.5 L109.0,374.8 L110.0,374.0 L111.0,373.3 L112.0,372.5 L113.0,371.8 L114.0,371.0 L115.0,370.3 L116.0,369.6 L117.0,368.9 L118.0,368.2 L119.0,367.5 L120.0,366.8 L121.0,366.1 L122.0,365.4 L123.0,364.7 L124.0,364.0 L125.0,363.4 L126.0,362.7 L127.0,362.0 L128.0,361.4 L129.0,360.7 L130.0,360.1 L131.0,359.4 L132.0,358.8 L133.0,358.1 L134.0,357.5 L135.0,356.9 L136.0,356.3 L137.0,355.6 L138.0,355.0 L139.0,354.4 L140.0,353.8 L141.0,353.2 L142.0,352.6 L143.0,352.0 L144.0,351.4 L145.0,350.8 L146.0,350.3 L147.0,349.7 L148.0,349.1 L149.0,348.5 L150.0,348.0 L151.0,347.4 L152.0,346.8 L153.0,346.3 L154.0,345.7 L155.0,345.2 L156.0,344.6 L157.0,344.1 L158.0,343.5 L159.0,343.0 L160.0,342.5 L161.0,341.9 L162.0,341.4 L163.0,340.9 L164.0,340.4 L165.0,339.8 L166.0,339.3 L167.0,338.8 L168.0,338.3 L169.0,337.8 L170.0,337.3 L171.0,336.8 L172.0,336.3 L173.0,335.8 L174.0,335.3 L175.0,334.8 L176.0,334.3 L177.0,333.8 L178.0,333.3 L179.0,332.8 L180.0,332.4 L181.0,331.9 L182.0,331.4 L183.0,330.9 L184.0,330.5 L185.0,330.0 L186.0,329.5 L187.0,329.1 L188.0,328.6 L189.0,328.2 L190.0,327.7 L191.0,327.3 L192.0,326.8 L193.0,326.4 L194.0,325.9 L195.0,325.5 L196.0,325.0 L197.0,324.6 L198.0,324.2 L199.0,323.7 L200.0,323.3 L203.0,322.0 L206.0,320.7 L209.0,319.5 L212.0,318.2 L215.0,317.0 L218.0,315.8 L221.0,314.6 L224.0,313.5 L227.0,312.3 L230.0,311.2 L233.0,310.0 L236.0,308.9 L239.0,307.8 L242.0,306.7 L245.0,305.6 L248.0,304.6 L251.0,303.5 L254.0,302.5 L257.0,301.5 L260.0,300.5 L263.0,299.4 L266.0,298.5 L269.0,297.5 L272.0,296.5 L275.0,295.5 L278.0,294.6 L281.0,293.6 L284.0,292.7 L287.0,291.8 L290.0,290.9 L293.0,290.0 L296.0,289.1 L299.0,288.2 L302.0,287.3 L305.0,286.4 L308.0,285.6 L311.0,284.7 L314.0,283.9 L317.0,283.0 L320.0,282.2 L323.0,281.4 L326.0,280.6 L329.0,279.8 L332.0,279.0 L335.0,278.2 L338.0,277.4 L341.0,276.6 L344.0,275.8 L347.0,275.0 L350.0,274.3 L353.0,273.5 L356.0,272.8 L359.0,272.0 L362.0,271.3 L365.0,270.6 L368.0,269.8 L371.0,269.1 L374.0,268.4 L377.0,267.7 L380.0,267.0 L383.0,266.3 L386.0,265.6 L389.0,264.9 L392.0,264.2 L395.0,263.6 L398.0,262.9 L401.0,262.2 L404.0,261.6 L407.0,260.9 L410.0,260.3 L413.0,259.6 L416.0,259.0 L419.0,258.3 L422.0,257.7 L425.0,257.1 L428.0,256.4 L431.0,255.8 L434.0,255.2 L437.0,254.6 L440.0,254.0 L443.0,253.4 L446.0,252.8 L449.0,252.2 L452.0,251.6 L455.0,251.0 L458.0,250.4 L461.0,249.8 L464.0,249.2 L467.0,248.7 L470.0,248.1 L473.0,247.5 L476.0,247.0 L479.0,246.4 L482.0,245.9 L485.0,245.3 L488.0,244.8 L491.0,244.2 L494.0,243.7 L497.0,243.1 L500.0,242.6 L503.0,242.0 L506.0,241.5 L509.0,241.0 L512.0,240.5 L515.0,239.9 L518.0,239.4 L521.0,238.9 L524.0,238.4 L527.0,237.9 L530.0,237.4 L533.0,236.9 L536.0,236.4 L539.0,235.9 L542.0,235.4 L545.0,234.9 L548.0,234.4 L551.0,233.9 L554.0,233.4 L557.0,232.9 L560.0,232.5 L563.0,232.0 L566.0,231.5 L569.0,231.0 L572.0,230.6 L575.0,230.1 L578.0,229.6 L581.0,229.2 L584.0,228.7 L587.0,228.2 L590.0,227.8 L593.0,227.3 L596.0,226.9 L599.0,226.4 L602.0,226.0 L605.0,225.5 L608.0,225.1 L611.0,224.6 L614.0,224.2 L617.0,223.8 L620.0,223.3 L623.0,222.9 L626.0,222.5 L629.0,222.0 L632.0,221.6 L635.0,221.2 L638.0,220.8 L641.0,220.3 L644.0,219.9 L647.0,219.5 L650.0,219.1 L653.0,218.7 L656.0,218.3 L659.0,217.9 L662.0,217.5 L665.0,217.0 L668.0,216.6 L671.0,216.2 L674.0,215.8 L677.0,215.4 L680.0,215.0 L683.0,214.7 L686.0,214.3 L689.0,213.9 L692.0,213.5 L695.0,213.1 L698.0,212.7 L701.0,212.3 L704.0,211.9 L707.0,211.5 L710.0,211.2 L713.0,210.8 L716.0,210.4 L719.0,210.0 L722.0,209.7 L725.0,209.3 L728.0,208.9 L731.0,208.5 L734.0,208.2 L737.0,207.8 L740.0,207.4 L743.0,207.1 L746.0,206.7 L749.0,206.4 L752.0,206.0 L755.0,205.6 L758.0,205.3 L761.0,204.9 L764.0,204.6 L767.0,204.2 L770.0,203.9 L773.0,203.5 L776.0,203.2 L779.0,202.8 L782.0,202.5 L785.0,202.1 L788.0,201.8 L791.0,201.5 L794.0,201.1 L797.0,200.8 L800.0,200.4 L803.0,200.1 L806.0,199.8 L809.0,199.4 L812.0,199.1 L815.0,198.8 L818.0,198.4 L821.0,198.1 L824.0,197.8 L827.0,197.4 L830.0,197.1 L833.0,196.8 L836.0,196.5 L839.0,196.2 L842.0,195.8 L845.0,195.5 L848.0,195.2 L851.0,194.9 L854.0,194.6 L857.0,194.2 L860.0,193.9 L863.0,193.6 L866.0,193.3 L869.0,193.0 L872.0,192.7 L875.0,192.4 L878.0,192.1 L881.0,191.7 L884.0,191.4 L887.0,191.1 L890.0,190.8 L893.0,190.5 L896.0,190.2 L899.0,189.9 L902.0,189.6 L905.0,189.3 L908.0,189.0 L911.0,188.7 L914.0,188.4 L917.0,188.1 L920.0,187.8 L923.0,187.6 L926.0,187.3 L929.0,187.0 L932.0,186.7 L935.0,186.4 L938.0,186.1 L941.0,185.8 L944.0,185.5 L947.0,185.2 L950.0,185.0 L953.0,184.7 L956.0,184.4 L959.0,184.1 L962.0,183.8 L965.0,183.5 L968.0,183.3 L971.0,183.0 L974.0,182.7 L977.0,182.4 L980.0,182.1 L983.0,181.9 L986.0,181.6 L989.0,181.3 L992.0,181.0 L995.0,180.8 L998.0,180.5 L1001.0,180.2 L1004.0,180.0 L1007.0,179.7 L1010.0,179.4 L1013.0,179.2 L1016.0,178.9 L1019.0,178.6 L1022.0,178.4 L1025.0,178.1 L1028.0,177.8 L1031.0,177.6 L1034.0,177.3 L1037.0,177.0 L1040.0,176.8 L1043.0,176.5 L1046.0,176.3 L1049.0,176.0 L1052.0,175.7 L1055.0,175.5 L1058.0,175.2 L1061.0,175.0 L1064.0,174.7 L1067.0,174.5 L1070.0,174.2 L1073.0,174.0 L1076.0,173.7 L1079.0,173.5 L1082.0,173.2 L1085.0,173.0 L1088.0,172.7 L1091.0,172.5 L1094.0,172.2 L1097.0,172.0 L1100.0,171.7 L1103.0,171.5 L1106.0,171.2 L1109.0,171.0 L1112.0,170.7 L1115.0,170.5 L1118.0,170.2 L1121.0,170.0 L1124.0,169.8 L1127.0,169.5 L1130.0,169.3 L1133.0,169.0 L1136.0,168.8 L1139.0,168.6 L1142.0,168.3 L1145.0,168.1 L1148.0,167.9 L1151.0,167.6 L1154.0,167.4 L1157.0,167.2 L1160.0,166.9 L1163.0,166.7 L1166.0,166.5 L1169.0,166.2 L1172.0,166.0 L1175.0,165.8 L1178.0,165.5 L1181.0,165.3 L1184.0,165.1 L1187.0,164.8 L1190.0,164.6 L1193.0,164.4 L1196.0,164.2 L1199.0,163.9 L1202.0,163.7 L1205.0,163.5 L1208.0,163.3 L1211.0,163.0 L1214.0,162.8 L1217.0,162.6 L1220.0,162.4 L1222.0,162.2 L1222.0,177.1 L1220.0,177.3 L1217.0,177.5 L1214.0,177.7 L1211.0,178.0 L1208.0,178.2 L1205.0,178.4 L1202.0,178.7 L1199.0,178.9 L1196.0,179.1 L1193.0,179.4 L1190.0,179.6 L1187.0,179.8 L1184.0,180.1 L1181.0,180.3 L1178.0,180.6 L1175.0,180.8 L1172.0,181.0 L1169.0,181.3 L1166.0,181.5 L1163.0,181.8 L1160.0,182.0 L1157.0,182.3 L1154.0,182.5 L1151.0,182.8 L1148.0,183.0 L1145.0,183.2 L1142.0,183.5 L1139.0,183.7 L1136.0,184.0 L1133.0,184.2 L1130.0,184.5 L1127.0,184.7 L1124.0,185.0 L1121.0,185.2 L1118.0,185.5 L1115.0,185.8 L1112.0,186.0 L1109.0,186.3 L1106.0,186.5 L1103.0,186.8 L1100.0,187.0 L1097.0,187.3 L1094.0,187.5 L1091.0,187.8 L1088.0,188.1 L1085.0,188.3 L1082.0,188.6 L1079.0,188.8 L1076.0,189.1 L1073.0,189.4 L1070.0,189.6 L1067.0,189.9 L1064.0,190.2 L1061.0,190.4 L1058.0,190.7 L1055.0,191.0 L1052.0,191.2 L1049.0,191.5 L1046.0,191.8 L1043.0,192.0 L1040.0,192.3 L1037.0,192.6 L1034.0,192.9 L1031.0,193.1 L1028.0,193.4 L1025.0,193.7 L1022.0,194.0 L1019.0,194.2 L1016.0,194.5 L1013.0,194.8 L1010.0,195.1 L1007.0,195.4 L1004.0,195.6 L1001.0,195.9 L998.0,196.2 L995.0,196.5 L992.0,196.8 L989.0,197.1 L986.0,197.3 L983.0,197.6 L980.0,197.9 L977.0,198.2 L974.0,198.5 L971.0,198.8 L968.0,199.1 L965.0,199.4 L962.0,199.7 L959.0,200.0 L956.0,200.3 L953.0,200.5 L950.0,200.8 L947.0,201.1 L944.0,201.4 L941.0,201.7 L938.0,202.0 L935.0,202.3 L932.0,202.6 L929.0,203.0 L926.0,203.3 L923.0,203.6 L920.0,203.9 L917.0,204.2 L914.0,204.5 L911.0,204.8 L908.0,205.1 L905.0,205.4 L902.0,205.7 L899.0,206.0 L896.0,206.4 L893.0,206.7 L890.0,207.0 L887.0,207.3 L884.0,207.6 L881.0,207.9 L878.0,208.3 L875.0,208.6 L872.0,208.9 L869.0,209.2 L866.0,209.6 L863.0,209.9 L860.0,210.2 L857.0,210.5 L854.0,210.9 L851.0,211.2 L848.0,211.5 L845.0,211.9 L842.0,212.2 L839.0,212.5 L836.0,212.9 L833.0,213.2 L830.0,213.6 L827.0,213.9 L824.0,214.2 L821.0,214.6 L818.0,214.9 L815.0,215.3 L812.0,215.6 L809.0,216.0 L806.0,216.3 L803.0,216.7 L800.0,217.0 L797.0,217.4 L794.0,217.7 L791.0,218.1 L788.0,218.4 L785.0,218.8 L782.0,219.2 L779.0,219.5 L776.0,219.9 L773.0,220.2 L770.0,220.6 L767.0,221.0 L764.0,221.3 L761.0,221.7 L758.0,222.1 L755.0,222.5 L752.0,222.8 L749.0,223.2 L746.0,223.6 L743.0,224.0 L740.0,224.3 L737.0,224.7 L734.0,225.1 L731.0,225.5 L728.0,225.9 L725.0,226.3 L722.0,226.6 L719.0,227.0 L716.0,227.4 L713.0,227.8 L710.0,228.2 L707.0,228.6 L704.0,229.0 L701.0,229.4 L698.0,229.8 L695.0,230.2 L692.0,230.6 L689.0,231.0 L686.0,231.4 L683.0,231.9 L680.0,232.3 L677.0,232.7 L674.0,233.1 L671.0,233.5 L668.0,233.9 L665.0,234.4 L662.0,234.8 L659.0,235.2 L656.0,235.6 L653.0,236.1 L650.0,236.5 L647.0,236.9 L644.0,237.4 L641.0,237.8 L638.0,238.2 L635.0,238.7 L632.0,239.1 L629.0,239.6 L626.0,240.0 L623.0,240.5 L620.0,240.9 L617.0,241.4 L614.0,241.8 L611.0,242.3 L608.0,242.7 L605.0,243.2 L602.0,243.7 L599.0,244.1 L596.0,244.6 L593.0,245.1 L590.0,245.6 L587.0,246.0 L584.0,246.5 L581.0,247.0 L578.0,247.5 L575.0,248.0 L572.0,248.5 L569.0,248.9 L566.0,249.4 L563.0,249.9 L560.0,250.4 L557.0,250.9 L554.0,251.4 L551.0,252.0 L548.0,252.5 L545.0,253.0 L542.0,253.5 L539.0,254.0 L536.0,254.5 L533.0,255.1 L530.0,255.6 L527.0,256.1 L524.0,256.6 L521.0,257.2 L518.0,257.7 L515.0,258.3 L512.0,258.8 L509.0,259.4 L506.0,259.9 L503.0,260.5 L500.0,261.0 L497.0,261.6 L494.0,262.1 L491.0,262.7 L488.0,263.3 L485.0,263.9 L482.0,264.4 L479.0,265.0 L476.0,265.6 L473.0,266.2 L470.0,266.8 L467.0,267.4 L464.0,268.0 L461.0,268.6 L458.0,269.2 L455.0,269.8 L452.0,270.4 L449.0,271.0 L446.0,271.7 L443.0,272.3 L440.0,272.9 L437.0,273.5 L434.0,274.2 L431.0,274.8 L428.0,275.5 L425.0,276.1 L422.0,276.8 L419.0,277.5 L416.0,278.1 L413.0,278.8 L410.0,279.5 L407.0,280.2 L404.0,280.8 L401.0,281.5 L398.0,282.2 L395.0,282.9 L392.0,283.6 L389.0,284.3 L386.0,285.1 L383.0,285.8 L380.0,286.5 L377.0,287.2 L374.0,288.0 L371.0,288.7 L368.0,289.5 L365.0,290.2 L362.0,291.0 L359.0,291.8 L356.0,292.5 L353.0,293.3 L350.0,294.1 L347.0,294.9 L344.0,295.7 L341.0,296.5 L338.0,297.3 L335.0,298.2 L332.0,299.0 L329.0,299.8 L326.0,300.7 L323.0,301.5 L320.0,302.4 L317.0,303.2 L314.0,304.1 L311.0,305.0 L308.0,305.9 L305.0,306.8 L302.0,307.7 L299.0,308.6 L296.0,309.6 L293.0,310.5 L290.0,311.4 L287.0,312.4 L284.0,313.3 L281.0,314.3 L278.0,315.3 L275.0,316.3 L272.0,317.3 L269.0,318.3 L266.0,319.3 L263.0,320.4 L260.0,321.4 L257.0,322.5 L254.0,323.6 L251.0,324.6 L248.0,325.7 L245.0,326.9 L242.0,328.0 L239.0,329.1 L236.0,330.3 L233.0,331.4 L230.0,332.6 L227.0,333.8 L224.0,335.0 L221.0,336.2 L218.0,337.5 L215.0,338.7 L212.0,340.0 L209.0,341.3 L206.0,342.6 L203.0,343.9 L200.0,345.3 L199.0,345.7 L198.0,346.2 L197.0,346.6 L196.0,347.1 L195.0,347.6 L194.0,348.0 L193.0,348.5 L192.0,349.0 L191.0,349.4 L190.0,349.9 L189.0,350.4 L188.0,350.8 L187.0,351.3 L186.0,351.8 L185.0,352.3 L184.0,352.8 L183.0,353.3 L182.0,353.8 L181.0,354.3 L180.0,354.8 L179.0,355.3 L178.0,355.8 L177.0,356.3 L176.0,356.8 L175.0,357.3 L174.0,357.8 L173.0,358.3 L172.0,358.8 L171.0,359.4 L170.0,359.9 L169.0,360.4 L168.0,360.9 L167.0,361.5 L166.0,362.0 L165.0,362.5 L164.0,363.1 L163.0,363.6 L162.0,364.2 L161.0,364.7 L160.0,365.3 L159.0,365.8 L158.0,366.4 L157.0,367.0 L156.0,367.5 L155.0,368.1 L154.0,368.7 L153.0,369.3 L152.0,369.9 L151.0,370.4 L150.0,371.0 L149.0,371.6 L148.0,372.2 L147.0,372.8 L146.0,373.4 L145.0,374.0 L144.0,374.6 L143.0,375.3 L142.0,375.9 L141.0,376.5 L140.0,377.1 L139.0,377.8 L138.0,378.4 L137.0,379.0 L136.0,379.7 L135.0,380.3 L134.0,381.0 L133.0,381.7 L132.0,382.3 L131.0,383.0 L130.0,383.7 L129.0,384.3 L128.0,385.0 L127.0,385.7 L126.0,386.4 L125.0,387.1 L124.0,387.8 L123.0,388.5 L122.0,389.2 L121.0,389.9 L120.0,390.7 L119.0,391.4 L118.0,392.1 L117.0,392.9 L116.0,393.6 L115.0,394.4 L114.0,395.1 L113.0,395.9 L112.0,396.7 L111.0,397.4 L110.0,398.2 L109.0,399.0 L108.0,399.8 L107.0,400.6 L106.0,401.4 L105.0,402.3 L104.0,403.1 L103.0,403.9 L102.0,404.7 L101.0,405.6 L100.0,406.4 L99.0,407.3 L98.0,408.2 L97.0,409.1 L96.0,409.9 L95.0,410.8 L94.0,411.7 L93.0,412.7 L92.0,413.6 L91.0,414.5 L90.0,415.4 L89.0,416.4 L88.0,417.3 L87.0,418.3 L86.0,419.3 L85.0,420.3 L84.0,421.3 L83.0,422.3 L82.0,423.3 L81.0,424.3 L80.0,425.4 L79.0,426.4 L78.0,427.5 L77.0,428.6 L76.0,429.6 L75.0,430.7 L74.0,431.9 L73.0,433.0 L72.0,434.1 L71.0,435.3 L70.0,436.5 L69.0,437.6 L68.0,438.8 L67.0,440.0 L66.0,441.3 L65.0,442.5 L64.0,443.8 L63.0,445.1 L62.0,446.4 L61.0,447.7 L60.0,449.0 L59.5,449.7 L59.0,450.3 L58.5,451.0 L58.0,451.7 L57.5,452.4 L57.0,453.1 L56.5,453.8 L56.0,454.5 L55.5,455.2 L55.0,456.0 L54.5,456.7 L54.0,457.4 L53.5,458.1 L53.0,458.9 L52.5,459.6 L52.0,460.4 L51.5,461.1 L51.0,461.9 L50.5,462.7 L50.0,463.5 L49.5,464.2 L49.0,465.0 L48.5,465.8 L48.0,466.6 L47.5,467.4 L47.0,468.3 L46.5,469.1 L46.0,469.9 L45.5,470.7 L45.0,471.6 L44.5,472.4 L44.0,473.3 L43.5,474.2 L43.0,475.1 L42.5,475.9 L42.0,476.8 L41.5,477.7 L41.0,478.7 L40.5,479.6 L40.0,480.5 L39.5,481.4 L39.0,482.4 L38.5,483.3 L38.0,484.3 L37.5,485.3 L37.0,486.3 L36.5,487.3 L36.0,488.3 L35.5,489.3 L35.0,490.3 L34.5,491.4 L34.0,492.4 L33.5,493.5 L33.0,494.6 L32.5,495.6 L32.0,496.7 L31.5,497.9 L31.0,499.0 L30.5,500.1 L30.0,501.3 L29.5,502.4 L29.0,503.6 L28.5,504.8 L28.0,506.0 L27.5,507.3 L27.0,508.5 L26.5,509.8 L26.0,511.0 L25.5,512.3 L25.0,513.7 L24.5,515.0 L24.0,516.3 L23.5,517.7 L23.0,519.1 L22.5,520.5 L22.0,521.9 L21.5,523.4 L21.0,524.9 L20.5,526.4 L20.0,527.9 L19.5,529.4 L19.0,531.0Z" fill="#55979E"/><path d="M19.0,529.8 L19.5,528.2 L20.0,526.7 L20.5,525.2 L21.0,523.7 L21.5,522.2 L22.0,520.7 L22.5,519.3 L23.0,517.9 L23.5,516.5 L24.0,515.1 L24.5,513.8 L25.0,512.5 L25.5,511.1 L26.0,509.8 L26.5,508.6 L27.0,507.3 L27.5,506.1 L28.0,504.8 L28.5,503.6 L29.0,502.4 L29.5,501.2 L30.0,500.1 L30.5,498.9 L31.0,497.8 L31.5,496.7 L32.0,495.5 L32.5,494.4 L33.0,493.4 L33.5,492.3 L34.0,491.2 L34.5,490.2 L35.0,489.1 L35.5,488.1 L36.0,487.1 L36.5,486.1 L37.0,485.1 L37.5,484.1 L38.0,483.1 L38.5,482.1 L39.0,481.2 L39.5,480.2 L40.0,479.3 L40.5,478.4 L41.0,477.5 L41.5,476.5 L42.0,475.6 L42.5,474.7 L43.0,473.9 L43.5,473.0 L44.0,472.1 L44.5,471.2 L45.0,470.4 L45.5,469.5 L46.0,468.7 L46.5,467.9 L47.0,467.1 L47.5,466.2 L48.0,465.4 L48.5,464.6 L49.0,463.8 L49.5,463.0 L50.0,462.3 L50.5,461.5 L51.0,460.7 L51.5,459.9 L52.0,459.2 L52.5,458.4 L53.0,457.7 L53.5,456.9 L54.0,456.2 L54.5,455.5 L55.0,454.8 L55.5,454.0 L56.0,453.3 L56.5,452.6 L57.0,451.9 L57.5,451.2 L58.0,450.5 L58.5,449.8 L59.0,449.1 L59.5,448.5 L60.0,447.8 L61.0,446.5 L62.0,445.2 L63.0,443.9 L64.0,442.6 L65.0,441.3 L66.0,440.1 L67.0,438.8 L68.0,437.6 L69.0,436.4 L70.0,435.3 L71.0,434.1 L72.0,432.9 L73.0,431.8 L74.0,430.7 L75.0,429.5 L76.0,428.4 L77.0,427.4 L78.0,426.3 L79.0,425.2 L80.0,424.2 L81.0,423.1 L82.0,422.1 L83.0,421.1 L84.0,420.1 L85.0,419.1 L86.0,418.1 L87.0,417.1 L88.0,416.1 L89.0,415.2 L90.0,414.2 L91.0,413.3 L92.0,412.4 L93.0,411.5 L94.0,410.5 L95.0,409.6 L96.0,408.7 L97.0,407.9 L98.0,407.0 L99.0,406.1 L100.0,405.2 L101.0,404.4 L102.0,403.5 L103.0,402.7 L104.0,401.9 L105.0,401.1 L106.0,400.2 L107.0,399.4 L108.0,398.6 L109.0,397.8 L110.0,397.0 L111.0,396.2 L112.0,395.5 L113.0,394.7 L114.0,393.9 L115.0,393.2 L116.0,392.4 L117.0,391.7 L118.0,390.9 L119.0,390.2 L120.0,389.5 L121.0,388.7 L122.0,388.0 L123.0,387.3 L124.0,386.6 L125.0,385.9 L126.0,385.2 L127.0,384.5 L128.0,383.8 L129.0,383.1 L130.0,382.5 L131.0,381.8 L132.0,381.1 L133.0,380.5 L134.0,379.8 L135.0,379.1 L136.0,378.5 L137.0,377.8 L138.0,377.2 L139.0,376.6 L140.0,375.9 L141.0,375.3 L142.0,374.7 L143.0,374.1 L144.0,373.4 L145.0,372.8 L146.0,372.2 L147.0,371.6 L148.0,371.0 L149.0,370.4 L150.0,369.8 L151.0,369.2 L152.0,368.7 L153.0,368.1 L154.0,367.5 L155.0,366.9 L156.0,366.3 L157.0,365.8 L158.0,365.2 L159.0,364.6 L160.0,364.1 L161.0,363.5 L162.0,363.0 L163.0,362.4 L164.0,361.9 L165.0,361.3 L166.0,360.8 L167.0,360.3 L168.0,359.7 L169.0,359.2 L170.0,358.7 L171.0,358.2 L172.0,357.6 L173.0,357.1 L174.0,356.6 L175.0,356.1 L176.0,355.6 L177.0,355.1 L178.0,354.6 L179.0,354.1 L180.0,353.6 L181.0,353.1 L182.0,352.6 L183.0,352.1 L184.0,351.6 L185.0,351.1 L186.0,350.6 L187.0,350.1 L188.0,349.6 L189.0,349.2 L190.0,348.7 L191.0,348.2 L192.0,347.8 L193.0,347.3 L194.0,346.8 L195.0,346.4 L196.0,345.9 L197.0,345.4 L198.0,345.0 L199.0,344.5 L200.0,344.1 L203.0,342.7 L206.0,341.4 L209.0,340.1 L212.0,338.8 L215.0,337.5 L218.0,336.3 L221.0,335.0 L224.0,333.8 L227.0,332.6 L230.0,331.4 L233.0,330.2 L236.0,329.1 L239.0,327.9 L242.0,326.8 L245.0,325.7 L248.0,324.5 L251.0,323.4 L254.0,322.4 L257.0,321.3 L260.0,320.2 L263.0,319.2 L266.0,318.1 L269.0,317.1 L272.0,316.1 L275.0,315.1 L278.0,314.1 L281.0,313.1 L284.0,312.1 L287.0,311.2 L290.0,310.2 L293.0,309.3 L296.0,308.4 L299.0,307.4 L302.0,306.5 L305.0,305.6 L308.0,304.7 L311.0,303.8 L314.0,302.9 L317.0,302.0 L320.0,301.2 L323.0,300.3 L326.0,299.5 L329.0,298.6 L332.0,297.8 L335.0,297.0 L338.0,296.1 L341.0,295.3 L344.0,294.5 L347.0,293.7 L350.0,292.9 L353.0,292.1 L356.0,291.3 L359.0,290.6 L362.0,289.8 L365.0,289.0 L368.0,288.3 L371.0,287.5 L374.0,286.8 L377.0,286.0 L380.0,285.3 L383.0,284.6 L386.0,283.9 L389.0,283.1 L392.0,282.4 L395.0,281.7 L398.0,281.0 L401.0,280.3 L404.0,279.6 L407.0,279.0 L410.0,278.3 L413.0,277.6 L416.0,276.9 L419.0,276.3 L422.0,275.6 L425.0,274.9 L428.0,274.3 L431.0,273.6 L434.0,273.0 L437.0,272.3 L440.0,271.7 L443.0,271.1 L446.0,270.5 L449.0,269.8 L452.0,269.2 L455.0,268.6 L458.0,268.0 L461.0,267.4 L464.0,266.8 L467.0,266.2 L470.0,265.6 L473.0,265.0 L476.0,264.4 L479.0,263.8 L482.0,263.2 L485.0,262.7 L488.0,262.1 L491.0,261.5 L494.0,260.9 L497.0,260.4 L500.0,259.8 L503.0,259.3 L506.0,258.7 L509.0,258.2 L512.0,257.6 L515.0,257.1 L518.0,256.5 L521.0,256.0 L524.0,255.4 L527.0,254.9 L530.0,254.4 L533.0,253.9 L536.0,253.3 L539.0,252.8 L542.0,252.3 L545.0,251.8 L548.0,251.3 L551.0,250.8 L554.0,250.2 L557.0,249.7 L560.0,249.2 L563.0,248.7 L566.0,248.2 L569.0,247.7 L572.0,247.3 L575.0,246.8 L578.0,246.3 L581.0,245.8 L584.0,245.3 L587.0,244.8 L590.0,244.4 L593.0,243.9 L596.0,243.4 L599.0,242.9 L602.0,242.5 L605.0,242.0 L608.0,241.5 L611.0,241.1 L614.0,240.6 L617.0,240.2 L620.0,239.7 L623.0,239.3 L626.0,238.8 L629.0,238.4 L632.0,237.9 L635.0,237.5 L638.0,237.0 L641.0,236.6 L644.0,236.2 L647.0,235.7 L650.0,235.3 L653.0,234.9 L656.0,234.4 L659.0,234.0 L662.0,233.6 L665.0,233.2 L668.0,232.7 L671.0,232.3 L674.0,231.9 L677.0,231.5 L680.0,231.1 L683.0,230.7 L686.0,230.2 L689.0,229.8 L692.0,229.4 L695.0,229.0 L698.0,228.6 L701.0,228.2 L704.0,227.8 L707.0,227.4 L710.0,227.0 L713.0,226.6 L716.0,226.2 L719.0,225.8 L722.0,225.4 L725.0,225.1 L728.0,224.7 L731.0,224.3 L734.0,223.9 L737.0,223.5 L740.0,223.1 L743.0,222.8 L746.0,222.4 L749.0,222.0 L752.0,221.6 L755.0,221.3 L758.0,220.9 L761.0,220.5 L764.0,220.1 L767.0,219.8 L770.0,219.4 L773.0,219.0 L776.0,218.7 L779.0,218.3 L782.0,218.0 L785.0,217.6 L788.0,217.2 L791.0,216.9 L794.0,216.5 L797.0,216.2 L800.0,215.8 L803.0,215.5 L806.0,215.1 L809.0,214.8 L812.0,214.4 L815.0,214.1 L818.0,213.7 L821.0,213.4 L824.0,213.0 L827.0,212.7 L830.0,212.4 L833.0,212.0 L836.0,211.7 L839.0,211.3 L842.0,211.0 L845.0,210.7 L848.0,210.3 L851.0,210.0 L854.0,209.7 L857.0,209.3 L860.0,209.0 L863.0,208.7 L866.0,208.4 L869.0,208.0 L872.0,207.7 L875.0,207.4 L878.0,207.1 L881.0,206.7 L884.0,206.4 L887.0,206.1 L890.0,205.8 L893.0,205.5 L896.0,205.2 L899.0,204.8 L902.0,204.5 L905.0,204.2 L908.0,203.9 L911.0,203.6 L914.0,203.3 L917.0,203.0 L920.0,202.7 L923.0,202.4 L926.0,202.1 L929.0,201.8 L932.0,201.4 L935.0,201.1 L938.0,200.8 L941.0,200.5 L944.0,200.2 L947.0,199.9 L950.0,199.6 L953.0,199.3 L956.0,199.1 L959.0,198.8 L962.0,198.5 L965.0,198.2 L968.0,197.9 L971.0,197.6 L974.0,197.3 L977.0,197.0 L980.0,196.7 L983.0,196.4 L986.0,196.1 L989.0,195.9 L992.0,195.6 L995.0,195.3 L998.0,195.0 L1001.0,194.7 L1004.0,194.4 L1007.0,194.2 L1010.0,193.9 L1013.0,193.6 L1016.0,193.3 L1019.0,193.0 L1022.0,192.8 L1025.0,192.5 L1028.0,192.2 L1031.0,191.9 L1034.0,191.7 L1037.0,191.4 L1040.0,191.1 L1043.0,190.8 L1046.0,190.6 L1049.0,190.3 L1052.0,190.0 L1055.0,189.8 L1058.0,189.5 L1061.0,189.2 L1064.0,189.0 L1067.0,188.7 L1070.0,188.4 L1073.0,188.2 L1076.0,187.9 L1079.0,187.6 L1082.0,187.4 L1085.0,187.1 L1088.0,186.9 L1091.0,186.6 L1094.0,186.3 L1097.0,186.1 L1100.0,185.8 L1103.0,185.6 L1106.0,185.3 L1109.0,185.1 L1112.0,184.8 L1115.0,184.6 L1118.0,184.3 L1121.0,184.0 L1124.0,183.8 L1127.0,183.5 L1130.0,183.3 L1133.0,183.0 L1136.0,182.8 L1139.0,182.5 L1142.0,182.3 L1145.0,182.0 L1148.0,181.8 L1151.0,181.6 L1154.0,181.3 L1157.0,181.1 L1160.0,180.8 L1163.0,180.6 L1166.0,180.3 L1169.0,180.1 L1172.0,179.8 L1175.0,179.6 L1178.0,179.4 L1181.0,179.1 L1184.0,178.9 L1187.0,178.6 L1190.0,178.4 L1193.0,178.2 L1196.0,177.9 L1199.0,177.7 L1202.0,177.5 L1205.0,177.2 L1208.0,177.0 L1211.0,176.8 L1214.0,176.5 L1217.0,176.3 L1220.0,176.1 L1222.0,175.9 L1222.0,187.3 L1220.0,187.5 L1217.0,187.7 L1214.0,188.0 L1211.0,188.2 L1208.0,188.4 L1205.0,188.7 L1202.0,188.9 L1199.0,189.2 L1196.0,189.4 L1193.0,189.7 L1190.0,189.9 L1187.0,190.2 L1184.0,190.4 L1181.0,190.7 L1178.0,190.9 L1175.0,191.2 L1172.0,191.4 L1169.0,191.7 L1166.0,191.9 L1163.0,192.2 L1160.0,192.4 L1157.0,192.7 L1154.0,193.0 L1151.0,193.2 L1148.0,193.5 L1145.0,193.7 L1142.0,194.0 L1139.0,194.2 L1136.0,194.5 L1133.0,194.8 L1130.0,195.0 L1127.0,195.3 L1124.0,195.5 L1121.0,195.8 L1118.0,196.1 L1115.0,196.3 L1112.0,196.6 L1109.0,196.9 L1106.0,197.1 L1103.0,197.4 L1100.0,197.7 L1097.0,197.9 L1094.0,198.2 L1091.0,198.5 L1088.0,198.8 L1085.0,199.0 L1082.0,199.3 L1079.0,199.6 L1076.0,199.8 L1073.0,200.1 L1070.0,200.4 L1067.0,200.7 L1064.0,201.0 L1061.0,201.2 L1058.0,201.5 L1055.0,201.8 L1052.0,202.1 L1049.0,202.3 L1046.0,202.6 L1043.0,202.9 L1040.0,203.2 L1037.0,203.5 L1034.0,203.8 L1031.0,204.1 L1028.0,204.3 L1025.0,204.6 L1022.0,204.9 L1019.0,205.2 L1016.0,205.5 L1013.0,205.8 L1010.0,206.1 L1007.0,206.4 L1004.0,206.7 L1001.0,207.0 L998.0,207.3 L995.0,207.5 L992.0,207.8 L989.0,208.1 L986.0,208.4 L983.0,208.7 L980.0,209.0 L977.0,209.3 L974.0,209.6 L971.0,209.9 L968.0,210.3 L965.0,210.6 L962.0,210.9 L959.0,211.2 L956.0,211.5 L953.0,211.8 L950.0,212.1 L947.0,212.4 L944.0,212.7 L941.0,213.0 L938.0,213.3 L935.0,213.7 L932.0,214.0 L929.0,214.3 L926.0,214.6 L923.0,214.9 L920.0,215.3 L917.0,215.6 L914.0,215.9 L911.0,216.2 L908.0,216.5 L905.0,216.9 L902.0,217.2 L899.0,217.5 L896.0,217.9 L893.0,218.2 L890.0,218.5 L887.0,218.8 L884.0,219.2 L881.0,219.5 L878.0,219.8 L875.0,220.2 L872.0,220.5 L869.0,220.9 L866.0,221.2 L863.0,221.5 L860.0,221.9 L857.0,222.2 L854.0,222.6 L851.0,222.9 L848.0,223.3 L845.0,223.6 L842.0,224.0 L839.0,224.3 L836.0,224.7 L833.0,225.0 L830.0,225.4 L827.0,225.7 L824.0,226.1 L821.0,226.4 L818.0,226.8 L815.0,227.2 L812.0,227.5 L809.0,227.9 L806.0,228.2 L803.0,228.6 L800.0,229.0 L797.0,229.3 L794.0,229.7 L791.0,230.1 L788.0,230.5 L785.0,230.8 L782.0,231.2 L779.0,231.6 L776.0,232.0 L773.0,232.3 L770.0,232.7 L767.0,233.1 L764.0,233.5 L761.0,233.9 L758.0,234.3 L755.0,234.7 L752.0,235.0 L749.0,235.4 L746.0,235.8 L743.0,236.2 L740.0,236.6 L737.0,237.0 L734.0,237.4 L731.0,237.8 L728.0,238.2 L725.0,238.6 L722.0,239.0 L719.0,239.4 L716.0,239.9 L713.0,240.3 L710.0,240.7 L707.0,241.1 L704.0,241.5 L701.0,241.9 L698.0,242.3 L695.0,242.8 L692.0,243.2 L689.0,243.6 L686.0,244.0 L683.0,244.5 L680.0,244.9 L677.0,245.3 L674.0,245.8 L671.0,246.2 L668.0,246.6 L665.0,247.1 L662.0,247.5 L659.0,248.0 L656.0,248.4 L653.0,248.9 L650.0,249.3 L647.0,249.8 L644.0,250.2 L641.0,250.7 L638.0,251.1 L635.0,251.6 L632.0,252.1 L629.0,252.5 L626.0,253.0 L623.0,253.5 L620.0,253.9 L617.0,254.4 L614.0,254.9 L611.0,255.4 L608.0,255.8 L605.0,256.3 L602.0,256.8 L599.0,257.3 L596.0,257.8 L593.0,258.3 L590.0,258.8 L587.0,259.3 L584.0,259.8 L581.0,260.3 L578.0,260.8 L575.0,261.3 L572.0,261.8 L569.0,262.3 L566.0,262.8 L563.0,263.4 L560.0,263.9 L557.0,264.4 L554.0,264.9 L551.0,265.5 L548.0,266.0 L545.0,266.5 L542.0,267.1 L539.0,267.6 L536.0,268.1 L533.0,268.7 L530.0,269.2 L527.0,269.8 L524.0,270.4 L521.0,270.9 L518.0,271.5 L515.0,272.0 L512.0,272.6 L509.0,273.2 L506.0,273.8 L503.0,274.3 L500.0,274.9 L497.0,275.5 L494.0,276.1 L491.0,276.7 L488.0,277.3 L485.0,277.9 L482.0,278.5 L479.0,279.1 L476.0,279.7 L473.0,280.3 L470.0,280.9 L467.0,281.6 L464.0,282.2 L461.0,282.8 L458.0,283.4 L455.0,284.1 L452.0,284.7 L449.0,285.4 L446.0,286.0 L443.0,286.7 L440.0,287.3 L437.0,288.0 L434.0,288.7 L431.0,289.3 L428.0,290.0 L425.0,290.7 L422.0,291.4 L419.0,292.1 L416.0,292.8 L413.0,293.5 L410.0,294.2 L407.0,294.9 L404.0,295.6 L401.0,296.3 L398.0,297.1 L395.0,297.8 L392.0,298.5 L389.0,299.3 L386.0,300.0 L383.0,300.8 L380.0,301.5 L377.0,302.3 L374.0,303.1 L371.0,303.8 L368.0,304.6 L365.0,305.4 L362.0,306.2 L359.0,307.0 L356.0,307.8 L353.0,308.6 L350.0,309.5 L347.0,310.3 L344.0,311.1 L341.0,312.0 L338.0,312.8 L335.0,313.7 L332.0,314.6 L329.0,315.4 L326.0,316.3 L323.0,317.2 L320.0,318.1 L317.0,319.0 L314.0,319.9 L311.0,320.8 L308.0,321.8 L305.0,322.7 L302.0,323.7 L299.0,324.6 L296.0,325.6 L293.0,326.6 L290.0,327.5 L287.0,328.5 L284.0,329.6 L281.0,330.6 L278.0,331.6 L275.0,332.6 L272.0,333.7 L269.0,334.7 L266.0,335.8 L263.0,336.9 L260.0,338.0 L257.0,339.1 L254.0,340.2 L251.0,341.3 L248.0,342.5 L245.0,343.7 L242.0,344.8 L239.0,346.0 L236.0,347.2 L233.0,348.4 L230.0,349.7 L227.0,350.9 L224.0,352.2 L221.0,353.4 L218.0,354.7 L215.0,356.0 L212.0,357.4 L209.0,358.7 L206.0,360.1 L203.0,361.5 L200.0,362.9 L199.0,363.3 L198.0,363.8 L197.0,364.3 L196.0,364.8 L195.0,365.3 L194.0,365.7 L193.0,366.2 L192.0,366.7 L191.0,367.2 L190.0,367.7 L189.0,368.2 L188.0,368.7 L187.0,369.2 L186.0,369.7 L185.0,370.2 L184.0,370.7 L183.0,371.2 L182.0,371.7 L181.0,372.3 L180.0,372.8 L179.0,373.3 L178.0,373.8 L177.0,374.4 L176.0,374.9 L175.0,375.4 L174.0,376.0 L173.0,376.5 L172.0,377.0 L171.0,377.6 L170.0,378.1 L169.0,378.7 L168.0,379.2 L167.0,379.8 L166.0,380.3 L165.0,380.9 L164.0,381.5 L163.0,382.0 L162.0,382.6 L161.0,383.2 L160.0,383.8 L159.0,384.4 L158.0,384.9 L157.0,385.5 L156.0,386.1 L155.0,386.7 L154.0,387.3 L153.0,387.9 L152.0,388.5 L151.0,389.2 L150.0,389.8 L149.0,390.4 L148.0,391.0 L147.0,391.6 L146.0,392.3 L145.0,392.9 L144.0,393.5 L143.0,394.2 L142.0,394.8 L141.0,395.5 L140.0,396.1 L139.0,396.8 L138.0,397.5 L137.0,398.1 L136.0,398.8 L135.0,399.5 L134.0,400.2 L133.0,400.9 L132.0,401.6 L131.0,402.3 L130.0,403.0 L129.0,403.7 L128.0,404.4 L127.0,405.1 L126.0,405.8 L125.0,406.5 L124.0,407.3 L123.0,408.0 L122.0,408.8 L121.0,409.5 L120.0,410.3 L119.0,411.0 L118.0,411.8 L117.0,412.6 L116.0,413.4 L115.0,414.1 L114.0,414.9 L113.0,415.7 L112.0,416.5 L111.0,417.4 L110.0,418.2 L109.0,419.0 L108.0,419.8 L107.0,420.7 L106.0,421.5 L105.0,422.4 L104.0,423.2 L103.0,424.1 L102.0,425.0 L101.0,425.9 L100.0,426.7 L99.0,427.6 L98.0,428.6 L97.0,429.5 L96.0,430.4 L95.0,431.3 L94.0,432.3 L93.0,433.2 L92.0,434.2 L91.0,435.2 L90.0,436.1 L89.0,437.1 L88.0,438.1 L87.0,439.1 L86.0,440.1 L85.0,441.2 L84.0,442.2 L83.0,443.3 L82.0,444.3 L81.0,445.4 L80.0,446.5 L79.0,447.6 L78.0,448.7 L77.0,449.8 L76.0,451.0 L75.0,452.1 L74.0,453.3 L73.0,454.5 L72.0,455.6 L71.0,456.9 L70.0,458.1 L69.0,459.3 L68.0,460.6 L67.0,461.8 L66.0,463.1 L65.0,464.4 L64.0,465.7 L63.0,467.1 L62.0,468.4 L61.0,469.8 L60.0,471.2 L59.5,471.9 L59.0,472.6 L58.5,473.3 L58.0,474.0 L57.5,474.7 L57.0,475.5 L56.5,476.2 L56.0,476.9 L55.5,477.7 L55.0,478.4 L54.5,479.2 L54.0,479.9 L53.5,480.7 L53.0,481.5 L52.5,482.3 L52.0,483.1 L51.5,483.8 L51.0,484.6 L50.5,485.4 L50.0,486.3 L49.5,487.1 L49.0,487.9 L48.5,488.7 L48.0,489.6 L47.5,490.4 L47.0,491.3 L46.5,492.1 L46.0,493.0 L45.5,493.9 L45.0,494.8 L44.5,495.7 L44.0,496.6 L43.5,497.5 L43.0,498.4 L42.5,499.3 L42.0,500.2 L41.5,501.2 L41.0,502.1 L40.5,503.1 L40.0,504.1 L39.5,505.0 L39.0,506.0 L38.5,507.0 L38.0,508.0 L37.5,509.1 L37.0,510.1 L36.5,511.1 L36.0,512.2 L35.5,513.2 L35.0,514.3 L34.5,515.4 L34.0,516.5 L33.5,517.6 L33.0,518.7 L32.5,519.9 L32.0,521.0 L31.5,522.2 L31.0,523.3 L30.5,524.5 L30.0,525.7 L29.5,527.0 L29.0,528.2 L28.5,529.4 L28.0,530.7 L27.5,532.0 L27.0,533.3 L26.5,534.6 L26.0,535.9 L25.5,537.3 L25.0,538.7 L24.5,540.1 L24.0,541.5 L23.5,542.9 L23.0,544.3 L22.5,545.8 L22.0,547.3 L21.5,548.8 L21.0,550.4 L20.5,551.9 L20.0,553.5 L19.5,555.1 L19.0,556.8Z" fill="#4771C6"/>
<path d="M19.6,483.4 L19.6,472.8 L20.6,462.6 L21.3,453.5 L21.9,444.3 L22.6,453.5 L23.1,447.4 L24.1,454.5 L25.1,449.4 L26.4,455.0 L27.4,460.1 L28.2,452.5 L29.7,450.4 L31.2,452.5 L32.8,455.0 L34.3,456.0 L35.8,458.0 L37.3,459.1 L38.8,453.5 L39.9,449.9 L41.4,453.5 L43.4,456.0 L45.4,456.0 L47.5,452.5 L50.0,450.4 L51.0,445.4 L52.0,442.3 L53.6,436.2 L54.6,432.2 L55.1,418.4 L56.1,413.3 L57.2,415.5 L58.7,412.6 L60.1,409.7 L61.3,395.2 L62.3,378.6 L63.8,388.0 L64.5,396.7 L65.9,380.0 L67.4,376.4 L68.8,375.7 L69.6,366.2 L70.3,357.5 L71.0,355.4 L72.5,350.3 L73.9,341.6 L74.9,347.4 L76.1,351.7 L77.5,348.8 L79.0,353.2 L81.2,351.0 L83.3,355.4 L85.5,366.2 L87.7,363.3 L90.6,367.7 L92.0,369.9 L93.5,359.0 L96.4,356.8 L98.6,353.2 L100.0,341.9 L101.5,345.4 L102.8,352.0 L104.1,344.4 L105.6,342.9 L107.6,342.4 L109.1,338.3 L110.1,328.2 L111.0,350.5 L112.2,344.4 L114.2,344.4 L116.2,349.5 L118.3,355.6 L119.8,352.5 L121.8,350.5 L123.8,341.9 L125.4,346.4 L126.9,349.5 L128.4,363.7 L129.4,350.5 L131.4,350.0 L133.5,353.0 L135.5,353.0 L138.6,351.5 L140.6,350.0 L143.6,349.5 L145.7,347.5 L146.9,341.9 L148.2,345.4 L150.7,345.4 L152.8,345.9 L154.8,350.0 L157.3,349.0 L159.9,351.0 L161.9,354.6 L163.9,353.0 L165.0,353.1 L168.0,356.2 L171.1,358.7 L173.1,361.7 L174.6,366.8 L175.7,372.9 L176.7,364.8 L178.2,365.3 L180.2,367.3 L182.8,369.9 L184.8,369.9 L185.8,365.3 L187.3,353.6 L188.8,356.7 L190.9,358.2 L192.9,356.2 L195.4,354.6 L198.0,353.1 L200.0,352.1 L202.0,349.1 L204.1,349.6 L206.1,347.5 L207.6,343.5 L208.6,337.4 L209.6,330.8 L210.7,330.3 L211.5,336.4 L212.5,328.3 L213.2,316.1 L213.7,307.8 L214.6,296.5 L216.3,299.1 L218.0,289.6 L219.8,290.4 L221.5,296.5 L223.3,298.3 L225.0,293.0 L227.6,293.9 L230.2,289.6 L231.1,278.3 L232.8,267.0 L234.6,268.7 L237.2,269.6 L238.0,259.1 L238.9,252.2 L239.8,241.7 L241.5,246.1 L242.4,233.9 L244.1,230.4 L245.9,224.3 L247.6,210.4 L249.3,210.4 L251.1,217.4 L252.8,217.4 L254.6,223.5 L256.3,222.6 L258.9,231.3 L260.7,246.1 L262.0,230.4 L263.4,235.5 L265.6,237.0 L267.1,231.9 L268.5,225.4 L270.0,219.6 L272.1,218.8 L274.3,220.3 L276.5,213.8 L278.2,209.4 L280.1,215.9 L282.3,218.1 L283.4,231.2 L284.5,221.0 L285.9,225.4 L288.1,220.3 L291.0,218.8 L293.2,218.1 L295.3,215.2 L297.5,219.6 L300.4,221.0 L303.3,220.3 L305.5,218.1 L308.4,213.8 L310.6,208.0 L311.3,201.4 L313.4,202.2 L315.6,205.1 L317.1,200.7 L317.8,187.7 L319.2,184.1 L320.7,180.4 L322.1,186.2 L323.6,182.6 L325.8,183.3 L326.5,173.2 L327.9,165.9 L329.4,159.4 L330.8,161.6 L331.6,167.4 L333.0,169.6 L334.5,165.9 L335.9,163.8 L337.4,171.7 L338.1,184.8 L339.5,176.8 L340.0,178.1 L341.4,175.9 L342.9,172.3 L344.3,174.5 L345.8,178.8 L348.0,176.7 L349.4,178.1 L350.9,184.6 L352.3,188.3 L353.8,194.8 L355.9,196.2 L357.4,202.0 L358.8,208.6 L360.3,206.4 L361.7,210.7 L363.2,203.5 L364.6,197.0 L366.1,194.1 L368.3,186.8 L370.4,186.1 L371.9,181.7 L373.3,179.6 L374.8,183.9 L377.0,185.4 L379.1,189.0 L381.3,196.2 L383.5,191.9 L385.7,191.9 L387.8,199.1 L390.0,196.2 L392.2,202.0 L393.6,204.9 L395.8,202.0 L398.0,202.8 L400.1,199.9 L402.3,201.3 L404.5,202.0 L406.7,206.4 L408.1,209.3 L409.6,215.1 L411.0,220.9 L413.2,221.6 L415.0,222.6 L417.3,220.9 L419.1,222.0 L420.2,231.3 L421.4,238.3 L422.5,238.3 L423.7,233.6 L424.9,232.5 L426.0,227.8 L427.8,231.3 L429.5,230.7 L431.8,231.3 L433.6,237.7 L435.3,234.8 L437.6,235.4 L439.9,235.9 L442.8,233.0 L445.1,234.2 L446.9,240.6 L448.6,248.7 L449.8,258.0 L451.5,256.8 L453.3,259.1 L455.0,267.2 L457.9,270.7 L459.6,261.4 L461.4,252.2 L463.1,251.0 L464.9,246.4 L466.6,246.4 L468.3,253.3 L470.1,255.7 L472.4,258.0 L474.7,260.3 L476.4,261.4 L478.2,262.0 L479.3,256.8 L481.1,255.7 L482.8,251.0 L484.6,245.8 L486.3,252.2 L488.6,253.3 L490.0,251.7 L492.0,250.7 L494.1,250.7 L496.1,251.7 L498.1,249.7 L499.6,244.6 L501.7,240.6 L503.2,242.6 L505.2,242.1 L506.7,242.6 L508.3,246.2 L510.3,244.6 L512.3,242.6 L513.8,240.6 L514.9,232.5 L515.9,225.9 L517.4,227.4 L519.4,224.9 L521.4,224.9 L523.0,227.4 L525.0,229.4 L526.5,225.9 L528.6,223.8 L530.1,219.8 L531.6,215.7 L533.1,219.8 L534.6,220.8 L536.7,218.8 L537.7,222.8 L539.2,227.4 L539.7,235.5 L540.7,231.4 L542.8,232.5 L544.8,233.0 L546.8,230.9 L548.8,233.5 L550.9,236.5 L552.4,238.0 L554.4,239.1 L555.9,241.6 L558.0,241.6 L560.0,240.6 L562.0,238.6 L563.6,233.0 L565.1,233.5 L565.7,242.5 L567.2,241.8 L568.6,240.7 L570.4,242.2 L571.9,237.8 L573.3,239.6 L575.1,241.1 L577.0,244.0 L578.4,240.4 L579.9,238.6 L581.7,238.6 L583.8,238.6 L586.0,239.3 L587.5,241.8 L588.6,245.4 L589.3,249.8 L590.7,246.9 L592.5,247.6 L594.7,248.7 L596.9,250.5 L598.3,255.6 L600.5,254.1 L602.7,253.4 L604.5,254.1 L605.6,250.5 L607.8,249.1 L608.8,244.7 L610.3,242.2 L612.1,244.0 L614.3,240.4 L616.4,236.7 L617.9,232.4 L619.3,230.9 L620.1,223.3 L621.2,222.2 L623.0,223.3 L624.4,224.4 L625.1,230.9 L626.6,231.7 L628.8,228.8 L629.5,236.0 L630.6,236.7 L630.9,259.9 L632.0,254.1 L633.5,252.7 L634.6,255.6 L636.0,252.0 L637.5,254.5 L638.9,250.5 L640.0,242.9 L642.0,244.9 L644.1,240.9 L645.6,241.9 L647.1,237.8 L649.1,233.3 L651.7,234.3 L653.7,238.3 L656.2,233.8 L658.8,235.3 L660.8,228.7 L662.3,227.2 L664.9,228.7 L667.4,229.2 L669.9,228.7 L672.0,231.2 L674.5,229.2 L676.5,228.2 L678.6,229.2 L680.6,229.2 L682.1,220.6 L683.6,215.5 L684.6,209.9 L686.7,208.4 L688.7,208.9 L690.2,204.3 L692.2,205.9 L694.3,208.4 L695.3,207.4 L696.8,200.8 L697.8,206.4 L698.8,215.0 L700.4,210.4 L702.4,209.4 L703.9,212.5 L705.4,216.0 L707.0,212.5 L709.5,214.0 L712.0,210.9 L714.1,210.4 L715.0,207.3 L717.3,205.8 L719.6,207.3 L722.6,202.8 L726.4,200.5 L728.7,194.4 L731.0,192.1 L732.5,194.4 L734.8,192.1 L737.1,189.8 L739.3,191.4 L741.6,184.5 L743.1,181.5 L743.9,170.8 L745.4,162.5 L746.9,167.8 L748.5,159.4 L750.7,163.2 L753.0,159.4 L755.3,155.6 L756.8,150.3 L759.9,147.3 L762.1,145.0 L763.7,148.8 L765.2,155.6 L767.5,151.1 L769.8,146.5 L772.0,146.5 L774.3,151.1 L776.6,145.0 L778.9,141.9 L781.9,138.9 L784.2,135.1 L785.0,136.5 L786.7,138.3 L788.0,131.3 L789.8,124.3 L791.5,117.4 L793.3,114.3 L794.6,115.7 L795.4,122.6 L796.3,133.0 L797.2,137.4 L797.9,140.9 L798.5,129.6 L799.8,135.7 L801.1,129.6 L802.8,131.3 L804.6,133.5 L806.3,133.9 L808.0,138.3 L809.3,144.3 L810.7,147.0 L811.5,140.0 L813.7,137.4 L815.4,139.6 L817.2,142.6 L819.3,147.0 L820.7,140.9 L822.8,136.5 L824.6,133.0 L826.7,125.2 L828.5,123.9 L830.2,124.8 L832.4,123.0 L834.6,122.6 L836.7,116.5 L838.5,118.3 L839.3,121.7 L841.1,121.3 L842.8,125.2 L844.1,127.8 L846.3,128.7 L847.2,123.5 L848.9,120.4 L851.1,119.6 L852.8,117.4 L854.6,114.8 L856.7,112.6 L858.9,110.4 L860.0,109.6 L862.5,108.1 L864.6,110.7 L866.1,113.7 L868.1,111.7 L870.1,109.6 L872.2,112.2 L874.2,114.2 L875.7,116.2 L877.8,115.2 L879.8,114.2 L881.8,117.2 L883.3,117.8 L884.9,123.3 L886.9,122.3 L888.9,124.3 L889.9,130.4 L890.9,135.0 L892.5,134.5 L894.5,130.4 L896.5,125.4 L898.0,123.8 L899.6,126.4 L901.1,128.9 L902.6,132.0 L904.6,128.4 L906.2,131.4 L907.7,133.5 L909.7,132.5 L911.7,128.4 L914.3,124.3 L916.3,121.3 L918.3,120.8 L920.4,124.3 L922.4,125.9 L924.9,126.4 L927.5,127.9 L930.0,129.4 L931.5,134.5 L932.5,142.6 L934.1,141.6 L936.1,143.1 L938.1,146.7 L939.3,144.5 L940.8,146.7 L943.0,146.7 L944.1,153.9 L944.8,161.9 L945.9,167.0 L946.6,173.5 L947.7,166.2 L949.1,162.6 L950.6,169.1 L952.0,165.5 L953.8,162.6 L955.7,169.5 L956.7,161.9 L958.2,156.1 L959.3,152.1 L960.7,157.5 L961.4,149.6 L962.9,149.6 L964.3,151.7 L966.2,148.5 L968.0,143.4 L969.4,145.9 L970.9,151.7 L972.0,150.3 L973.4,154.6 L975.6,152.5 L977.4,151.7 L978.8,148.5 L980.3,151.7 L982.1,160.4 L984.3,159.7 L987.2,159.0 L990.1,160.4 L993.0,160.8 L994.8,159.7 L996.2,152.5 L998.0,151.7 L1000.2,151.7 L1001.3,159.0 L1001.7,166.2 L1003.1,161.9 L1006.0,165.5 L1008.2,163.3 L1010.0,161.3 L1012.6,161.6 L1014.6,160.3 L1016.2,164.6 L1018.2,162.9 L1020.4,163.9 L1022.7,162.3 L1024.7,158.7 L1026.0,154.8 L1027.9,152.2 L1029.6,150.9 L1031.9,152.2 L1034.1,150.5 L1036.1,151.5 L1037.7,154.1 L1038.7,150.9 L1040.3,149.9 L1042.6,151.5 L1044.6,151.5 L1046.5,153.5 L1047.5,156.1 L1048.8,150.2 L1050.8,147.6 L1052.4,147.9 L1054.4,148.9 L1055.7,147.3 L1057.9,145.7 L1059.9,144.7 L1061.2,140.8 L1062.5,142.1 L1063.5,146.0 L1065.4,145.7 L1067.4,145.7 L1069.0,143.7 L1070.7,146.6 L1072.6,147.3 L1075.2,147.0 L1077.8,146.0 L1080.1,145.7 L1081.8,147.6 L1085.0,149.3 L1086.9,145.6 L1089.4,145.6 L1091.2,144.3 L1093.4,145.3 L1095.6,143.7 L1098.1,145.0 L1101.2,145.6 L1104.3,146.2 L1107.8,146.5 L1108.7,151.2 L1111.2,150.6 L1113.7,149.9 L1116.2,151.5 L1118.4,153.1 L1120.5,151.5 L1123.0,152.1 L1125.8,150.6 L1128.0,151.5 L1130.5,153.4 L1133.0,152.4 L1134.9,147.4 L1138.0,146.8 L1140.5,142.5 L1143.0,142.5 L1145.5,143.7 L1148.0,141.8 L1150.5,138.4 L1152.3,136.5 L1154.2,138.1 L1156.4,138.4 L1158.0,137.8 L1159.2,138.1" fill="none" stroke="#000" stroke-width="1.4" stroke-linejoin="round"/>
<g transform="translate(946,528) scale(0.08403)">
<path fill="#9DABCD" fill-rule="evenodd" d="M65,175 L320,25 L545,185 L410,255 L400,275 L330,320 Z M265,110 L300,92 L450,175 L415,195 Z M175,180 L210,160 L355,240 L320,258 Z"/>
<path fill="#9DABCD" fill-rule="evenodd" d="M40,210 L300,350 L300,660 L40,500 Z M95,320 L240,400 L240,450 L300,480 L300,590 L95,470 Z"/>
<path fill="#BFD8EE" fill-rule="evenodd" d="M330,350 L560,235 L560,500 L330,640 Z M385,375 L510,310 L510,330 L560,305 L560,430 L510,460 L510,495 L385,565 Z"/>
</g>
<text x="1004" y="556.6" class="lg" fill="#96A5C8" stroke="#96A5C8" textLength="144" lengthAdjust="spacingAndGlyphs">BLOCKCHAIN</text>
<text x="1004" y="574.8" class="lg" textLength="144" lengthAdjust="spacingAndGlyphs"><tspan fill="#BCD7EE" stroke="#BCD7EE">CENTER</tspan><tspan fill="#8C8C8C" stroke="#8C8C8C">.NET</tspan></text>

<text x="27.9" y="655.1" class="xl" text-anchor="end" transform="rotate(-45 27.9 655.1)">2015</text>
<text x="55.3" y="655.1" class="xl" text-anchor="end" transform="rotate(-45 55.3 655.1)">2016</text>
<text x="194.2" y="655.1" class="xl" text-anchor="end" transform="rotate(-45 194.2 655.1)">2017</text>
<text x="333.6" y="655.1" class="xl" text-anchor="end" transform="rotate(-45 333.6 655.1)">2018</text>
<text x="473.0" y="655.1" class="xl" text-anchor="end" transform="rotate(-45 473.0 655.1)">2019</text>
<text x="612.4" y="655.1" class="xl" text-anchor="end" transform="rotate(-45 612.4 655.1)">2020</text>
<text x="751.8" y="655.1" class="xl" text-anchor="end" transform="rotate(-45 751.8 655.1)">2021</text>
<text x="891.2" y="655.1" class="xl" text-anchor="end" transform="rotate(-45 891.2 655.1)">2022</text>
<text x="1030.6" y="655.1" class="xl" text-anchor="end" transform="rotate(-45 1030.6 655.1)">2023</text>
<text x="1169.9" y="655.1" class="xl" text-anchor="end" transform="rotate(-45 1169.9 655.1)">2024</text>

</svg>
</body></html>
